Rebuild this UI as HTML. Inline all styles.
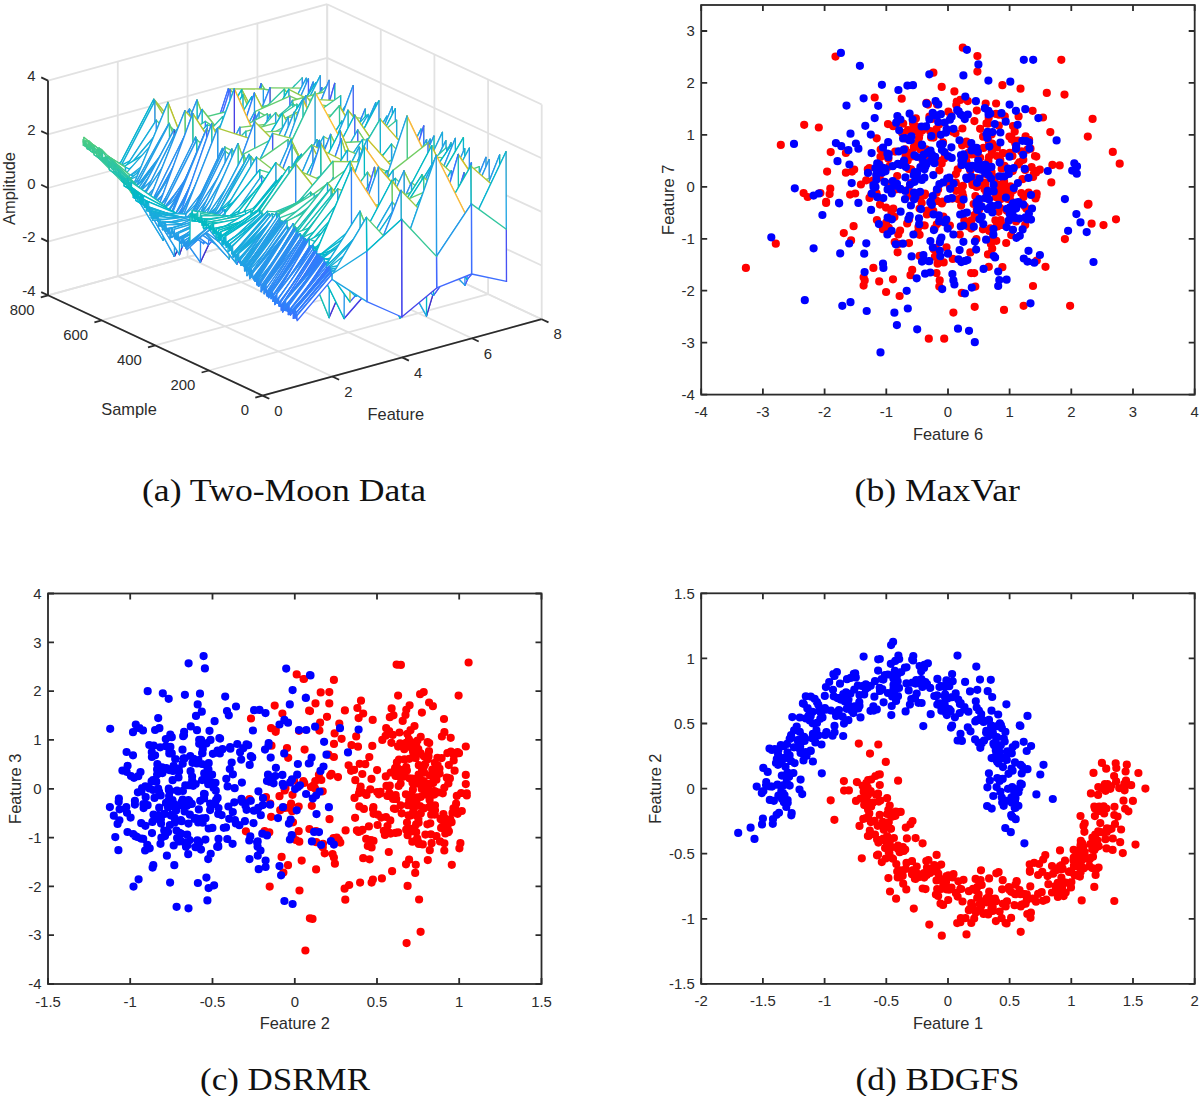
<!DOCTYPE html>
<html><head><meta charset="utf-8"><style>
html,body{margin:0;padding:0;background:#fff;}
body{width:1200px;height:1096px;overflow:hidden;}
svg{display:block;}
.f{fill:#fff;stroke:none}.c0{stroke:#1ca9df}.c1{stroke:#72cd64}.c2{stroke:#64cd6f}.c3{stroke:#2f81fa}.c4{stroke:#24c1ae}.c5{stroke:#20a5e3}.c6{stroke:#2797eb}.c7{stroke:#81cc59}.c8{stroke:#4563fd}.c9{stroke:#2e87f7}.c10{stroke:#259be8}.c11{stroke:#08b5d0}.c12{stroke:#0bbdbd}.c13{stroke:#8fcb4e}.c14{stroke:#18addb}.c15{stroke:#9dc943}.c16{stroke:#2d8cf3}.c17{stroke:#3e6fff}.c18{stroke:#4269fe}.c19{stroke:#4747eb}.c20{stroke:#31c69f}.c21{stroke:#3fca8e}.c22{stroke:#2b91ef}.c23{stroke:#37c897}.c24{stroke:#4758f8}.c25{stroke:#12b1d6}.c26{stroke:#57cc7a}.c27{stroke:#01b8ca}.c28{stroke:#23a0e5}.c29{stroke:#abc739}.c30{stroke:#4acb84}.c31{stroke:#2cc4a7}.c32{stroke:#02bac3}.c33{stroke:#b9c431}.c34{stroke:#4537d5}.c35{stroke:#19bfb6}.c36{stroke:#465efb}.c37{stroke:#402ab4}.c38{stroke:#3875fe}.c39{stroke:#f0ba36}.c40{stroke:#422ec0}.c41{stroke:#e6bb2d}.c42{stroke:#4741e5}.c43{stroke:#4332cb}.c44{stroke:#4852f4}.c45{stroke:#fec338}.c46{stroke:#c5c22a}.c47{stroke:#484df0}.c48{stroke:#327cfc}.c49{stroke:#f8ba3d}.c50{stroke:#d1bf27}
</style></head><body>
<svg width="1200" height="1096" viewBox="0 0 1200 1096">
<g><line x1="48" y1="295.3" x2="327.2" y2="218.9" stroke="#e2e2e2" stroke-width="1.8"/><line x1="541.7" y1="319.2" x2="327.2" y2="218.9" stroke="#e2e2e2" stroke-width="1.8"/><line x1="48" y1="241.6" x2="327.2" y2="165.2" stroke="#e2e2e2" stroke-width="1.8"/><line x1="541.7" y1="265.5" x2="327.2" y2="165.2" stroke="#e2e2e2" stroke-width="1.8"/><line x1="48" y1="188" x2="327.2" y2="111.6" stroke="#e2e2e2" stroke-width="1.8"/><line x1="541.7" y1="211.9" x2="327.2" y2="111.6" stroke="#e2e2e2" stroke-width="1.8"/><line x1="48" y1="134.3" x2="327.2" y2="57.9" stroke="#e2e2e2" stroke-width="1.8"/><line x1="541.7" y1="158.2" x2="327.2" y2="57.9" stroke="#e2e2e2" stroke-width="1.8"/><line x1="48" y1="80.6" x2="327.2" y2="4.2" stroke="#e2e2e2" stroke-width="1.8"/><line x1="541.7" y1="104.5" x2="327.2" y2="4.2" stroke="#e2e2e2" stroke-width="1.8"/><line x1="48" y1="295.3" x2="48" y2="80.6" stroke="#e2e2e2" stroke-width="1.8"/><line x1="262.5" y1="395.6" x2="48" y2="295.3" stroke="#e2e2e2" stroke-width="1.8"/><line x1="117.8" y1="276.2" x2="117.8" y2="61.5" stroke="#e2e2e2" stroke-width="1.8"/><line x1="332.3" y1="376.5" x2="117.8" y2="276.2" stroke="#e2e2e2" stroke-width="1.8"/><line x1="187.6" y1="257.1" x2="187.6" y2="42.4" stroke="#e2e2e2" stroke-width="1.8"/><line x1="402.1" y1="357.4" x2="187.6" y2="257.1" stroke="#e2e2e2" stroke-width="1.8"/><line x1="257.4" y1="238" x2="257.4" y2="23.3" stroke="#e2e2e2" stroke-width="1.8"/><line x1="471.9" y1="338.3" x2="257.4" y2="238" stroke="#e2e2e2" stroke-width="1.8"/><line x1="327.2" y1="218.9" x2="327.2" y2="4.2" stroke="#e2e2e2" stroke-width="1.8"/><line x1="541.7" y1="319.2" x2="327.2" y2="218.9" stroke="#e2e2e2" stroke-width="1.8"/><line x1="541.7" y1="319.2" x2="541.7" y2="104.5" stroke="#e2e2e2" stroke-width="1.8"/><line x1="262.5" y1="395.6" x2="541.7" y2="319.2" stroke="#e2e2e2" stroke-width="1.8"/><line x1="488.1" y1="294.1" x2="488.1" y2="79.4" stroke="#e2e2e2" stroke-width="1.8"/><line x1="208.9" y1="370.5" x2="488.1" y2="294.1" stroke="#e2e2e2" stroke-width="1.8"/><line x1="434.4" y1="269" x2="434.4" y2="54.3" stroke="#e2e2e2" stroke-width="1.8"/><line x1="155.2" y1="345.4" x2="434.4" y2="269" stroke="#e2e2e2" stroke-width="1.8"/><line x1="380.8" y1="244" x2="380.8" y2="29.3" stroke="#e2e2e2" stroke-width="1.8"/><line x1="101.6" y1="320.4" x2="380.8" y2="244" stroke="#e2e2e2" stroke-width="1.8"/><line x1="327.2" y1="218.9" x2="327.2" y2="4.2" stroke="#e2e2e2" stroke-width="1.8"/><line x1="48" y1="295.3" x2="327.2" y2="218.9" stroke="#e2e2e2" stroke-width="1.8"/></g>
<g fill="none" stroke-width="1.35" stroke-linejoin="round" stroke-linecap="round"><path class="c0" d="M259.5 105.2L259.8 138.3 294.7 85.3M294.7 85.3L259.8 138.3"/><path class="c1" d="M260.9 131.2L261.2 83.7 296.1 141.2"/><path class="f" d="M261.4 116.5L296.3 122.8 296.1 141.2 261.2 83.7z"/><path class="c1" d="M296.1 141.2L261.2 83.7"/><path class="f" d="M263.6 149.3L298.5 166.4 298.2 95.4 263.3 89z"/><path class="c2" d="M298.2 95.4L263.3 89"/><path class="c1" d="M302.2 77.9L302 134.4"/><path class="f" d="M267.6 147.6L302.5 158.2 302.2 77.9 267.3 113.8z"/><path class="c3" d="M302.5 158.2L302.2 77.9"/><path class="c4" d="M302.2 77.9L267.3 113.8"/><path class="f" d="M270.3 201.7L305.2 138.2 304.9 88.2 270 87.8z"/><path class="c1" d="M304.9 88.2L270 87.8"/><path class="c5" d="M271.1 159.4L271.3 145.4 306.2 78.3"/><path class="c1" d="M306.2 78.3L306 122.2"/><path class="f" d="M271.6 171.5L306.5 148 306.2 78.3 271.3 145.4z"/><path class="c6" d="M306.5 148L306.2 78.3"/><path class="c5" d="M306.2 78.3L271.3 145.4"/><path class="c6" d="M273.2 165.3L273.5 158.9 308.4 78.8"/><path class="c7" d="M308.4 78.8L308.1 116"/><path class="f" d="M273.8 148.2L308.7 177.9 308.4 78.8 273.5 158.9z"/><path class="c8" d="M308.7 177.9L308.4 78.8"/><path class="c6" d="M308.4 78.8L273.5 158.9"/><path class="c9" d="M278 106.9L278.3 168 313.2 82.1"/><path class="c1" d="M313.2 82.1L312.9 134.2"/><path class="c10" d="M313.5 146.4L313.2 82.1"/><path class="c9" d="M313.2 82.1L278.3 168"/><path class="c11" d="M280.7 143.1L281 137.5 315.9 82.6"/><path class="f" d="M281.3 113.6L316.2 109 315.9 82.6 281 137.5z"/><path class="c11" d="M315.9 82.6L281 137.5"/><path class="c8" d="M226 178.8L226.3 190 261.2 83.7"/><path class="c1" d="M261.2 83.7L260.9 131.2"/><path class="c12" d="M261.4 116.5L261.2 83.7"/><path class="c8" d="M261.2 83.7L226.3 190"/><path class="c2" d="M263.3 89L263 129.6"/><path class="f" d="M228.7 174.2L263.6 149.3 263.3 89 228.4 88.8z"/><path class="c10" d="M263.6 149.3L263.3 89"/><path class="c13" d="M263.3 89L228.4 88.8M283.9 190.2L284.2 89.3 319.1 131.9"/><path class="f" d="M284.5 129.6L319.4 102.7 319.1 131.9 284.2 89.3z"/><path class="c13" d="M319.1 131.9L284.2 89.3"/><path class="c14" d="M285 160.3L285.3 146.5 320.2 75.9"/><path class="c15" d="M320.2 75.9L319.9 137.9"/><path class="c13" d="M229.7 101.5L230 89.6 264.9 129.9"/><path class="f" d="M285.6 192.4L320.5 158.7 320.2 75.9 285.3 146.5z"/><path class="c16" d="M320.5 158.7L320.2 75.9"/><path class="c14" d="M320.2 75.9L285.3 146.5"/><path class="f" d="M230.3 185.7L265.2 182.2 264.9 129.9 230 89.6z"/><path class="c17" d="M230 89.6L230.3 185.7 265.2 182.2"/><path class="c13" d="M264.9 129.9L230 89.6"/><path class="c18" d="M286.6 146.2L286.9 191.1 321.8 87.6"/><path class="c1" d="M321.8 87.6L321.5 119.1"/><path class="c0" d="M322.1 141.7L321.8 87.6"/><path class="c18" d="M321.8 87.6L286.9 191.1"/><path class="f" d="M289 156.2L323.9 168.1 323.7 107.2 288.8 89.3z"/><path class="c13" d="M323.7 107.2L288.8 89.3"/><path class="f" d="M290.1 195L325 123.7 324.7 110.9 289.8 96.2z"/><path class="c1" d="M324.7 110.9L289.8 96.2"/><path class="c9" d="M234.8 109.5L235.1 174.4 270 87.8"/><path class="c1" d="M270 87.8L269.7 165.1"/><path class="f" d="M235.4 136.9L270.3 201.7 270 87.8 235.1 174.4z"/><path class="c19" d="M270.3 201.7L270 87.8"/><path class="c9" d="M270 87.8L235.1 174.4"/><path class="f" d="M291.7 166.2L326.6 148.8 326.4 86.2 291.5 119.3z"/><path class="c20" d="M326.4 86.2L291.5 119.3"/><path class="f" d="M292.8 103.8L327.7 127.9 327.4 91 292.5 100.5z"/><path class="c2" d="M292.5 100.5L292.8 103.8 327.7 127.9"/><path class="c1" d="M327.4 91L292.5 100.5"/><path class="c11" d="M292.8 103.8L293.1 143.9 328 178.7"/><path class="c2" d="M327.7 127.9L292.8 103.8"/><path class="f" d="M238.1 120.6L273 161.1 272.7 104.2 237.8 112.2z"/><path class="c21" d="M272.7 104.2L237.8 112.2"/><path class="c22" d="M293.9 131.2L294.1 169.4 329 80.5"/><path class="c15" d="M329 80.5L328.8 148.1"/><path class="f" d="M294.4 208.4L329.3 188.3 329 80.5 294.1 169.4z"/><path class="c8" d="M329.3 188.3L329 80.5"/><path class="c22" d="M329 80.5L294.1 169.4"/><path class="c11" d="M295.7 110.2L296 145.4 330.9 97.6M330.9 97.6L296 145.4"/><path class="c23" d="M275.6 103L240.7 116.3"/><path class="c2" d="M331.7 129.7L296.8 104.3"/><path class="c15" d="M241.5 162.4L241.8 89.7 276.7 156.4"/><path class="f" d="M242.1 137.9L277 109.6 276.7 156.4 241.8 89.7z"/><path class="c15" d="M276.7 156.4L241.8 89.7"/><path class="c13" d="M242.6 158.3L242.9 94.6 277.8 178.5"/><path class="f" d="M243.1 144.7L278 106.9 277.8 178.5 242.9 94.6z"/><path class="c13" d="M277.8 178.5L242.9 94.6"/><path class="c24" d="M299.5 164.3L299.8 205.7 334.7 83.4"/><path class="c15" d="M334.7 83.4L334.4 167.6"/><path class="f" d="M300 160.9L334.9 140.1 334.7 83.4 299.8 205.7z"/><path class="c25" d="M334.9 140.1L334.7 83.4"/><path class="c24" d="M334.7 83.4L299.8 205.7"/><path class="c26" d="M189.2 168.1L189.5 109.1 224.4 152.3"/><path class="f" d="M189.7 157.3L224.6 115.3 224.4 152.3 189.5 109.1z"/><path class="c26" d="M224.4 152.3L189.5 109.1"/><path class="f" d="M303.5 164.8L338.4 111.8 338.1 100.7 303.2 98.8z"/><path class="c13" d="M338.1 100.7L303.2 98.8"/><path class="c17" d="M193.2 169.2L193.5 196.1 228.4 88.8"/><path class="c13" d="M228.4 88.8L228.1 111.2"/><path class="f" d="M193.8 170.8L228.7 174.2 228.4 88.8 193.5 196.1z"/><path class="c3" d="M228.7 174.2L228.4 88.8"/><path class="c17" d="M228.4 88.8L193.5 196.1"/><path class="c13" d="M284.2 89.3L283.9 190.2"/><path class="f" d="M304.9 200.2L339.8 142.1 339.5 107.8 304.6 102.1z"/><path class="c7" d="M339.5 107.8L304.6 102.1"/><path class="f" d="M249.6 114.6L284.5 129.6 284.2 89.3 249.3 123.4z"/><path class="c12" d="M284.5 129.6L284.2 89.3"/><path class="c20" d="M284.2 89.3L249.3 123.4"/><path class="c1" d="M340.6 95.7L340.3 137"/><path class="f" d="M305.9 95.6L340.8 143.6 340.6 95.7 305.7 120.4z"/><path class="c15" d="M305.7 120.4L305.9 95.6 340.8 143.6"/><path class="c25" d="M340.8 143.6L340.6 95.7"/><path class="c23" d="M340.6 95.7L305.7 120.4"/><path class="c18" d="M194.8 173.9L195.1 198.6 230 89.6"/><path class="c13" d="M230 89.6L229.7 101.5"/><path class="f" d="M306.2 178L341.1 155.8 340.8 143.6 305.9 95.6z"/><path class="c15" d="M340.8 143.6L305.9 95.6"/><path class="f" d="M195.4 171.4L230.3 185.7 230 89.6 195.1 198.6z"/><path class="c17" d="M230.3 185.7L230 89.6"/><path class="c18" d="M230 89.6L195.1 198.6"/><path class="c15" d="M286.6 146.2L251.7 96.8"/><path class="c13" d="M196.7 179.4L197 100.1 231.9 194"/><path class="f" d="M197.3 146L232.2 147.4 231.9 194 197 100.1z"/><path class="c13" d="M231.9 194L197 100.1"/><path class="c27" d="M253.6 156.7L253.9 146.7 288.8 89.3"/><path class="c13" d="M288.8 89.3L288.5 180.3"/><path class="f" d="M254.1 161.2L289 156.2 288.8 89.3 253.9 146.7z"/><path class="c28" d="M289 156.2L288.8 89.3"/><path class="c27" d="M288.8 89.3L253.9 146.7"/><path class="c29" d="M254.1 161.2L254.4 93 289.3 160"/><path class="f" d="M254.7 174.8L289.6 131.6 289.3 160 254.4 93z"/><path class="c29" d="M289.3 160L254.4 93"/><path class="c1" d="M289.8 96.2L289.6 131.6"/><path class="f" d="M255.2 114.3L290.1 195 289.8 96.2 254.9 111.6z"/><path class="c26" d="M254.9 111.6L255.2 114.3 290.1 195"/><path class="c8" d="M290.1 195L289.8 96.2"/><path class="c2" d="M289.8 96.2L254.9 111.6"/><path class="c26" d="M290.1 195L255.2 114.3"/><path class="c25" d="M310.8 196.8L311 154.9 345.9 105.5"/><path class="f" d="M200.2 169.1L235.1 174.4 234.8 109.5 199.9 118.4z"/><path class="c30" d="M234.8 109.5L199.9 118.4"/><path class="c25" d="M345.9 105.5L311 154.9"/><path class="c1" d="M201.8 207.5L202.1 109.5 237 154"/><path class="c5" d="M257.4 133.6L257.6 164.4 292.5 100.5"/><path class="c1" d="M292.5 100.5L292.3 170.6"/><path class="f" d="M202.3 151.4L237.2 139 237 154 202.1 109.5z"/><path class="c1" d="M237 154L202.1 109.5"/><path class="f" d="M257.9 133.5L292.8 103.8 292.5 100.5 257.6 164.4z"/><path class="c2" d="M292.8 103.8L292.5 100.5"/><path class="c5" d="M292.5 100.5L257.6 164.4"/><path class="f" d="M258.2 139.3L293.1 143.9 292.8 103.8 257.9 133.5z"/><path class="c11" d="M293.1 143.9L292.8 103.8"/><path class="c31" d="M292.8 103.8L257.9 133.5"/><path class="f" d="M259.2 160.4L294.1 169.4 293.9 131.2 259 112.2z"/><path class="c2" d="M293.9 131.2L259 112.2"/><path class="f" d="M205.6 201.2L240.5 129.3 240.2 143.9 205.3 121.4z"/><path class="c30" d="M240.2 143.9L205.3 121.4"/><path class="c23" d="M240.7 116.3L205.8 128.1"/><path class="c2" d="M296.8 104.3L296.5 147.9"/><path class="f" d="M262.2 211.9L297.1 141.3 296.8 104.3 261.9 127.7z"/><path class="c27" d="M297.1 141.3L296.8 104.3"/><path class="c23" d="M296.8 104.3L261.9 127.7"/><path class="c32" d="M206.6 152L206.9 147.6 241.8 89.7"/><path class="c15" d="M241.8 89.7L241.5 162.4"/><path class="f" d="M207.2 124.9L242.1 137.9 241.8 89.7 206.9 147.6z"/><path class="c32" d="M242.1 137.9L241.8 89.7M241.8 89.7L206.9 147.6"/><path class="c6" d="M318 168.8L318.3 178.5 353.2 85.6"/><path class="c33" d="M353.2 85.6L352.9 159.8"/><path class="f" d="M207.4 184L242.3 105.8 242.1 137.9 207.2 124.9z"/><path class="c21" d="M242.1 137.9L207.2 124.9"/><path class="f" d="M318.5 161.3L353.4 200.5 353.2 85.6 318.3 178.5z"/><path class="c8" d="M353.4 200.5L353.2 85.6"/><path class="c6" d="M353.2 85.6L318.3 178.5"/><path class="c11" d="M207.7 160.6L208 154.6 242.9 94.6"/><path class="c13" d="M242.9 94.6L242.6 158.3"/><path class="f" d="M208.2 183L243.1 144.7 242.9 94.6 208 154.6z"/><path class="c11" d="M243.1 144.7L242.9 94.6M242.9 94.6L208 154.6"/><path class="c6" d="M153.2 138.2L153.5 179.7 188.4 110.9"/><path class="c29" d="M153.5 179.7L153.8 99.3 188.7 141.7"/><path class="c6" d="M188.4 110.9L153.5 179.7"/><path class="f" d="M154 198.3L188.9 150.5 188.7 141.7 153.8 99.3z"/><path class="c29" d="M188.7 141.7L153.8 99.3"/><path class="c16" d="M154.3 165.1L154.6 184.8 189.5 109.1"/><path class="c26" d="M189.5 109.1L189.2 168.1"/><path class="f" d="M154.8 101.1L189.7 157.3 189.5 109.1 154.6 184.8z"/><path class="c15" d="M154.6 184.8L154.8 101.1 189.7 157.3"/><path class="c0" d="M189.7 157.3L189.5 109.1"/><path class="c16" d="M189.5 109.1L154.6 184.8"/><path class="f" d="M155.1 183.4L190 199.3 189.7 157.3 154.8 101.1z"/><path class="c15" d="M189.7 157.3L154.8 101.1"/><path class="f" d="M156.5 186.7L191.4 115.7 191.1 154 156.2 120.3z"/><path class="c26" d="M191.1 154L156.2 120.3"/><path class="f" d="M267.5 162.8L302.4 129.9 302.2 144.9 267.3 113.9z"/><path class="c1" d="M302.2 144.9L267.3 113.9"/><path class="c27" d="M268.1 179.6L268.3 153.1 303.2 98.8"/><path class="f" d="M268.6 149L303.5 164.8 303.2 98.8 268.3 153.1z"/><path class="c28" d="M303.5 164.8L303.2 98.8"/><path class="c27" d="M303.2 98.8L268.3 153.1"/><path class="c1" d="M270 118.6L270.2 114.5 305.1 200.9M305.1 200.9L270.2 114.5"/><path class="c5" d="M270.8 140.7L271 173.1 305.9 95.6"/><path class="c15" d="M305.9 95.6L305.7 120.4"/><path class="f" d="M271.3 160.5L306.2 178 305.9 95.6 271 173.1z"/><path class="c16" d="M306.2 178L305.9 95.6"/><path class="c5" d="M305.9 95.6L271 173.1M327.1 160.5L327.4 171.3 362.3 116.3M362.3 116.3L327.4 171.3"/><path class="c27" d="M216.6 130.6L216.8 155.5 251.7 96.8"/><path class="f" d="M327.9 183.7L362.8 169.6 362.5 118.4 327.6 114.9z"/><path class="c1" d="M362.5 118.4L327.6 114.9"/><path class="f" d="M217.1 178.5L252 181.7 251.7 96.8 216.8 155.5z"/><path class="c9" d="M252 181.7L251.7 96.8"/><path class="c27" d="M251.7 96.8L216.8 155.5"/><path class="c22" d="M161.8 159.1L162.1 187.1 197 100.1"/><path class="c13" d="M197 100.1L196.7 179.4"/><path class="f" d="M162.4 155.8L197.3 146 197 100.1 162.1 187.1z"/><path class="c27" d="M197.3 146L197 100.1"/><path class="c22" d="M197 100.1L162.1 187.1"/><path class="c34" d="M162.9 146.2L163.2 240.4 198.1 155M198.1 155L163.2 240.4"/><path class="c9" d="M330.1 169.6L330.3 194.6 365.2 109.1"/><path class="c2" d="M365.2 109.1L365 156.2"/><path class="c3" d="M219.2 160.6L219.5 198.8 254.4 93"/><path class="c29" d="M254.4 93L254.1 161.2"/><path class="f" d="M275.1 144.8L310 151.6 309.7 106.1 274.8 123.4z"/><path class="c26" d="M309.7 106.1L274.8 123.4"/><path class="f" d="M330.6 188L365.5 136.9 365.2 109.1 330.3 194.6z"/><path class="c35" d="M365.5 136.9L365.2 109.1"/><path class="c9" d="M365.2 109.1L330.3 194.6"/><path class="f" d="M219.8 148.1L254.7 174.8 254.4 93 219.5 198.8z"/><path class="c6" d="M254.7 174.8L254.4 93"/><path class="c3" d="M254.4 93L219.5 198.8"/><path class="c28" d="M219.8 148.1L220 177.2 254.9 111.6"/><path class="c2" d="M254.9 111.6L254.7 174.8"/><path class="c7" d="M275.3 154.5L275.6 112.6 310.5 157"/><path class="f" d="M220.3 217.1L255.2 114.3 254.9 111.6 220 177.2z"/><path class="c36" d="M220 177.2L220.3 217.1 255.2 114.3"/><path class="c26" d="M255.2 114.3L254.9 111.6"/><path class="c28" d="M254.9 111.6L220 177.2"/><path class="f" d="M275.9 182.2L310.8 196.8 310.5 157 275.6 112.6z"/><path class="c7" d="M310.5 157L275.6 112.6"/><path class="c10" d="M255.5 171.5L255.2 114.3"/><path class="c36" d="M255.2 114.3L220.3 217.1"/><path class="f" d="M332.2 186.8L367.1 167.2 366.8 114.9 331.9 153.6z"/><path class="c32" d="M366.8 114.9L331.9 153.6"/><path class="c0" d="M333 186.2L333.3 172.5 368.2 114.5"/><path class="c26" d="M368.2 114.5L367.9 142.8"/><path class="f" d="M333.5 118.2L368.4 162 368.2 114.5 333.3 172.5z"/><path class="c0" d="M368.4 162L368.2 114.5M368.2 114.5L333.3 172.5"/><path class="c6" d="M166.9 151.8L167.2 184.9 202.1 109.5"/><path class="c1" d="M202.1 109.5L201.8 207.5M257.4 133.6L222.5 116.7"/><path class="f" d="M167.4 145.1L202.3 151.4 202.1 109.5 167.2 184.9z"/><path class="c11" d="M202.3 151.4L202.1 109.5"/><path class="c6" d="M202.1 109.5L167.2 184.9"/><path class="c33" d="M167.7 202.7L168 102.5 202.9 192.5"/><path class="f" d="M168.3 124.5L203.2 160.7 202.9 192.5 168 102.5z"/><path class="c26" d="M168 102.5L168.3 124.5 203.2 160.7"/><path class="c33" d="M202.9 192.5L168 102.5"/><path class="f" d="M168.5 160.8L203.4 176.7 203.2 160.7 168.3 124.5z"/><path class="c26" d="M203.2 160.7L168.3 124.5"/><path class="c22" d="M223.8 162.5L224.1 189.9 259 112.2"/><path class="c2" d="M259 112.2L258.7 139.9"/><path class="f" d="M224.3 164.8L259.2 160.4 259 112.2 224.1 189.9z"/><path class="c14" d="M259.2 160.4L259 112.2"/><path class="c22" d="M259 112.2L224.1 189.9"/><path class="c2" d="M169.1 194.2L169.3 123.5 204.2 222.2"/><path class="f" d="M169.6 143.7L204.5 151.2 204.2 222.2 169.3 123.5z"/><path class="c31" d="M169.3 123.5L169.6 143.7 204.5 151.2"/><path class="c2" d="M204.2 222.2L169.3 123.5"/><path class="c30" d="M205.3 121.4L205 168.5"/><path class="f" d="M170.7 171.1L205.6 201.2 205.3 121.4 170.4 143.9z"/><path class="c17" d="M205.6 201.2L205.3 121.4"/><path class="c31" d="M205.3 121.4L170.4 143.9"/><path class="c13" d="M282 163L282.3 113.4 317.2 175.2"/><path class="f" d="M282.6 145.5L317.5 145.7 317.2 175.2 282.3 113.4z"/><path class="c13" d="M317.2 175.2L282.3 113.4"/><path class="c21" d="M207.2 124.9L206.9 147.6"/><path class="f" d="M172.5 150.8L207.4 184 207.2 124.9 172.3 161.7z"/><path class="c16" d="M207.4 184L207.2 124.9"/><path class="c27" d="M207.2 124.9L172.3 161.7"/><path class="c33" d="M339.2 206.6L339.4 105.8 374.3 165.9"/><path class="f" d="M339.7 137.4L374.6 158.6 374.3 165.9 339.4 105.8z"/><path class="c33" d="M374.3 165.9L339.4 105.8"/><path class="c11" d="M153.2 138.2L118.3 163.8M118.6 168.2L118.9 166.1 153.8 99.3"/><path class="c29" d="M153.8 99.3L153.5 179.7"/><path class="c28" d="M340.5 190.2L340.8 182.5 375.7 102.7"/><path class="c15" d="M375.7 102.7L375.4 143.1"/><path class="f" d="M174.4 256.4L209.3 185.2 209.1 150.1 174.1 129.6z"/><path class="c37" d="M174.1 129.6L174.4 256.4 209.3 185.2"/><path class="c26" d="M209.1 150.1L174.1 129.6"/><path class="f" d="M119.1 168.5L154 198.3 153.8 99.3 118.9 166.1z"/><path class="c38" d="M154 198.3L153.8 99.3"/><path class="c11" d="M153.8 99.3L118.9 166.1"/><path class="c32" d="M376 149.3L375.7 102.7"/><path class="c28" d="M375.7 102.7L340.8 182.5"/><path class="f" d="M174.7 180.3L209.6 141.5 209.3 185.2 174.4 256.4z"/><path class="c37" d="M209.3 185.2L174.4 256.4"/><path class="c25" d="M119.7 169.2L119.9 168.2 154.8 101.1"/><path class="c15" d="M154.8 101.1L154.6 184.8"/><path class="c1" d="M341.6 160.5L341.9 121.2 376.8 170.4"/><path class="f" d="M120.2 172.5L155.1 183.4 154.8 101.1 119.9 168.2z"/><path class="c22" d="M155.1 183.4L154.8 101.1"/><path class="c25" d="M154.8 101.1L119.9 168.2"/><path class="c1" d="M376.8 170.4L341.9 121.2"/><path class="f" d="M121.3 174.2L156.2 120.3 155.9 147.8 121 165.4z"/><path class="c14" d="M121 165.4L121.3 174.2 156.2 120.3"/><path class="c26" d="M156.2 120.3L155.9 147.8"/><path class="c11" d="M155.9 147.8L121 165.4"/><path class="c1" d="M267.3 113.9L267 140.1"/><path class="f" d="M121.6 171.9L156.5 186.7 156.2 120.3 121.3 174.2z"/><path class="c16" d="M156.5 186.7L156.2 120.3"/><path class="c14" d="M156.2 120.3L121.3 174.2"/><path class="f" d="M232.6 148.5L267.5 162.8 267.3 113.9 232.4 131.9z"/><path class="c14" d="M267.5 162.8L267.3 113.9"/><path class="c30" d="M267.3 113.9L232.4 131.9"/><path class="c14" d="M121.6 171.9L121.8 174.5 156.7 133.7"/><path class="f" d="M288.5 189.5L323.4 139.4 323.1 114.3 288.2 117.3z"/><path class="c13" d="M323.1 114.3L288.2 117.3"/><path class="f" d="M122.1 167.6L157 146.7 156.7 133.7 121.8 174.5z"/><path class="c14" d="M156.7 133.7L121.8 174.5"/><path class="c11" d="M343.7 191L344 166.5 378.9 100.9"/><path class="c29" d="M378.9 100.9L378.6 166.6"/><path class="f" d="M122.4 170.1L157.3 204.1 157 146.7 122.1 167.6z"/><path class="c11" d="M157 146.7L122.1 167.6"/><path class="f" d="M344.3 146.9L379.2 187.7 378.9 100.9 344 166.5z"/><path class="c16" d="M379.2 187.7L378.9 100.9"/><path class="c11" d="M378.9 100.9L344 166.5"/><path class="c39" d="M234 179.8L234.3 88.8 269.2 167.8"/><path class="f" d="M234.5 241.8L269.4 165.6 269.2 167.8 234.3 88.8z"/><path class="c39" d="M269.2 167.8L234.3 88.8"/><path class="c20" d="M213.9 128.8L179 142.3"/><path class="c40" d="M179.2 216.9L179.5 254.6 214.4 152.6"/><path class="f" d="M179.8 177.8L214.7 167.3 214.4 152.6 179.5 254.6z"/><path class="c40" d="M214.4 152.6L179.5 254.6"/><path class="c10" d="M235.1 156.5L235.3 187.5 270.2 114.5"/><path class="c1" d="M270.2 114.5L270 118.6"/><path class="c12" d="M270 118.6L235.1 156.5"/><path class="f" d="M235.6 143.8L270.5 132.1 270.2 114.5 235.3 187.5z"/><path class="c23" d="M270.5 132.1L270.2 114.5"/><path class="c10" d="M270.2 114.5L235.3 187.5"/><path class="c25" d="M159.9 144.9L125 172.3"/><path class="f" d="M125.6 172.4L160.5 186.3 160.2 184.6 125.3 167.1z"/><path class="c25" d="M125.3 167.1L125.6 172.4 160.5 186.3"/><path class="c11" d="M160.2 184.6L125.3 167.1"/><path class="f" d="M126.1 180.9L161 189.4 160.7 134.2 125.8 173.6z"/><path class="c14" d="M160.7 134.2L125.8 173.6"/><path class="c29" d="M347.8 155.8L348 110.3 382.9 153.1"/><path class="f" d="M348.3 168.1L383.2 132 382.9 153.1 348 110.3z"/><path class="c29" d="M382.9 153.1L348 110.3"/><path class="f" d="M126.6 181.9L161.5 164.4 161.3 151.4 126.4 178.3z"/><path class="c0" d="M161.3 151.4L126.4 178.3"/><path class="f" d="M127.7 177.6L162.6 205.3 162.4 155.8 127.5 177.5z"/><path class="c0" d="M162.4 155.8L127.5 177.5"/><path class="f" d="M294.6 147.8L329.5 187.1 329.3 148.6 294.4 112.1z"/><path class="c29" d="M329.3 148.6L294.4 112.1"/><path class="c5" d="M128 183.1L128.3 184 163.2 240.4M162.9 146.2L128 183.1"/><path class="f" d="M128.5 181L163.4 158.3 163.2 240.4 128.3 184z"/><path class="c11" d="M163.4 158.3L163.2 240.4"/><path class="c5" d="M163.2 240.4L128.3 184"/><path class="f" d="M240.2 224.5L275.1 144.8 274.8 123.4 239.9 127.3z"/><path class="c1" d="M274.8 123.4L239.9 127.3"/><path class="f" d="M129.6 182.6L164.5 163.5 164.2 187.3 129.3 174.6z"/><path class="c25" d="M164.2 187.3L129.3 174.6"/><path class="f" d="M185.1 134.8L220 177.2 219.8 148.1 184.9 110.7z"/><path class="c26" d="M184.9 110.7L185.1 134.8 220 177.2"/><path class="c33" d="M219.8 148.1L184.9 110.7"/><path class="c7" d="M275.6 112.6L275.3 154.5"/><path class="f" d="M241 203.1L275.9 182.2 275.6 112.6 240.7 151.2z"/><path class="c10" d="M275.9 182.2L275.6 112.6"/><path class="c31" d="M275.6 112.6L240.7 151.2"/><path class="c14" d="M351.8 187.4L352 176.1 386.9 116.2"/><path class="f" d="M352.3 182.9L387.2 165.6 386.9 116.2 352 176.1z"/><path class="c25" d="M387.2 165.6L386.9 116.2"/><path class="c14" d="M386.9 116.2L352 176.1"/><path class="f" d="M130.7 183.7L165.6 211 165.3 151.4 130.4 178.4z"/><path class="c14" d="M165.3 151.4L130.4 178.4"/><path class="f" d="M131.5 186.5L166.4 166.3 166.1 163.8 131.2 178.8z"/><path class="c14" d="M166.1 163.8L131.2 178.8"/><path class="f" d="M187.8 154.9L222.7 123.5 222.5 116.7 187.6 154.6z"/><path class="c26" d="M222.7 123.5L222.5 116.7"/><path class="c4" d="M222.5 116.7L187.6 154.6M222.7 123.5L187.8 154.9"/><path class="c5" d="M167.4 145.1L132.5 184.1"/><path class="c29" d="M354.5 195.9L354.7 115.2 389.6 166"/><path class="c5" d="M132.8 186.6L133.1 186.1 168 102.5"/><path class="c33" d="M168 102.5L167.7 202.7"/><path class="f" d="M355 222L389.9 133.9 389.6 166 354.7 115.2z"/><path class="c29" d="M389.6 166L354.7 115.2"/><path class="f" d="M133.4 187.2L168.3 124.5 168 102.5 133.1 186.1z"/><path class="c28" d="M133.1 186.1L133.4 187.2 168.3 124.5"/><path class="c26" d="M168.3 124.5L168 102.5"/><path class="c5" d="M168 102.5L133.1 186.1"/><path class="f" d="M133.6 183.9L168.5 160.8 168.3 124.5 133.4 187.2z"/><path class="c28" d="M168.3 124.5L133.4 187.2"/><path class="f" d="M133.9 186.8L168.8 174.4 168.5 160.8 133.6 183.9z"/><path class="c5" d="M168.5 160.8L133.6 183.9"/><path class="c28" d="M134.2 183.7L134.4 189.9 169.3 123.5"/><path class="c2" d="M169.3 123.5L169.1 194.2"/><path class="c0" d="M169.1 194.2L134.2 183.7"/><path class="f" d="M134.7 189.4L169.6 143.7 169.3 123.5 134.4 189.9z"/><path class="c28" d="M134.4 189.9L134.7 189.4 169.6 143.7"/><path class="c31" d="M169.6 143.7L169.3 123.5"/><path class="c28" d="M169.3 123.5L134.4 189.9M169.6 143.7L134.7 189.4"/><path class="f" d="M246.1 178.6L281 178.4 280.7 121.7 245.8 131.3z"/><path class="c2" d="M280.7 121.7L245.8 131.3"/><path class="c28" d="M135.2 188.6L135.5 189 170.4 143.9M357.1 138.6L357.4 189 392.3 106.6"/><path class="c29" d="M392.3 106.6L392 179"/><path class="c28" d="M170.4 143.9L135.5 189"/><path class="f" d="M357.7 130L392.6 183.7 392.3 106.6 357.4 189z"/><path class="c1" d="M357.4 189L357.7 130 392.6 183.7"/><path class="c10" d="M392.6 183.7L392.3 106.6"/><path class="c28" d="M392.3 106.6L357.4 189"/><path class="f" d="M357.9 226.2L392.8 179.1 392.6 183.7 357.7 130z"/><path class="c1" d="M392.6 183.7L357.7 130"/><path class="c11" d="M247.1 203.2L247.4 171.9 282.3 113.4"/><path class="c13" d="M282.3 113.4L282 163"/><path class="c41" d="M302.7 178.4L302.9 99.4 337.8 174.8"/><path class="f" d="M136.6 189L171.5 202.9 171.2 159.3 136.3 185.9z"/><path class="c5" d="M171.2 159.3L136.3 185.9"/><path class="f" d="M247.7 188.2L282.6 145.5 282.3 113.4 247.4 171.9z"/><path class="c4" d="M282.6 145.5L282.3 113.4"/><path class="c11" d="M282.3 113.4L247.4 171.9"/><path class="f" d="M303.2 162.4L338.1 189.7 337.8 174.8 302.9 99.4z"/><path class="c41" d="M337.8 174.8L302.9 99.4"/><path class="c28" d="M136.8 195.6L137.1 190.2 172 140.3"/><path class="c33" d="M192.4 171.3L192.7 113.4 227.6 168.1"/><path class="f" d="M137.4 201.2L172.3 161.7 172 140.3 137.1 190.2z"/><path class="c28" d="M172 140.3L137.1 190.2"/><path class="f" d="M192.9 157.4L227.8 145 227.6 168.1 192.7 113.4z"/><path class="c4" d="M192.7 113.4L192.9 157.4 227.8 145"/><path class="c33" d="M227.6 168.1L192.7 113.4"/><path class="c23" d="M304.3 267L304.5 146.4 339.4 105.8"/><path class="c33" d="M339.4 105.8L339.2 206.6"/><path class="f" d="M304.8 159.2L339.7 137.4 339.4 105.8 304.5 146.4z"/><path class="c23" d="M339.7 137.4L339.4 105.8M339.4 105.8L304.5 146.4"/><path class="c28" d="M138.2 191.4L138.4 191.6 173.3 143.3"/><path class="c11" d="M360.1 180.9L360.4 176.1 395.3 108.7"/><path class="c29" d="M395.3 108.7L395 202.5"/><path class="c30" d="M82.9 139.8L83.2 141.9 118.1 164.7M117.8 165.3L82.9 139.8"/><path class="c28" d="M173.3 143.3L138.4 191.6"/><path class="f" d="M360.6 201.6L395.5 185.5 395.3 108.7 360.4 176.1z"/><path class="c10" d="M395.5 185.5L395.3 108.7"/><path class="c11" d="M395.3 108.7L360.4 176.1"/><path class="c0" d="M249.5 182L249.8 183.1 284.7 124"/><path class="c21" d="M83.2 141.9L83.4 145.2 118.3 163.8"/><path class="c30" d="M118.1 164.7L83.2 141.9M83.4 145.2L83.7 140.4 118.6 168.2"/><path class="c21" d="M118.3 163.8L83.4 145.2"/><path class="c10" d="M139 193.5L139.2 194.9 174.1 129.6"/><path class="c26" d="M174.1 129.6L173.9 188M83.7 140.4L84 137.5 118.9 166.1"/><path class="f" d="M139.5 193.5L174.4 256.4 174.1 129.6 139.2 194.9z"/><path class="c10" d="M139.2 194.9L139.5 193.5 174.4 256.4"/><path class="c37" d="M174.4 256.4L174.1 129.6"/><path class="c10" d="M174.1 129.6L139.2 194.9"/><path class="f" d="M84.2 144.9L119.1 168.5 118.9 166.1 84 137.5z"/><path class="c21" d="M84 137.5L84.2 144.9 119.1 168.5"/><path class="c26" d="M118.9 166.1L84 137.5"/><path class="f" d="M139.8 190.2L174.7 180.3 174.4 256.4 139.5 193.5z"/><path class="c28" d="M174.7 180.3L174.4 256.4"/><path class="c10" d="M174.4 256.4L139.5 193.5"/><path class="c7" d="M396.6 120.2L396.3 162.7"/><path class="f" d="M250.9 159.8L285.8 165.9 285.5 126 250.6 145.4z"/><path class="c21" d="M285.5 126L250.6 145.4"/><path class="c30" d="M84.2 144.9L84.5 142.6 119.4 168.1"/><path class="c21" d="M119.1 168.5L84.2 144.9"/><path class="f" d="M362 141.5L396.9 174.1 396.6 120.2 361.7 148.9z"/><path class="c0" d="M396.9 174.1L396.6 120.2"/><path class="c23" d="M396.6 120.2L361.7 148.9"/><path class="c26" d="M195.3 158L195.6 137.2 230.5 205.5"/><path class="c21" d="M84.5 142.6L84.8 143.8 119.7 169.2"/><path class="c26" d="M230.5 205.5L195.6 137.2"/><path class="c30" d="M84.8 143.8L85 140.7 119.9 168.2"/><path class="c21" d="M119.7 169.2L84.8 143.8"/><path class="c11" d="M306.7 172.9L307 176.7 341.9 121.2"/><path class="c1" d="M341.9 121.2L341.6 160.5"/><path class="c28" d="M175.2 157.1L140.3 191.5"/><path class="c30" d="M85 140.7L85.3 141.4 120.2 172.5M119.9 168.2L85 140.7"/><path class="f" d="M307.2 170.4L342.1 164.7 341.9 121.2 307 176.7z"/><path class="c11" d="M342.1 164.7L341.9 121.2M341.9 121.2L307 176.7"/><path class="f" d="M362.8 166.6L397.7 173.4 397.4 143.8 362.5 139.6z"/><path class="c26" d="M397.4 143.8L362.5 139.6"/><path class="f" d="M251.9 211.3L286.9 200.8 286.6 130.6 251.7 132.7z"/><path class="c1" d="M286.6 130.6L251.7 132.7"/><path class="c21" d="M85.3 141.4L85.6 143.5 120.5 167.5"/><path class="c30" d="M120.2 172.5L85.3 141.4"/><path class="c21" d="M85.6 143.5L85.8 145.4 120.7 166.1"/><path class="f" d="M141.4 197.9L176.3 162.8 176 158.5 141.1 190.5z"/><path class="c28" d="M176 158.5L141.1 190.5"/><path class="f" d="M196.9 166.8L231.8 158.6 231.6 166.7 196.7 139.9z"/><path class="c26" d="M231.6 166.7L196.7 139.9"/><path class="c30" d="M85.8 145.4L86.1 141 121 165.4"/><path class="c21" d="M120.7 166.1L85.8 145.4"/><path class="f" d="M86.4 147.1L121.3 174.2 121 165.4 86.1 141z"/><path class="c21" d="M86.1 141L86.4 147.1 121.3 174.2"/><path class="c30" d="M121 165.4L86.1 141"/><path class="c23" d="M86.4 147.1L86.7 147.5 121.6 171.9"/><path class="c28" d="M176.8 169L141.9 192.7"/><path class="c0" d="M253 148.1L253.3 185.7 288.2 117.3"/><path class="c13" d="M288.2 117.3L287.9 191.9"/><path class="c30" d="M86.7 147.5L86.9 144 121.8 174.5"/><path class="c23" d="M121.6 171.9L86.7 147.5"/><path class="f" d="M253.6 186.4L288.5 189.5 288.2 117.3 253.3 185.7z"/><path class="c6" d="M288.5 189.5L288.2 117.3"/><path class="c0" d="M288.2 117.3L253.3 185.7"/><path class="c23" d="M86.9 144L87.2 148.7 122.1 167.6"/><path class="c30" d="M121.8 174.5L86.9 144"/><path class="c21" d="M87.2 148.7L87.5 145.8 122.4 170.1"/><path class="c23" d="M122.1 167.6L87.2 148.7"/><path class="c10" d="M142.7 195.2L143 197.2 177.9 127.9"/><path class="c21" d="M122.4 170.1L87.5 145.8"/><path class="f" d="M143.3 197.4L178.2 143.5 177.9 127.9 143 197.2z"/><path class="c20" d="M178.2 143.5L177.9 127.9"/><path class="c10" d="M177.9 127.9L143 197.2"/><path class="c23" d="M87.7 146.4L88 148.1 122.9 170.9"/><path class="c21" d="M88 148.1L88.3 147 123.2 171.3"/><path class="c23" d="M122.9 170.9L88 148.1"/><path class="c14" d="M199.1 189.5L199.4 182.9 234.3 88.8"/><path class="c39" d="M234.3 88.8L234 179.8"/><path class="f" d="M254.9 203.1L289.8 156.6 289.5 156.4 254.6 121.4z"/><path class="c29" d="M289.5 156.4L254.6 121.4"/><path class="c26" d="M88.3 147L88.5 141.2 123.4 170.8"/><path class="c21" d="M123.2 171.3L88.3 147"/><path class="c28" d="M143.8 193.1L144.1 195.1 179 142.3"/><path class="f" d="M199.6 166.8L234.5 241.8 234.3 88.8 199.4 182.9z"/><path class="c42" d="M234.5 241.8L234.3 88.8"/><path class="c14" d="M234.3 88.8L199.4 182.9"/><path class="c26" d="M88.5 141.2L88.8 140.9 123.7 174.1M123.4 170.8L88.5 141.2"/><path class="f" d="M144.3 195L179.2 216.9 179 142.3 144.1 195.1z"/><path class="c28" d="M179 142.3L144.1 195.1"/><path class="c21" d="M88.8 140.9L89.1 147.6 124 175.5"/><path class="c26" d="M123.7 174.1L88.8 140.9"/><path class="c10" d="M144.3 195L144.6 198.5 179.5 254.6"/><path class="f" d="M144.9 199.4L179.8 177.8 179.5 254.6 144.6 198.5z"/><path class="c0" d="M179.8 177.8L179.5 254.6"/><path class="c10" d="M179.5 254.6L144.6 198.5"/><path class="c43" d="M200.2 173.8L200.4 262.2 235.3 187.5"/><path class="f" d="M89.6 142.3L124.5 176.7 124.2 183.7 89.3 148.6z"/><path class="c30" d="M89.3 148.6L89.6 142.3 124.5 176.7"/><path class="c23" d="M124.2 183.7L89.3 148.6"/><path class="f" d="M200.7 207L235.6 143.8 235.3 187.5 200.4 262.2z"/><path class="c43" d="M235.3 187.5L200.4 262.2"/><path class="c30" d="M89.6 142.3L89.9 143.1 124.8 176.3M124.5 176.7L89.6 142.3"/><path class="c21" d="M89.9 143.1L90.1 146.5 125 172.3"/><path class="c30" d="M124.8 176.3L89.9 143.1"/><path class="f" d="M145.7 199.1L180.6 179.9 180.3 159.6 145.4 197.7z"/><path class="c10" d="M180.3 159.6L145.4 197.7"/><path class="c30" d="M90.1 146.5L90.4 145.4 125.3 167.1"/><path class="c11" d="M125.3 167.1L125 172.3"/><path class="c21" d="M125 172.3L90.1 146.5"/><path class="f" d="M90.7 144.8L125.6 172.4 125.3 167.1 90.4 145.4z"/><path class="c30" d="M90.4 145.4L90.7 144.8 125.6 172.4"/><path class="c25" d="M125.6 172.4L125.3 167.1"/><path class="c30" d="M125.3 167.1L90.4 145.4"/><path class="c23" d="M90.7 144.8L90.9 151.1 125.8 173.6"/><path class="c30" d="M125.6 172.4L90.7 144.8"/><path class="c28" d="M181.1 179.8L146.2 196.2"/><path class="f" d="M91.2 147.7L126.1 180.9 125.8 173.6 90.9 151.1z"/><path class="c21" d="M90.9 151.1L91.2 147.7 126.1 180.9"/><path class="c23" d="M125.8 173.6L90.9 151.1"/><path class="c5" d="M312.9 155.2L313.1 191.9 348 110.3"/><path class="c29" d="M348 110.3L347.8 155.8"/><path class="c21" d="M91.2 147.7L91.5 146.2 126.4 178.3M126.1 180.9L91.2 147.7"/><path class="f" d="M313.4 195.4L348.3 168.1 348 110.3 313.1 191.9z"/><path class="c11" d="M348.3 168.1L348 110.3"/><path class="c5" d="M348 110.3L313.1 191.9"/><path class="c21" d="M91.5 146.2L91.7 148 126.6 181.9M126.4 178.3L91.5 146.2M126.6 181.9L91.7 148"/><path class="c30" d="M92 147.4L92.3 145.9 127.2 179"/><path class="c23" d="M92.3 145.9L92.6 150.9 127.5 177.5"/><path class="c30" d="M127.2 179L92.3 145.9"/><path class="c44" d="M203.4 233L203.6 243.5 238.5 158.9"/><path class="c21" d="M92.6 150.9L92.8 148.6 127.7 177.6"/><path class="c23" d="M127.5 177.5L92.6 150.9"/><path class="c44" d="M238.5 158.9L203.6 243.5"/><path class="c28" d="M259.2 158.3L259.5 197.3 294.4 112.1"/><path class="c29" d="M294.4 112.1L294.1 142.8"/><path class="c23" d="M92.8 148.6L93.1 151.1 128 183.1"/><path class="c21" d="M127.7 177.6L92.8 148.6"/><path class="c45" d="M314.7 229.2L315 92.2 349.9 156.2"/><path class="f" d="M259.7 164.5L294.6 147.8 294.4 112.1 259.5 197.3z"/><path class="c31" d="M294.6 147.8L294.4 112.1"/><path class="c28" d="M294.4 112.1L259.5 197.3"/><path class="c21" d="M93.1 151.1L93.4 147.4 128.3 184"/><path class="c23" d="M128 183.1L93.1 151.1"/><path class="f" d="M315.3 192.3L350.2 166.5 349.9 156.2 315 92.2z"/><path class="c45" d="M349.9 156.2L315 92.2"/><path class="c21" d="M93.4 147.4L93.6 150.3 128.5 181M128.3 184L93.4 147.4M93.6 150.3L93.9 149.6 128.8 179.1M128.5 181L93.6 150.3"/><path class="c28" d="M204.7 201.2L205 194.9 239.9 127.3"/><path class="c1" d="M239.9 127.3L239.6 149.8"/><path class="c20" d="M93.9 149.6L94.2 154.8 129.1 179.8"/><path class="c21" d="M128.8 179.1L93.9 149.6"/><path class="f" d="M205.3 168.8L240.2 224.5 239.9 127.3 205 194.9z"/><path class="c8" d="M240.2 224.5L239.9 127.3"/><path class="c28" d="M239.9 127.3L205 194.9"/><path class="f" d="M94.4 145.4L129.3 174.6 129.1 179.8 94.2 154.8z"/><path class="c30" d="M94.2 154.8L94.4 145.4 129.3 174.6"/><path class="c25" d="M129.3 174.6L129.1 179.8"/><path class="c20" d="M129.1 179.8L94.2 154.8"/><path class="c10" d="M149.7 196.5L150 198.1 184.9 110.7"/><path class="c33" d="M184.9 110.7L184.6 209.1"/><path class="f" d="M94.7 148.3L129.6 182.6 129.3 174.6 94.4 145.4z"/><path class="c21" d="M94.4 145.4L94.7 148.3 129.6 182.6"/><path class="c5" d="M129.6 182.6L129.3 174.6"/><path class="c30" d="M129.3 174.6L94.4 145.4"/><path class="f" d="M150.2 205.1L185.1 134.8 184.9 110.7 150 198.1z"/><path class="c22" d="M150 198.1L150.2 205.1 185.1 134.8"/><path class="c26" d="M185.1 134.8L184.9 110.7"/><path class="c10" d="M184.9 110.7L150 198.1"/><path class="f" d="M95 152.1L129.9 180.2 129.6 182.6 94.7 148.3z"/><path class="c23" d="M94.7 148.3L95 152.1 129.9 180.2"/><path class="c21" d="M129.6 182.6L94.7 148.3"/><path class="c2" d="M316.6 217.6L316.9 139.6 351.8 187.4"/><path class="f" d="M150.5 207.2L185.4 234.2 185.1 134.8 150.2 205.1z"/><path class="c22" d="M185.1 134.8L150.2 205.1"/><path class="c23" d="M95 152.1L95.2 151.4 130.1 179.2M129.9 180.2L95 152.1"/><path class="c2" d="M351.8 187.4L316.9 139.6"/><path class="c23" d="M95.2 151.4L95.5 152.5 130.4 178.4M130.1 179.2L95.2 151.4"/><path class="c13" d="M206.3 161.5L206.6 128.9 241.5 184.1"/><path class="c23" d="M95.5 152.5L95.8 151.7 130.7 183.7M130.4 178.4L95.5 152.5"/><path class="f" d="M206.9 233.7L241.8 181.9 241.5 184.1 206.6 128.9z"/><path class="c13" d="M241.5 184.1L206.6 128.9"/><path class="c21" d="M95.8 151.7L96 151.3 130.9 184"/><path class="c23" d="M130.7 183.7L95.8 151.7"/><path class="c22" d="M151.3 202.9L151.6 205.5 186.5 143"/><path class="c21" d="M96 151.3L96.3 150.8 131.2 178.8"/><path class="c14" d="M131.2 178.8L130.9 184"/><path class="c22" d="M186.5 143L151.6 205.5"/><path class="c20" d="M96.3 150.8L96.6 155.6 131.5 186.5"/><path class="c28" d="M131.5 186.5L131.2 178.8"/><path class="c21" d="M131.2 178.8L96.3 150.8"/><path class="c23" d="M96.6 155.6L96.8 153 131.7 186.6"/><path class="c20" d="M131.5 186.5L96.6 155.6"/><path class="c23" d="M96.8 153L97.1 155.4 132 184.4"/><path class="c10" d="M152.4 207.2L152.7 200 187.6 154.6"/><path class="f" d="M97.4 148.8L132.3 182.9 132 184.4 97.1 155.4z"/><path class="c30" d="M97.1 155.4L97.4 148.8 132.3 182.9"/><path class="c23" d="M132 184.4L97.1 155.4"/><path class="c2" d="M319 171.4L319.3 140.4 354.2 205.9"/><path class="c10" d="M187.6 154.6L152.7 200"/><path class="c21" d="M97.4 148.8L97.6 149.9 132.5 184.1"/><path class="c30" d="M132.3 182.9L97.4 148.8"/><path class="c2" d="M354.2 205.9L319.3 140.4"/><path class="c23" d="M97.6 149.9L97.9 153.2 132.8 186.6"/><path class="c21" d="M132.5 184.1L97.6 149.9"/><path class="c11" d="M319.6 202.5L319.8 182.2 354.7 115.2"/><path class="c29" d="M354.7 115.2L354.5 195.9"/><path class="f" d="M209 217.6L243.9 182.9 243.6 208.9 208.7 244.6z"/><path class="c44" d="M243.6 208.9L208.7 244.6"/><path class="f" d="M320.1 193.1L355 222 354.7 115.2 319.8 182.2z"/><path class="c18" d="M355 222L354.7 115.2"/><path class="c11" d="M354.7 115.2L319.8 182.2"/><path class="c30" d="M98.2 154.1L98.5 148.2 133.4 187.2"/><path class="c23" d="M133.1 186.1L98.2 154.1"/><path class="c10" d="M153.7 201.6L154 201.8 188.9 144.2"/><path class="c20" d="M98.5 148.2L98.7 156.3 133.6 183.9"/><path class="c30" d="M133.4 187.2L98.5 148.2"/><path class="f" d="M154.3 208.6L189.2 180.7 188.9 144.2 154 201.8z"/><path class="c10" d="M188.9 144.2L154 201.8"/><path class="c21" d="M98.7 156.3L99 151.7 133.9 186.8"/><path class="c20" d="M133.6 183.9L98.7 156.3"/><path class="c23" d="M99 151.7L99.3 156.3 134.2 183.7"/><path class="c21" d="M133.9 186.8L99 151.7"/><path class="f" d="M99.5 148.1L134.4 189.9 134.2 183.7 99.3 156.3z"/><path class="c30" d="M99.3 156.3L99.5 148.1 134.4 189.9"/><path class="c23" d="M134.2 183.7L99.3 156.3M99.5 148.1L99.8 154.4 134.7 189.4"/><path class="c30" d="M134.4 189.9L99.5 148.1"/><path class="c2" d="M245.8 131.3L245.5 196"/><path class="c21" d="M99.8 154.4L100.1 150.6 135 189.5"/><path class="c23" d="M134.7 189.4L99.8 154.4"/><path class="f" d="M211.2 181.3L246.1 178.6 245.8 131.3 210.9 166.5z"/><path class="c14" d="M246.1 178.6L245.8 131.3"/><path class="c4" d="M245.8 131.3L210.9 166.5"/><path class="c23" d="M100.1 150.6L100.3 154 135.2 188.6"/><path class="c21" d="M135 189.5L100.1 150.6"/><path class="c10" d="M155.6 201.1L155.9 203.8 190.8 155.6M190.5 172.2L155.6 201.1"/><path class="c23" d="M135.2 188.6L100.3 154"/><path class="f" d="M156.1 209.7L191 172.9 190.8 155.6 155.9 203.8z"/><path class="c10" d="M190.8 155.6L155.9 203.8"/><path class="c33" d="M211.4 169.2L211.7 123.8 246.6 207"/><path class="c23" d="M100.6 154.1L100.9 155.4 135.8 189.7M135.5 189L100.6 154.1"/><path class="c0" d="M322.5 162.9L322.8 191.6 357.7 130"/><path class="c1" d="M357.7 130L357.4 189"/><path class="f" d="M212 171.8L246.9 149.9 246.6 207 211.7 123.8z"/><path class="c33" d="M246.6 207L211.7 123.8"/><path class="c23" d="M100.9 155.4L101.1 154.4 136 188.1M135.8 189.7L100.9 155.4"/><path class="f" d="M323 181.8L357.9 226.2 357.7 130 322.8 191.6z"/><path class="c8" d="M357.9 226.2L357.7 130"/><path class="c0" d="M357.7 130L322.8 191.6"/><path class="c30" d="M101.1 154.4L101.4 149.4 136.3 185.9"/><path class="c23" d="M136 188.1L101.1 154.4"/><path class="c28" d="M267.8 167.2L268 198.3 302.9 99.4"/><path class="c41" d="M302.9 99.4L302.7 178.4"/><path class="f" d="M101.7 156.2L136.6 189 136.3 185.9 101.4 149.4z"/><path class="c23" d="M101.4 149.4L101.7 156.2 136.6 189"/><path class="c30" d="M136.3 185.9L101.4 149.4"/><path class="f" d="M268.3 154.8L303.2 162.4 302.9 99.4 268 198.3z"/><path class="c12" d="M303.2 162.4L302.9 99.4"/><path class="c28" d="M302.9 99.4L268 198.3"/><path class="c23" d="M101.7 156.2L101.9 155.2 136.8 195.6M136.6 189L101.7 156.2"/><path class="f" d="M323.9 199.6L358.8 164 358.5 156.2 323.6 136.5z"/><path class="c7" d="M358.5 156.2L323.6 136.5"/><path class="c21" d="M101.9 155.2L102.2 152.9 137.1 190.2"/><path class="c23" d="M136.8 195.6L101.9 155.2"/><path class="c22" d="M157.5 210.5L157.8 208.4 192.7 113.4"/><path class="c33" d="M192.7 113.4L192.4 171.3"/><path class="c21" d="M102.2 152.9L102.5 151.4 137.4 201.2M137.1 190.2L102.2 152.9"/><path class="f" d="M158 209.4L192.9 157.4 192.7 113.4 157.8 208.4z"/><path class="c22" d="M157.8 208.4L158 209.4 192.9 157.4"/><path class="c4" d="M192.9 157.4L192.7 113.4"/><path class="c22" d="M192.7 113.4L157.8 208.4"/><path class="c1" d="M414.6 137.5L379.7 141.1"/><path class="f" d="M102.7 159.3L137.6 193.1 137.4 201.2 102.5 151.4z"/><path class="c20" d="M102.5 151.4L102.7 159.3 137.6 193.1"/><path class="c21" d="M137.4 201.2L102.5 151.4"/><path class="c22" d="M192.9 157.4L158 209.4"/><path class="c23" d="M102.7 159.3L103 158.1 137.9 191.6"/><path class="c20" d="M137.6 193.1L102.7 159.3"/><path class="f" d="M380.5 188.6L415.4 210.2 415.1 159 380.2 119.1z"/><path class="c46" d="M415.1 159L380.2 119.1"/><path class="c23" d="M137.9 191.6L103 158.1M103.3 159.6L103.5 158.3 138.4 191.6"/><path class="c20" d="M138.2 191.4L103.3 159.6M103.5 158.3L103.8 159.8 138.7 194.5"/><path class="c23" d="M138.4 191.6L103.5 158.3M104.1 161L104.3 157.7 139.2 194.9"/><path class="c20" d="M139 193.5L104.1 161M104.3 157.7L104.6 159.7 139.5 193.5"/><path class="c23" d="M139.2 194.9L104.3 157.7"/><path class="c20" d="M139.5 193.5L104.6 159.7"/><path class="c23" d="M104.9 159.8L105.2 159.2 140.1 195.7"/><path class="c20" d="M139.8 190.2L104.9 159.8"/><path class="c6" d="M160.4 207.8L160.7 208.1 195.6 137.2"/><path class="c26" d="M195.6 137.2L195.3 158"/><path class="c23" d="M105.2 159.2L105.4 156.7 140.3 191.5M140.1 195.7L105.2 159.2"/><path class="f" d="M327.3 193.4L362.2 168.4 362 141.5 327.1 143.5z"/><path class="c2" d="M362 141.5L327.1 143.5"/><path class="f" d="M161 204.6L195.9 170.6 195.6 137.2 160.7 208.1z"/><path class="c27" d="M195.9 170.6L195.6 137.2"/><path class="c6" d="M195.6 137.2L160.7 208.1"/><path class="c20" d="M105.4 156.7L105.7 160 140.6 195.6"/><path class="c23" d="M140.3 191.5L105.4 156.7"/><path class="c14" d="M327.3 193.4L327.6 190.4 362.5 139.6"/><path class="c26" d="M362.5 139.6L362.2 168.4"/><path class="f" d="M161.2 207L196.1 240.5 195.9 170.6 161 204.6z"/><path class="c10" d="M195.9 170.6L161 204.6"/><path class="c20" d="M105.7 160L106 160.3 140.9 191.3M140.6 195.6L105.7 160"/><path class="f" d="M327.9 228.8L362.8 166.6 362.5 139.6 327.6 190.4z"/><path class="c12" d="M362.8 166.6L362.5 139.6"/><path class="c14" d="M362.5 139.6L327.6 190.4"/><path class="c20" d="M140.9 191.3L106 160.3"/><path class="c6" d="M161.5 217.1L161.8 209.6 196.7 139.9"/><path class="c26" d="M196.7 139.9L196.4 197.2"/><path class="f" d="M272.9 244.5L307.8 186.3 307.5 142.7 272.6 133.4z"/><path class="c13" d="M307.5 142.7L272.6 133.4"/><path class="f" d="M162 210.5L196.9 166.8 196.7 139.9 161.8 209.6z"/><path class="c22" d="M161.8 209.6L162 210.5 196.9 166.8"/><path class="c12" d="M196.9 166.8L196.7 139.9"/><path class="c6" d="M196.7 139.9L161.8 209.6"/><path class="c23" d="M106.5 161.2L106.8 158.5 141.7 194.3"/><path class="c20" d="M141.4 197.9L106.5 161.2"/><path class="c22" d="M196.9 166.8L162 210.5"/><path class="f" d="M217.9 208.4L252.8 186.1 252.5 139.4 217.6 128.2z"/><path class="c6" d="M217.6 128.2L217.9 208.4 252.8 186.1"/><path class="c29" d="M252.5 139.4L217.6 128.2"/><path class="c20" d="M106.8 158.5L107 162.4 141.9 192.7"/><path class="f" d="M107.3 157L142.2 196.5 141.9 192.7 107 162.4z"/><path class="c23" d="M107 162.4L107.3 157 142.2 196.5"/><path class="c20" d="M141.9 192.7L107 162.4"/><path class="c23" d="M107.3 157L107.6 158.6 142.5 196.8M142.2 196.5L107.3 157"/><path class="c20" d="M107.6 158.6L107.8 160.9 142.7 195.2"/><path class="c23" d="M142.5 196.8L107.6 158.6M107.8 160.9L108.1 157.8 143 197.2"/><path class="c20" d="M142.7 195.2L107.8 160.9"/><path class="c22" d="M163.4 211.5L163.6 211.6 198.5 159.9"/><path class="f" d="M108.4 166L143.3 197.4 143 197.2 108.1 157.8z"/><path class="c31" d="M108.1 157.8L108.4 166 143.3 197.4"/><path class="c23" d="M143 197.2L108.1 157.8"/><path class="f" d="M163.9 218.1L198.8 213.1 198.5 159.9 163.6 211.6z"/><path class="c22" d="M198.5 159.9L163.6 211.6"/><path class="c20" d="M108.4 166L108.6 163.7 143.5 201.2"/><path class="c31" d="M143.3 197.4L108.4 166"/><path class="c13" d="M330.3 213.2L330.6 134.5 365.5 208.6"/><path class="c5" d="M385.8 195L386.1 199.6 421 129.1"/><path class="c7" d="M421 129.1L420.7 202.9"/><path class="c16" d="M219.5 172.2L219.7 215.9 254.6 121.4"/><path class="c29" d="M254.6 121.4L254.4 206.1"/><path class="c20" d="M108.6 163.7L108.9 161.1 143.8 193.1M143.5 201.2L108.6 163.7"/><path class="f" d="M330.8 182.9L365.7 212.5 365.5 208.6 330.6 134.5z"/><path class="c13" d="M365.5 208.6L330.6 134.5"/><path class="f" d="M386.4 181.3L421.3 173.6 421 129.1 386.1 199.6z"/><path class="c27" d="M421.3 173.6L421 129.1"/><path class="c5" d="M421 129.1L386.1 199.6"/><path class="f" d="M220 216L254.9 203.1 254.6 121.4 219.7 215.9z"/><path class="c22" d="M254.9 203.1L254.6 121.4"/><path class="c16" d="M254.6 121.4L219.7 215.9"/><path class="c20" d="M108.9 161.1L109.2 161.2 144.1 195.1M143.8 193.1L108.9 161.1"/><path class="c4" d="M109.2 161.2L109.4 169.6 144.3 195"/><path class="c20" d="M144.1 195.1L109.2 161.2"/><path class="c22" d="M164.7 213.9L165 214.1 199.9 158.3"/><path class="f" d="M109.7 164.1L144.6 198.5 144.3 195 109.4 169.6z"/><path class="c20" d="M109.4 169.6L109.7 164.1 144.6 198.5"/><path class="c4" d="M144.3 195L109.4 169.6"/><path class="c22" d="M199.9 158.3L165 214.1"/><path class="c20" d="M109.7 164.1L110 163.5 144.9 199.4"/><path class="c22" d="M165.3 216.6L165.5 212.9 200.4 262.2"/><path class="c31" d="M110 163.5L110.2 166.7 145.1 198.2"/><path class="c20" d="M144.9 199.4L110 163.5"/><path class="f" d="M165.8 211.1L200.7 207 200.4 262.2 165.5 212.9z"/><path class="c16" d="M200.7 207L200.4 262.2"/><path class="c22" d="M200.4 262.2L165.5 212.9"/><path class="c20" d="M110.2 166.7L110.5 163.2 145.4 197.7"/><path class="c31" d="M145.1 198.2L110.2 166.7"/><path class="c20" d="M110.5 163.2L110.8 162.6 145.7 199.1M145.4 197.7L110.5 163.2"/><path class="f" d="M166.6 212.9L201.5 162.4 201.2 177.3 166.3 206.8z"/><path class="c22" d="M166.3 206.8L166.6 212.9 201.5 162.4"/><path class="c10" d="M201.2 177.3L166.3 206.8"/><path class="c23" d="M111.1 166.6L111.3 160.1 146.2 196.2"/><path class="c31" d="M146 198.6L111.1 166.6"/><path class="c16" d="M166.6 212.9L166.9 218.5 201.8 143.5"/><path class="c22" d="M201.5 162.4L166.6 212.9"/><path class="c8" d="M388.5 163.3L388.8 240.1 423.7 126"/><path class="c15" d="M423.7 126L423.4 238.9"/><path class="c2" d="M222.1 217.5L222.4 148.5 257.3 196.4"/><path class="c20" d="M111.3 160.1L111.6 163.5 146.5 200"/><path class="c23" d="M146.2 196.2L111.3 160.1"/><path class="c16" d="M201.8 143.5L166.9 218.5"/><path class="f" d="M389 161.4L423.9 221.5 423.7 126 388.8 240.1z"/><path class="c38" d="M423.9 221.5L423.7 126"/><path class="c8" d="M423.7 126L388.8 240.1"/><path class="c2" d="M257.3 196.4L222.4 148.5"/><path class="c20" d="M111.6 163.5L111.9 164.5 146.8 198.3M146.5 200L111.6 163.5"/><path class="c31" d="M111.9 164.5L112.1 168.7 147 202.6"/><path class="c20" d="M146.8 198.3L111.9 164.5"/><path class="f" d="M112.4 163.5L147.3 200.8 147 202.6 112.1 168.7z"/><path class="c20" d="M112.1 168.7L112.4 163.5 147.3 200.8"/><path class="c31" d="M147 202.6L112.1 168.7"/><path class="c6" d="M167.7 217.8L167.9 212.6 202.8 159.9"/><path class="f" d="M168.2 217.5L203.1 159 202.8 159.9 167.9 212.6z"/><path class="c16" d="M167.9 212.6L168.2 217.5 203.1 159"/><path class="c6" d="M202.8 159.9L167.9 212.6"/><path class="c23" d="M112.7 165.7L112.9 160.6 147.8 203.1"/><path class="c20" d="M147.6 199.8L112.7 165.7"/><path class="c31" d="M112.9 160.6L113.2 167.7 148.1 203.6"/><path class="c23" d="M147.8 203.1L112.9 160.6"/><path class="c16" d="M168.5 216.3L168.7 217.4 203.6 243.5"/><path class="c31" d="M113.2 167.7L113.5 169.2 148.4 200M148.1 203.6L113.2 167.7"/><path class="f" d="M169 211.7L203.9 206.7 203.6 243.5 168.7 217.4z"/><path class="c22" d="M203.9 206.7L203.6 243.5"/><path class="c16" d="M203.6 243.5L168.7 217.4"/><path class="c20" d="M279.8 165.6L280.1 165.1 315 92.2"/><path class="c45" d="M315 92.2L314.7 229.2"/><path class="c4" d="M113.5 169.2L113.7 171.1 148.6 201.3"/><path class="c31" d="M148.4 200L113.5 169.2"/><path class="f" d="M280.4 177.6L315.3 192.3 315 92.2 280.1 165.1z"/><path class="c5" d="M315.3 192.3L315 92.2"/><path class="c20" d="M315 92.2L280.1 165.1"/><path class="f" d="M114 168.7L148.9 202.8 148.6 201.3 113.7 171.1z"/><path class="c31" d="M113.7 171.1L114 168.7 148.9 202.8"/><path class="c4" d="M148.6 201.3L113.7 171.1"/><path class="c16" d="M169.3 215.5L169.5 217.6 204.4 133.8"/><path class="f" d="M225.1 151.2L260 177.1 259.7 164.5 224.8 147.2z"/><path class="c26" d="M224.8 147.2L225.1 151.2 260 177.1"/><path class="c2" d="M259.7 164.5L224.8 147.2"/><path class="c23" d="M114 168.7L114.3 162.3 149.2 198.2"/><path class="c31" d="M148.9 202.8L114 168.7"/><path class="c16" d="M204.4 133.8L169.5 217.6"/><path class="f" d="M391.7 207.1L426.6 139.6 426.4 181.6 391.5 144.1z"/><path class="c28" d="M391.5 144.1L391.7 207.1 426.6 139.6"/><path class="c2" d="M426.6 139.6L426.4 181.6"/><path class="c1" d="M426.4 181.6L391.5 144.1"/><path class="f" d="M225.4 205.1L260.3 193.9 260 177.1 225.1 151.2z"/><path class="c28" d="M225.1 151.2L225.4 205.1 260.3 193.9"/><path class="c26" d="M260 177.1L225.1 151.2"/><path class="f" d="M114.5 169.2L149.4 200.1 149.2 198.2 114.3 162.3z"/><path class="c31" d="M114.3 162.3L114.5 169.2 149.4 200.1"/><path class="c23" d="M149.2 198.2L114.3 162.3"/><path class="f" d="M392 159.5L426.9 194.9 426.6 139.6 391.7 207.1z"/><path class="c28" d="M426.9 194.9L426.6 139.6M426.6 139.6L391.7 207.1"/><path class="c31" d="M149.4 200.1L114.5 169.2"/><path class="c6" d="M170.1 218.3L170.4 214.2 205.3 168.8"/><path class="c20" d="M114.8 169L115.1 166.1 150 198.1"/><path class="c31" d="M149.7 196.5L114.8 169"/><path class="c6" d="M205.3 168.8L170.4 214.2"/><path class="c20" d="M150 198.1L115.1 166.1"/><path class="c5" d="M281.7 180.4L282 201.5 316.9 139.6"/><path class="c2" d="M316.9 139.6L316.6 217.6"/><path class="c20" d="M115.3 169.5L115.6 164.6 150.5 207.2"/><path class="f" d="M282.2 176.1L317.1 160.7 316.9 139.6 282 201.5z"/><path class="c31" d="M317.1 160.7L316.9 139.6"/><path class="c5" d="M316.9 139.6L282 201.5"/><path class="c4" d="M115.6 164.6L115.9 171.2 150.8 205.7"/><path class="c20" d="M150.5 207.2L115.6 164.6"/><path class="f" d="M116.1 167.1L151 203.6 150.8 205.7 115.9 171.2z"/><path class="c20" d="M115.9 171.2L116.1 167.1 151 203.6"/><path class="c4" d="M150.8 205.7L115.9 171.2"/><path class="c22" d="M171.4 217.5L171.7 215 206.6 128.9"/><path class="c13" d="M206.6 128.9L206.3 161.5"/><path class="c31" d="M116.1 167.1L116.4 169.4 151.3 202.9"/><path class="c20" d="M151 203.6L116.1 167.1"/><path class="f" d="M172 211.6L206.9 233.7 206.6 128.9 171.7 215z"/><path class="c8" d="M206.9 233.7L206.6 128.9"/><path class="c22" d="M206.6 128.9L171.7 215"/><path class="c31" d="M116.4 169.4L116.7 169.5 151.6 205.5M151.3 202.9L116.4 169.4M116.7 169.5L117 169.8 151.9 204.9M151.6 205.5L116.7 169.5M151.9 204.9L117 169.8M117.2 169.7L117.5 169.4 152.4 207.2M152.1 200.7L117.2 169.7M152.4 207.2L117.5 169.4"/><path class="c22" d="M173 221.3L173.3 218 208.2 152.8"/><path class="c28" d="M394.9 190.6L395.2 207.6 430.1 139.2"/><path class="c1" d="M430.1 139.2L429.8 171"/><path class="c22" d="M284.1 229.8L284.4 216.5 319.3 140.4"/><path class="c2" d="M319.3 140.4L319 171.4"/><path class="c20" d="M117.8 169.2L118 168.5 152.9 202.5"/><path class="c31" d="M152.7 200L117.8 169.2"/><path class="c22" d="M208.2 152.8L173.3 218"/><path class="f" d="M395.5 177.9L430.4 171.4 430.1 139.2 395.2 207.6z"/><path class="c12" d="M430.4 171.4L430.1 139.2"/><path class="c28" d="M430.1 139.2L395.2 207.6"/><path class="c47" d="M228.8 224.2L229.1 258.9 264 144.2"/><path class="c10" d="M319.6 202.5L319.3 140.4"/><path class="c22" d="M319.3 140.4L284.4 216.5"/><path class="c31" d="M118 168.5L118.3 172.1 153.2 202.9"/><path class="c20" d="M152.9 202.5L118 168.5"/><path class="c33" d="M339.9 192.7L340.2 130.8 375.1 213.6"/><path class="c16" d="M173.6 217.6L173.8 219.2 208.7 244.6"/><path class="c47" d="M264 144.2L229.1 258.9"/><path class="c31" d="M118.3 172.1L118.6 169.5 153.5 204.9M153.2 202.9L118.3 172.1"/><path class="f" d="M340.5 234.3L375.4 175.2 375.1 213.6 340.2 130.8z"/><path class="c33" d="M375.1 213.6L340.2 130.8"/><path class="f" d="M174.1 221L209 217.6 208.7 244.6 173.8 219.2z"/><path class="c3" d="M209 217.6L208.7 244.6"/><path class="c16" d="M208.7 244.6L173.8 219.2"/><path class="c48" d="M395.8 250.3L396 230.1 430.9 140.9"/><path class="c4" d="M118.6 169.5L118.8 172.6 153.7 201.6"/><path class="c31" d="M153.5 204.9L118.6 169.5"/><path class="c16" d="M174.1 221L174.4 220.2 209.3 143.1"/><path class="c23" d="M431.2 153.7L430.9 140.9"/><path class="c48" d="M430.9 140.9L396 230.1"/><path class="c31" d="M118.8 172.6L119.1 170.9 154 201.8"/><path class="c4" d="M153.7 201.6L118.8 172.6"/><path class="c16" d="M209.3 143.1L174.4 220.2"/><path class="c35" d="M119.1 170.9L119.4 177 154.3 208.6"/><path class="c31" d="M154 201.8L119.1 170.9"/><path class="c15" d="M341 217.9L341.3 139 376.2 249.3"/><path class="c4" d="M119.4 177L119.6 175 154.5 203.2"/><path class="c35" d="M154.3 208.6L119.4 177"/><path class="f" d="M341.5 197.7L376.4 166.9 376.2 249.3 341.3 139z"/><path class="c15" d="M376.2 249.3L341.3 139"/><path class="f" d="M119.9 170.1L154.8 207.6 154.5 203.2 119.6 175z"/><path class="c31" d="M119.6 175L119.9 170.1 154.8 207.6"/><path class="c4" d="M154.5 203.2L119.6 175"/><path class="c6" d="M175.2 217.5L175.4 214.3 210.3 163.7"/><path class="c31" d="M119.9 170.1L120.2 171.9 155.1 208.6M154.8 207.6L119.9 170.1"/><path class="f" d="M175.7 222.6L210.6 145.6 210.3 163.7 175.4 214.3z"/><path class="c6" d="M210.3 163.7L175.4 214.3"/><path class="c31" d="M155.1 208.6L120.2 171.9"/><path class="c22" d="M175.7 222.6L176 217.2 210.9 166.5"/><path class="f" d="M120.7 175.4L155.6 201.1 155.3 205.8 120.4 172.1z"/><path class="c4" d="M120.4 172.1L120.7 175.4 155.6 201.1"/><path class="c31" d="M155.3 205.8L120.4 172.1"/><path class="c22" d="M210.9 166.5L176 217.2"/><path class="c1" d="M231.5 251L231.8 149.1 266.7 203.2"/><path class="c35" d="M120.7 175.4L121 178.4 155.9 203.8"/><path class="c4" d="M155.6 201.1L120.7 175.4"/><path class="f" d="M232.1 191.6L267 162.1 266.7 203.2 231.8 149.1z"/><path class="c1" d="M266.7 203.2L231.8 149.1"/><path class="c4" d="M121 178.4L121.2 174.9 156.1 209.7"/><path class="c35" d="M155.9 203.8L121 178.4"/><path class="c9" d="M176.5 219.9L176.8 224.1 211.7 123.8"/><path class="c33" d="M211.7 123.8L211.4 169.2"/><path class="c15" d="M287.6 258.2L287.9 139.6 322.8 191.6"/><path class="c35" d="M121.2 174.9L121.5 180 156.4 210.7"/><path class="c4" d="M156.1 209.7L121.2 174.9"/><path class="f" d="M177.1 221.7L212 171.8 211.7 123.8 176.8 224.1z"/><path class="c12" d="M212 171.8L211.7 123.8"/><path class="c9" d="M211.7 123.8L176.8 224.1"/><path class="c6" d="M398.7 249.8L399 215.1 433.9 136.1"/><path class="c7" d="M433.9 136.1L433.6 233.7"/><path class="f" d="M288.1 205.5L323 181.8 322.8 191.6 287.9 139.6z"/><path class="c15" d="M322.8 191.6L287.9 139.6"/><path class="c12" d="M121.5 180L121.8 180.7 156.7 211.3"/><path class="f" d="M399.2 226.7L434.1 172 433.9 136.1 399 215.1z"/><path class="c12" d="M434.1 172L433.9 136.1"/><path class="c6" d="M433.9 136.1L399 215.1"/><path class="c35" d="M121.8 180.7L122 178.9 156.9 202.8"/><path class="c12" d="M156.7 211.3L121.8 180.7"/><path class="c14" d="M288.4 237L288.7 200.5 323.6 136.5"/><path class="c7" d="M323.6 136.5L323.3 219.1"/><path class="c35" d="M122 178.9L122.3 177.9 157.2 210.3M156.9 202.8L122 178.9"/><path class="f" d="M289 198.6L323.9 199.6 323.6 136.5 288.7 200.5z"/><path class="c28" d="M323.9 199.6L323.6 136.5"/><path class="c14" d="M323.6 136.5L288.7 200.5"/><path class="c4" d="M122.3 177.9L122.6 176.3 157.5 210.5"/><path class="c35" d="M157.2 210.3L122.3 177.9"/><path class="c12" d="M122.6 176.3L122.9 181.5 157.8 208.4"/><path class="c4" d="M157.5 210.5L122.6 176.3M122.9 181.5L123.1 177.6 158 209.4"/><path class="c12" d="M157.8 208.4L122.9 181.5"/><path class="c10" d="M213.3 198.2L178.4 214.4"/><path class="f" d="M234.2 180.7L269.1 203.5 268.8 140.9 233.9 159.2z"/><path class="c30" d="M268.8 140.9L233.9 159.2"/><path class="c35" d="M123.1 177.6L123.4 179.4 158.3 214.4"/><path class="c4" d="M158 209.4L123.1 177.6M345 233.6L345.3 178 380.2 119.1"/><path class="c46" d="M380.2 119.1L379.9 218.6"/><path class="c6" d="M178.7 218L178.9 217.3 213.8 151.2"/><path class="c35" d="M123.4 179.4L123.7 180.3 158.6 209.7M158.3 214.4L123.4 179.4"/><path class="f" d="M345.6 183.1L380.5 188.6 380.2 119.1 345.3 178z"/><path class="c25" d="M380.5 188.6L380.2 119.1"/><path class="c4" d="M380.2 119.1L345.3 178"/><path class="c6" d="M213.8 151.2L178.9 217.3"/><path class="c35" d="M158.6 209.7L123.7 180.3"/><path class="c6" d="M179.2 218.4L179.5 215.6 214.4 174.4"/><path class="c32" d="M123.9 180.7L124.2 185.8 159.1 207"/><path class="c35" d="M158.8 211.8L123.9 180.7"/><path class="c6" d="M214.4 174.4L179.5 215.6"/><path class="f" d="M124.5 178.7L159.4 211.6 159.1 207 124.2 185.8z"/><path class="c35" d="M124.2 185.8L124.5 178.7 159.4 211.6"/><path class="c32" d="M159.1 207L124.2 185.8"/><path class="c6" d="M179.7 218.5L180 218.3 214.9 143.1"/><path class="c15" d="M290.8 256.2L291.1 139.7 326 212.2"/><path class="c12" d="M124.5 178.7L124.7 183.5 159.6 212.4"/><path class="c35" d="M159.4 211.6L124.5 178.7"/><path class="f" d="M180.3 218.3L215.2 209 214.9 143.1 180 218.3z"/><path class="c6" d="M214.9 143.1L180 218.3"/><path class="f" d="M291.4 184L326.3 190.5 326 212.2 291.1 139.7z"/><path class="c15" d="M326 212.2L291.1 139.7"/><path class="c35" d="M124.7 183.5L125 181 159.9 210.7"/><path class="c12" d="M159.6 212.4L124.7 183.5"/><path class="c35" d="M125 181L125.3 180.9 160.2 214.5M159.9 210.7L125 181"/><path class="c13" d="M291.6 192.2L291.9 145 326.8 205.4"/><path class="c12" d="M125.3 180.9L125.5 183.4 160.4 207.8"/><path class="c35" d="M160.2 214.5L125.3 180.9"/><path class="c6" d="M180.8 223.9L181.1 217.1 216 175.6"/><path class="f" d="M292.2 206.5L327.1 143.5 326.8 205.4 291.9 145z"/><path class="c5" d="M291.9 145L292.2 206.5 327.1 143.5"/><path class="c13" d="M326.8 205.4L291.9 145"/><path class="c12" d="M160.4 207.8L125.5 183.4"/><path class="f" d="M347.7 219.1L382.6 195 382.3 164 347.4 150.4z"/><path class="c1" d="M382.3 164L347.4 150.4"/><path class="c22" d="M181.1 217.1L181.3 220.4 216.2 244.4"/><path class="c19" d="M236.6 221.4L236.9 264 271.8 198.9"/><path class="c5" d="M327.1 143.5L292.2 206.5"/><path class="c4" d="M125.8 183.5L126.1 178.8 161 204.6"/><path class="c12" d="M160.7 208.1L125.8 183.5"/><path class="f" d="M181.6 221.6L216.5 191 216.2 244.4 181.3 220.4z"/><path class="c22" d="M216.2 244.4L181.3 220.4"/><path class="f" d="M237.2 213.5L272.1 170.4 271.8 198.9 236.9 264z"/><path class="c19" d="M271.8 198.9L236.9 264"/><path class="c4" d="M161 204.6L126.1 178.8"/><path class="c12" d="M126.3 179.1L126.6 186.1 161.5 217.1"/><path class="c4" d="M161.2 207L126.3 179.1"/><path class="c0" d="M237.4 168L237.7 206.1 272.6 133.4"/><path class="c13" d="M272.6 133.4L272.3 169.3"/><path class="c35" d="M126.6 186.1L126.9 181.1 161.8 209.6"/><path class="c12" d="M161.5 217.1L126.6 186.1"/><path class="f" d="M238 143.6L272.9 244.5 272.6 133.4 237.7 206.1z"/><path class="c13" d="M237.7 206.1L238 143.6 272.9 244.5"/><path class="c24" d="M272.9 244.5L272.6 133.4"/><path class="c0" d="M272.6 133.4L237.7 206.1"/><path class="c12" d="M126.9 181.1L127.1 185.6 162 210.5"/><path class="c35" d="M161.8 209.6L126.9 181.1"/><path class="c6" d="M182.4 218.7L182.7 217.5 217.6 128.2"/><path class="c29" d="M217.6 128.2L217.3 155.1"/><path class="f" d="M238.2 171.1L273.1 189.2 272.9 244.5 238 143.6z"/><path class="c20" d="M238 143.6L238.2 171.1 273.1 189.2"/><path class="c13" d="M272.9 244.5L238 143.6"/><path class="f" d="M127.4 182.5L162.3 211.4 162 210.5 127.1 185.6z"/><path class="c35" d="M127.1 185.6L127.4 182.5 162.3 211.4"/><path class="c12" d="M162 210.5L127.1 185.6"/><path class="f" d="M183 220.1L217.9 208.4 217.6 128.2 182.7 217.5z"/><path class="c6" d="M217.9 208.4L217.6 128.2M217.6 128.2L182.7 217.5"/><path class="c4" d="M127.4 182.5L127.7 177.5 162.6 209.5"/><path class="c35" d="M162.3 211.4L127.4 182.5"/><path class="c12" d="M127.7 177.5L127.9 183.7 162.8 211.7"/><path class="c4" d="M162.6 209.5L127.7 177.5"/><path class="c10" d="M183.2 223.4L183.5 216.4 218.4 171.4"/><path class="c12" d="M162.8 211.7L127.9 183.7"/><path class="f" d="M183.8 223.7L218.7 189.5 218.4 171.4 183.5 216.4z"/><path class="c10" d="M218.4 171.4L183.5 216.4"/><path class="c4" d="M128.2 183.5L128.5 179.3 163.4 211.5"/><path class="c12" d="M163.1 213.9L128.2 183.5"/><path class="f" d="M128.7 186.1L163.6 211.6 163.4 211.5 128.5 179.3z"/><path class="c12" d="M128.5 179.3L128.7 186.1 163.6 211.6"/><path class="c4" d="M163.4 211.5L128.5 179.3"/><path class="c20" d="M385.6 153L350.7 172.8"/><path class="c6" d="M184.3 219.1L184.6 220 219.5 172.2"/><path class="c16" d="M295.4 253.4L295.7 224.8 330.6 134.5"/><path class="c13" d="M330.6 134.5L330.3 213.2"/><path class="c35" d="M129 187.4L129.3 182.3 164.2 207.5"/><path class="c32" d="M163.9 218.1L129 187.4"/><path class="f" d="M295.9 203.4L330.8 182.9 330.6 134.5 295.7 224.8z"/><path class="c27" d="M330.8 182.9L330.6 134.5"/><path class="c16" d="M330.6 134.5L295.7 224.8"/><path class="c32" d="M129.3 182.3L129.6 187.7 164.5 215"/><path class="c35" d="M164.2 207.5L129.3 182.3"/><path class="c49" d="M406.7 189.5L407 116.1 441.9 189.1"/><path class="c35" d="M129.6 187.7L129.8 183.2 164.7 213.9"/><path class="c32" d="M164.5 215L129.6 187.7"/><path class="f" d="M407.3 166.1L442.2 195.5 441.9 189.1 407 116.1z"/><path class="c21" d="M407 116.1L407.3 166.1 442.2 195.5"/><path class="c49" d="M441.9 189.1L407 116.1"/><path class="c12" d="M129.8 183.2L130.1 187.6 165 214.1"/><path class="c35" d="M164.7 213.9L129.8 183.2"/><path class="c0" d="M407.3 166.1L407.5 206.7 442.4 132.3"/><path class="c15" d="M442.4 132.3L442.2 195.5"/><path class="c35" d="M130.1 187.6L130.4 182.6 165.3 216.6"/><path class="c12" d="M165 214.1L130.1 187.6"/><path class="f" d="M185.9 218.3L220.8 183.6 220.5 180.6 185.6 214.2z"/><path class="c28" d="M220.5 180.6L185.6 214.2"/><path class="f" d="M407.8 221.6L442.7 198.5 442.4 132.3 407.5 206.7z"/><path class="c0" d="M442.7 198.5L442.4 132.3M442.4 132.3L407.5 206.7"/><path class="c12" d="M130.4 182.6L130.6 186.1 165.5 212.9"/><path class="c35" d="M165.3 216.6L130.4 182.6"/><path class="f" d="M186.2 225.5L221.1 154.1 220.8 183.6 185.9 218.3z"/><path class="c6" d="M220.8 183.6L185.9 218.3"/><path class="c12" d="M165.5 212.9L130.6 186.1"/><path class="c32" d="M130.9 186.1L131.2 189.7 166.1 216.8"/><path class="c35" d="M131.2 189.7L131.4 182.3 166.3 206.8"/><path class="c10" d="M166.3 206.8L166.1 216.8"/><path class="c32" d="M166.1 216.8L131.2 189.7"/><path class="f" d="M131.7 192.2L166.6 212.9 166.3 206.8 131.4 182.3z"/><path class="c27" d="M131.4 182.3L131.7 192.2 166.6 212.9"/><path class="c22" d="M166.6 212.9L166.3 206.8"/><path class="c35" d="M166.3 206.8L131.4 182.3"/><path class="c2" d="M333 153.2L298.1 156.7"/><path class="c32" d="M131.7 192.2L132 189.7 166.9 218.5"/><path class="c27" d="M166.6 212.9L131.7 192.2"/><path class="c6" d="M187.2 218L187.5 222.2 222.4 148.5"/><path class="c12" d="M132 189.7L132.2 187.7 167.1 218.6"/><path class="c32" d="M166.9 218.5L132 189.7"/><path class="c6" d="M222.7 210.8L222.4 148.5M222.4 148.5L187.5 222.2"/><path class="c27" d="M132.2 187.7L132.5 192.8 167.4 218"/><path class="c12" d="M167.1 218.6L132.2 187.7"/><path class="c1" d="M243.3 225.5L243.6 154.9 278.5 233.8"/><path class="f" d="M243.9 163.5L278.8 158 278.5 233.8 243.6 154.9z"/><path class="c30" d="M243.6 154.9L243.9 163.5 278.8 158"/><path class="c1" d="M278.5 233.8L243.6 154.9"/><path class="c12" d="M132.8 193.4L133 188.6 167.9 212.6"/><path class="c27" d="M167.7 217.8L132.8 193.4"/><path class="c11" d="M133 188.6L133.3 197.4 168.2 217.5"/><path class="c12" d="M167.9 212.6L133 188.6"/><path class="c32" d="M133.3 197.4L133.6 190.2 168.5 216.3"/><path class="c11" d="M168.2 217.5L133.3 197.4"/><path class="c10" d="M188.9 222.8L189.1 218.5 224 152.7"/><path class="c5" d="M410.8 233.9L411 210.9 445.9 140.6"/><path class="c7" d="M445.9 140.6L445.7 193.7"/><path class="c32" d="M133.6 190.2L133.8 192.8 168.7 217.4M168.5 216.3L133.6 190.2"/><path class="c10" d="M224 152.7L189.1 218.5"/><path class="f" d="M411.3 222.3L446.2 203.1 445.9 140.6 411 210.9z"/><path class="c5" d="M446.2 203.1L445.9 140.6M445.9 140.6L411 210.9"/><path class="c27" d="M133.8 192.8L134.1 195.2 169 211.7"/><path class="c32" d="M168.7 217.4L133.8 192.8"/><path class="c27" d="M169 211.7L134.1 195.2"/><path class="c10" d="M189.7 219.4L189.9 220 224.8 147.2"/><path class="c2" d="M224.8 147.2L224.6 181.3M446.7 147.3L446.5 204.9"/><path class="c11" d="M134.4 196.1L134.6 197.2 169.5 217.6"/><path class="c12" d="M356.3 215.9L356.6 189.8 391.5 144.1"/><path class="c1" d="M391.5 144.1L391.2 211.7"/><path class="f" d="M190.2 222L225.1 151.2 224.8 147.2 189.9 220z"/><path class="c6" d="M189.9 220L190.2 222 225.1 151.2"/><path class="c26" d="M225.1 151.2L224.8 147.2"/><path class="c10" d="M224.8 147.2L189.9 220"/><path class="f" d="M412.1 194.5L447 220 446.7 147.3 411.8 178.8z"/><path class="c16" d="M447 220L446.7 147.3"/><path class="c31" d="M446.7 147.3L411.8 178.8"/><path class="c1" d="M301 225.8L301.3 154.3 336.2 209.1"/><path class="c27" d="M134.6 197.2L134.9 194.3 169.8 215.8"/><path class="c11" d="M169.5 217.6L134.6 197.2"/><path class="f" d="M356.8 211.1L391.7 207.1 391.5 144.1 356.6 189.8z"/><path class="c28" d="M391.7 207.1L391.5 144.1"/><path class="c12" d="M391.5 144.1L356.6 189.8"/><path class="f" d="M190.5 223.5L225.4 205.1 225.1 151.2 190.2 222z"/><path class="c28" d="M225.4 205.1L225.1 151.2"/><path class="c6" d="M225.1 151.2L190.2 222"/><path class="c1" d="M336.2 209.1L301.3 154.3"/><path class="c27" d="M134.9 194.3L135.2 195.9 170.1 218.3"/><path class="c32" d="M135.2 195.9L135.5 191.2 170.4 214.2"/><path class="c27" d="M170.1 218.3L135.2 195.9"/><path class="c4" d="M392 159.5L357.1 182.6"/><path class="c11" d="M135.5 191.2L135.7 200.4 170.6 221.1"/><path class="c32" d="M170.4 214.2L135.5 191.2"/><path class="f" d="M136 197.5L170.9 220.5 170.6 221.1 135.7 200.4z"/><path class="c11" d="M135.7 200.4L136 197.5 170.9 220.5M170.6 221.1L135.7 200.4"/><path class="c32" d="M136 197.5L136.3 192.9 171.2 221.1"/><path class="c11" d="M170.9 220.5L136 197.5"/><path class="f" d="M358.2 248.3L393.1 230.9 392.8 160.2 357.9 172.4z"/><path class="c23" d="M392.8 160.2L357.9 172.4"/><path class="c10" d="M191.5 225.5L191.8 218.2 226.7 164"/><path class="c11" d="M136.3 192.9L136.5 198.4 171.4 217.5"/><path class="c32" d="M171.2 221.1L136.3 192.9"/><path class="f" d="M192.1 224.3L227 184.3 226.7 164 191.8 218.2z"/><path class="c10" d="M226.7 164L191.8 218.2"/><path class="f" d="M414 206.8L448.9 179.9 448.6 158.1 413.7 155.6z"/><path class="c1" d="M448.6 158.1L413.7 155.6"/><path class="c27" d="M136.5 198.4L136.8 197.5 171.7 215"/><path class="c11" d="M171.4 217.5L136.5 198.4"/><path class="c32" d="M136.8 197.5L137.1 193.2 172 211.6"/><path class="c27" d="M171.7 215L136.8 197.5M137.1 193.2L137.3 195 172.2 216.6"/><path class="c32" d="M172 211.6L137.1 193.2"/><path class="c15" d="M359 250L359.2 147.1 394.1 189.1"/><path class="c32" d="M137.3 195L137.6 194.2 172.5 219.6"/><path class="c27" d="M172.2 216.6L137.3 195"/><path class="f" d="M359.5 223.9L394.4 188.4 394.1 189.1 359.2 147.1z"/><path class="c15" d="M394.1 189.1L359.2 147.1"/><path class="c27" d="M137.6 194.2L137.9 195.7 172.8 218"/><path class="c32" d="M172.5 219.6L137.6 194.2"/><path class="c11" d="M137.9 195.7L138.1 201.4 173 221.3"/><path class="c27" d="M172.8 218L137.9 195.7"/><path class="c7" d="M283.9 193.9L249 154.4"/><path class="f" d="M138.4 195.2L173.3 218 173 221.3 138.1 201.4z"/><path class="c27" d="M138.1 201.4L138.4 195.2 173.3 218"/><path class="c11" d="M173 221.3L138.1 201.4"/><path class="c10" d="M228.6 257.9L193.7 221.7"/><path class="c32" d="M138.4 195.2L138.7 194.2 173.6 217.6"/><path class="c27" d="M173.3 218L138.4 195.2"/><path class="c28" d="M415.9 234.8L416.1 216.3 451 142.8"/><path class="c7" d="M451 142.8L450.8 212.5"/><path class="c27" d="M305 203.3L305.3 198.6 340.2 130.8"/><path class="c33" d="M340.2 130.8L339.9 192.7"/><path class="f" d="M138.9 197.4L173.8 219.2 173.6 217.6 138.7 194.2z"/><path class="c27" d="M138.7 194.2L138.9 197.4 173.8 219.2"/><path class="c32" d="M173.6 217.6L138.7 194.2"/><path class="f" d="M194.5 221.5L229.4 171.7 229.1 258.9 194.2 219.9z"/><path class="c31" d="M229.4 171.7L229.1 258.9"/><path class="c10" d="M229.1 258.9L194.2 219.9"/><path class="c30" d="M451.3 156.2L451 142.8"/><path class="c28" d="M451 142.8L416.1 216.3"/><path class="f" d="M305.6 214.1L340.5 234.3 340.2 130.8 305.3 198.6z"/><path class="c38" d="M340.5 234.3L340.2 130.8"/><path class="c27" d="M340.2 130.8L305.3 198.6M138.9 197.4L139.2 197 174.1 221M173.8 219.2L138.9 197.4M416.4 225.3L416.7 195.9 451.6 144.6"/><path class="c11" d="M139.2 197L139.5 200.1 174.4 220.2"/><path class="c27" d="M174.1 221L139.2 197"/><path class="c28" d="M194.8 222.5L195 216.2 229.9 168.8"/><path class="f" d="M416.9 210.2L451.8 170.4 451.6 144.6 416.7 195.9z"/><path class="c31" d="M451.8 170.4L451.6 144.6"/><path class="c27" d="M451.6 144.6L416.7 195.9"/><path class="c11" d="M139.5 200.1L139.7 199.7 174.6 220M174.4 220.2L139.5 200.1"/><path class="f" d="M195.3 222.1L230.2 170.5 229.9 168.8 195 216.2z"/><path class="c28" d="M229.9 168.8L195 216.2"/><path class="c1" d="M250.6 190.1L250.8 156.5 285.7 208.6"/><path class="c3" d="M306.1 192.2L306.4 238.7 341.3 139"/><path class="c15" d="M341.3 139L341 217.9"/><path class="c11" d="M139.7 199.7L140 201.9 174.9 218.8"/><path class="f" d="M251.1 214.4L286 183.2 285.7 208.6 250.8 156.5z"/><path class="c1" d="M285.7 208.6L250.8 156.5"/><path class="f" d="M306.6 207.5L341.5 197.7 341.3 139 306.4 238.7z"/><path class="c14" d="M341.5 197.7L341.3 139"/><path class="c3" d="M341.3 139L306.4 238.7"/><path class="c27" d="M140 201.9L140.3 198.6 175.2 217.5"/><path class="c11" d="M174.9 218.8L140 201.9"/><path class="c27" d="M140.3 198.6L140.5 196.4 175.4 214.3M175.2 217.5L140.3 198.6"/><path class="c11" d="M140.5 196.4L140.8 201.7 175.7 222.6"/><path class="c27" d="M175.4 214.3L140.5 196.4"/><path class="c11" d="M140.8 201.7L141.1 201 176 217.2M175.7 222.6L140.8 201.7"/><path class="c6" d="M196.4 215.9L196.6 225.3 231.5 251"/><path class="c32" d="M141.1 201L141.4 196 176.3 220.6"/><path class="c11" d="M176 217.2L141.1 201"/><path class="f" d="M196.9 220.3L231.8 149.1 231.5 251 196.6 225.3z"/><path class="c10" d="M196.6 225.3L196.9 220.3 231.8 149.1"/><path class="c1" d="M231.8 149.1L231.5 251"/><path class="c6" d="M231.5 251L196.6 225.3"/><path class="c27" d="M141.4 196L141.6 199 176.5 219.9"/><path class="c32" d="M176.3 220.6L141.4 196"/><path class="f" d="M197.2 223.6L232.1 191.6 231.8 149.1 196.9 220.3z"/><path class="c11" d="M232.1 191.6L231.8 149.1"/><path class="c10" d="M231.8 149.1L196.9 220.3"/><path class="c25" d="M141.6 199L141.9 204 176.8 224.1"/><path class="c27" d="M176.5 219.9L141.6 199"/><path class="c5" d="M197.2 223.6L197.4 216.4 232.3 176"/><path class="c15" d="M287.9 139.6L287.6 258.2"/><path class="c27" d="M141.9 204L142.2 199.3 177.1 221.7"/><path class="c25" d="M176.8 224.1L141.9 204"/><path class="c5" d="M232.3 176L197.4 216.4"/><path class="f" d="M253.2 227.5L288.1 205.5 287.9 139.6 253 164.3z"/><path class="c5" d="M288.1 205.5L287.9 139.6"/><path class="c26" d="M287.9 139.6L253 164.3"/><path class="c32" d="M142.2 199.3L142.4 195.8 177.3 219.9"/><path class="c27" d="M177.1 221.7L142.2 199.3"/><path class="c28" d="M197.7 221.1L198 219.2 232.9 166"/><path class="c27" d="M142.4 195.8L142.7 198.7 177.6 220"/><path class="c32" d="M177.3 219.9L142.4 195.8"/><path class="c28" d="M232.9 166L198 219.2"/><path class="c11" d="M142.7 198.7L143 203.1 177.9 215.7"/><path class="c10" d="M420.2 235.5L420.4 223.1 455.3 138.4"/><path class="c15" d="M455.3 138.4L455.1 199.9"/><path class="c11" d="M143 203.1L143.2 201.5 178.1 224.8M177.9 215.7L143 203.1"/><path class="f" d="M420.7 161.7L455.6 196.6 455.3 138.4 420.4 223.1z"/><path class="c25" d="M455.6 196.6L455.3 138.4"/><path class="c10" d="M455.3 138.4L420.4 223.1"/><path class="c32" d="M143.2 201.5L143.5 195.7 178.4 214.4"/><path class="c11" d="M178.1 224.8L143.2 201.5"/><path class="c28" d="M198.8 217.1L199 219.1 233.9 159.2"/><path class="f" d="M143.8 204.2L178.7 218 178.4 214.4 143.5 195.7z"/><path class="c25" d="M143.5 195.7L143.8 204.2 178.7 218"/><path class="c32" d="M178.4 214.4L143.5 195.7"/><path class="f" d="M199.3 225.4L234.2 180.7 233.9 159.2 199 219.1z"/><path class="c28" d="M233.9 159.2L199 219.1"/><path class="c27" d="M143.8 204.2L144 199.7 178.9 217.3"/><path class="c25" d="M178.7 218L143.8 204.2"/><path class="f" d="M144.3 206.9L179.2 218.4 178.9 217.3 144 199.7z"/><path class="c25" d="M144 199.7L144.3 206.9 179.2 218.4"/><path class="c27" d="M178.9 217.3L144 199.7"/><path class="c28" d="M199.6 223.1L199.8 220.3 234.7 172.2"/><path class="c25" d="M144.3 206.9L144.6 207.1 179.5 215.6"/><path class="c28" d="M234.7 172.2L199.8 220.3"/><path class="c11" d="M144.6 207.1L144.8 204.5 179.7 218.5"/><path class="c25" d="M179.5 215.6L144.6 207.1M144.8 204.5L145.1 206.7 180 218.3"/><path class="c28" d="M255.9 237.5L256.2 219.1 291.1 139.7"/><path class="c15" d="M291.1 139.7L290.8 256.2"/><path class="c27" d="M145.1 206.7L145.4 201.2 180.3 218.3"/><path class="c25" d="M180 218.3L145.1 206.7"/><path class="f" d="M200.9 224.5L235.8 204.7 235.6 183.5 200.7 215.4z"/><path class="c5" d="M235.6 183.5L200.7 215.4"/><path class="f" d="M256.5 157.2L291.4 184 291.1 139.7 256.2 219.1z"/><path class="c12" d="M291.4 184L291.1 139.7"/><path class="c28" d="M291.1 139.7L256.2 219.1"/><path class="f" d="M312 183.6L346.9 189.5 346.6 162.4 311.7 145z"/><path class="c29" d="M346.6 162.4L311.7 145"/><path class="c11" d="M145.4 201.2L145.6 202.3 180.5 218.8"/><path class="c27" d="M180.3 218.3L145.4 201.2"/><path class="f" d="M367.6 230.3L402.5 205.8 402.2 178 367.3 139z"/><path class="c46" d="M402.2 178L367.3 139"/><path class="f" d="M256.7 234.8L291.6 192.2 291.4 184 256.5 157.2z"/><path class="c7" d="M291.4 184L256.5 157.2"/><path class="c27" d="M145.6 202.3L145.9 201.8 180.8 223.9"/><path class="c11" d="M180.5 218.8L145.6 202.3"/><path class="c9" d="M256.7 234.8L257 235.9 291.9 145"/><path class="c13" d="M291.9 145L291.6 192.2"/><path class="c11" d="M312.3 205L312.5 205 347.4 150.4"/><path class="c1" d="M347.4 150.4L347.2 172.8"/><path class="c27" d="M180.8 223.9L145.9 201.8"/><path class="f" d="M368.1 218.5L403 241.1 402.7 179.9 367.8 161.9z"/><path class="c2" d="M402.7 179.9L367.8 161.9"/><path class="f" d="M257.3 198.6L292.2 206.5 291.9 145 257 235.9z"/><path class="c5" d="M292.2 206.5L291.9 145"/><path class="c9" d="M291.9 145L257 235.9"/><path class="f" d="M312.8 147.2L347.7 219.1 347.4 150.4 312.5 205z"/><path class="c29" d="M312.5 205L312.8 147.2 347.7 219.1"/><path class="c6" d="M347.7 219.1L347.4 150.4"/><path class="c11" d="M347.4 150.4L312.5 205"/><path class="c14" d="M146.2 202L146.4 210.7 181.3 220.4"/><path class="c11" d="M181.1 217.1L146.2 202"/><path class="c28" d="M201.7 220.6L202 220.3 236.9 264"/><path class="f" d="M313.1 236.1L348 185.7 347.7 219.1 312.8 147.2z"/><path class="c29" d="M347.7 219.1L312.8 147.2"/><path class="f" d="M146.7 208.2L181.6 221.6 181.3 220.4 146.4 210.7z"/><path class="c25" d="M146.4 210.7L146.7 208.2 181.6 221.6"/><path class="c14" d="M181.3 220.4L146.4 210.7"/><path class="f" d="M202.3 225.4L237.2 213.5 236.9 264 202 220.3z"/><path class="c10" d="M237.2 213.5L236.9 264"/><path class="c28" d="M236.9 264L202 220.3"/><path class="c27" d="M146.7 208.2L147 201.5 181.9 222.4"/><path class="c25" d="M181.6 221.6L146.7 208.2"/><path class="c11" d="M147 201.5L147.2 203.1 182.1 223.2"/><path class="c27" d="M181.9 222.4L147 201.5"/><path class="c14" d="M147.2 203.1L147.5 209.6 182.4 218.7"/><path class="c11" d="M182.1 223.2L147.2 203.1"/><path class="c28" d="M202.8 223.7L203.1 222.5 238 143.6"/><path class="c13" d="M238 143.6L237.7 206.1"/><path class="c25" d="M147.5 209.6L147.8 207.8 182.7 217.5"/><path class="f" d="M203.3 221.3L238.2 171.1 238 143.6 203.1 222.5z"/><path class="c28" d="M203.1 222.5L203.3 221.3 238.2 171.1"/><path class="c20" d="M238.2 171.1L238 143.6"/><path class="c28" d="M238 143.6L203.1 222.5"/><path class="f" d="M203.6 220.4L238.5 210.5 238.2 171.1 203.3 221.3z"/><path class="c28" d="M238.2 171.1L203.3 221.3"/><path class="c14" d="M148.1 209.1L148.3 210.1 183.2 223.4"/><path class="c27" d="M148.3 210.1L148.6 201.9 183.5 216.4"/><path class="c14" d="M183.2 223.4L148.3 210.1"/><path class="f" d="M148.9 210.3L183.8 223.7 183.5 216.4 148.6 201.9z"/><path class="c14" d="M148.6 201.9L148.9 210.3 183.8 223.7"/><path class="c27" d="M183.5 216.4L148.6 201.9"/><path class="f" d="M259.9 195.1L294.9 213.9 294.6 180.1 259.7 169.8z"/><path class="c30" d="M294.6 180.1L259.7 169.8"/><path class="c14" d="M148.9 210.3L149.1 211.5 184 217.3"/><path class="c25" d="M149.1 211.5L149.4 207.2 184.3 219.1"/><path class="c14" d="M184 217.3L149.1 211.5M149.4 207.2L149.7 210.3 184.6 220"/><path class="c25" d="M184.3 219.1L149.4 207.2M149.7 210.3L149.9 208 184.8 221.7"/><path class="c14" d="M184.6 220L149.7 210.3"/><path class="c0" d="M149.9 208L150.2 215.4 185.1 220.9"/><path class="c25" d="M184.8 221.7L149.9 208"/><path class="c5" d="M371.8 199.8L372.1 220.2 407 116.1"/><path class="c49" d="M407 116.1L406.7 189.5"/><path class="c25" d="M150.2 215.4L150.5 207.9 185.4 222.7"/><path class="c0" d="M185.1 220.9L150.2 215.4"/><path class="f" d="M372.4 210.8L407.3 166.1 407 116.1 372.1 220.2z"/><path class="c21" d="M407.3 166.1L407 116.1"/><path class="c5" d="M407 116.1L372.1 220.2"/><path class="c46" d="M427.7 197.4L427.9 143 462.8 224.7"/><path class="c14" d="M150.5 207.9L150.7 212.6 185.6 214.2"/><path class="c28" d="M185.6 214.2L185.4 222.7"/><path class="c25" d="M185.4 222.7L150.5 207.9"/><path class="f" d="M428.2 249.4L463.1 169.1 462.8 224.7 427.9 143z"/><path class="c46" d="M462.8 224.7L427.9 143"/><path class="f" d="M261.8 249.3L296.7 225.1 296.5 206.8 261.6 175.9z"/><path class="c21" d="M296.5 206.8L261.6 175.9"/><path class="f" d="M151 209L185.9 218.3 185.6 214.2 150.7 212.6z"/><path class="c25" d="M150.7 212.6L151 209 185.9 218.3"/><path class="c6" d="M185.9 218.3L185.6 214.2"/><path class="c14" d="M185.6 214.2L150.7 212.6"/><path class="c0" d="M241.2 187.1L206.3 215.8"/><path class="c12" d="M428.2 249.4L428.5 197.4 463.4 137.7"/><path class="c33" d="M463.4 137.7L463.1 169.1"/><path class="f" d="M151.3 217.8L186.2 225.5 185.9 218.3 151 209z"/><path class="c5" d="M151 209L151.3 217.8 186.2 225.5"/><path class="c25" d="M185.9 218.3L151 209"/><path class="c5" d="M241.4 179.3L206.5 218.6"/><path class="f" d="M428.7 204.6L463.6 195.6 463.4 137.7 428.5 197.4z"/><path class="c11" d="M463.6 195.6L463.4 137.7"/><path class="c12" d="M463.4 137.7L428.5 197.4"/><path class="f" d="M151.5 211.2L186.4 221.4 186.2 225.5 151.3 217.8z"/><path class="c14" d="M151.3 217.8L151.5 211.2 186.4 221.4"/><path class="c5" d="M186.2 225.5L151.3 217.8"/><path class="c0" d="M151.5 211.2L151.8 214.7 186.7 229.1"/><path class="c14" d="M186.4 221.4L151.5 211.2"/><path class="c0" d="M242 184.6L207.1 217.5"/><path class="c25" d="M151.8 214.7L152.1 211 187 219.2"/><path class="c0" d="M186.7 229.1L151.8 214.7M262.9 238L263.2 216.5 298.1 156.7"/><path class="f" d="M152.3 213.4L187.2 218 187 219.2 152.1 211z"/><path class="c14" d="M152.1 211L152.3 213.4 187.2 218"/><path class="c25" d="M187 219.2L152.1 211"/><path class="c28" d="M429.5 230.1L429.8 224.2 464.7 148.8"/><path class="c7" d="M464.7 148.8L464.4 190.4"/><path class="c0" d="M298.1 156.7L263.2 216.5"/><path class="c5" d="M152.3 213.4L152.6 220.1 187.5 222.2"/><path class="c14" d="M187.2 218L152.3 213.4"/><path class="f" d="M430.1 216.3L465 198.4 464.7 148.8 429.8 224.2z"/><path class="c11" d="M465 198.4L464.7 148.8"/><path class="c28" d="M464.7 148.8L429.8 224.2"/><path class="f" d="M152.9 213.6L187.8 220.5 187.5 222.2 152.6 220.1z"/><path class="c14" d="M152.6 220.1L152.9 213.6 187.8 220.5"/><path class="c5" d="M187.5 222.2L152.6 220.1"/><path class="c14" d="M152.9 213.6L153.1 213.6 188 218.9M187.8 220.5L152.9 213.6"/><path class="c5" d="M208.4 218.9L208.7 221.8 243.6 154.9"/><path class="c1" d="M243.6 154.9L243.3 225.5"/><path class="c14" d="M153.1 213.6L153.4 213 188.3 225.5"/><path class="f" d="M209 222.6L243.9 163.5 243.6 154.9 208.7 221.8z"/><path class="c28" d="M208.7 221.8L209 222.6 243.9 163.5"/><path class="c30" d="M243.9 163.5L243.6 154.9"/><path class="c5" d="M243.6 154.9L208.7 221.8"/><path class="c0" d="M153.4 213L153.7 218.7 188.6 220.5"/><path class="c14" d="M188.3 225.5L153.4 213"/><path class="f" d="M209.2 218.9L244.1 196.1 243.9 163.5 209 222.6z"/><path class="c28" d="M243.9 163.5L209 222.6"/><path class="c14" d="M153.7 218.7L154 213.1 188.9 222.8"/><path class="c0" d="M188.6 220.5L153.7 218.7"/><path class="c46" d="M320.3 246.5L320.6 143 355.5 208.1"/><path class="c0" d="M154 213.1L154.2 216.3 189.1 218.5"/><path class="c14" d="M188.9 222.8L154 213.1"/><path class="c46" d="M431.4 249.3L431.7 145.7 466.6 222.9"/><path class="f" d="M320.9 195.1L355.8 194.9 355.5 208.1 320.6 143z"/><path class="c35" d="M320.6 143L320.9 195.1 355.8 194.9"/><path class="c46" d="M355.5 208.1L320.6 143"/><path class="c0" d="M154.2 216.3L154.5 218.3 189.4 220.6"/><path class="f" d="M431.9 210.9L466.8 210.9 466.6 222.9 431.7 145.7z"/><path class="c46" d="M466.6 222.9L431.7 145.7"/><path class="f" d="M154.8 215.7L189.7 219.4 189.4 220.6 154.5 218.3z"/><path class="c14" d="M154.5 218.3L154.8 215.7 189.7 219.4"/><path class="c0" d="M189.4 220.6L154.5 218.3"/><path class="c14" d="M244.9 230.9L210 213.3"/><path class="c25" d="M155 216L155.3 212.7 190.2 222"/><path class="c0" d="M245.5 183.3L210.6 218.9"/><path class="c27" d="M266.1 230L266.4 205.1 301.3 154.3"/><path class="c1" d="M301.3 154.3L301 225.8"/><path class="c0" d="M155.3 212.7L155.6 217.2 190.5 223.5"/><path class="c25" d="M190.2 222L155.3 212.7"/><path class="c48" d="M301.6 237.6L301.3 154.3"/><path class="c27" d="M301.3 154.3L266.4 205.1"/><path class="c14" d="M155.6 217.2L155.8 213.8 190.7 221.6"/><path class="c0" d="M190.5 223.5L155.6 217.2"/><path class="c14" d="M155.8 213.8L156.1 214.1 191 218.7M190.7 221.6L155.8 213.8"/><path class="f" d="M156.4 217.5L191.3 218.1 191 218.7 156.1 214.1z"/><path class="c0" d="M156.1 214.1L156.4 217.5 191.3 218.1"/><path class="c14" d="M191 218.7L156.1 214.1M156.4 217.5L156.6 215 191.5 225.5"/><path class="c0" d="M191.3 218.1L156.4 217.5M156.6 215L156.9 217.3 191.8 218.2"/><path class="c14" d="M191.5 225.5L156.6 215"/><path class="c25" d="M434.1 199.9L434.4 213.1 469.3 148.2"/><path class="c13" d="M469.3 148.2L469 217.1"/><path class="c14" d="M156.9 217.3L157.2 215.5 192.1 224.3"/><path class="c0" d="M191.8 218.2L156.9 217.3"/><path class="f" d="M434.6 223.6L469.5 229.6 469.3 148.2 434.4 213.1z"/><path class="c16" d="M469.5 229.6L469.3 148.2"/><path class="c25" d="M469.3 148.2L434.4 213.1"/><path class="c0" d="M157.2 215.5L157.4 217.9 192.3 221.5"/><path class="c14" d="M192.1 224.3L157.2 215.5"/><path class="c5" d="M157.4 217.9L157.7 221.2 192.6 221.5"/><path class="c14" d="M324.1 212.4L324.3 217.7 359.2 147.1"/><path class="c15" d="M359.2 147.1L359 250"/><path class="c0" d="M157.7 221.2L158 220.6 192.9 222.6"/><path class="c5" d="M192.6 221.5L157.7 221.2"/><path class="f" d="M324.6 186.3L359.5 223.9 359.2 147.1 324.3 217.7z"/><path class="c6" d="M359.5 223.9L359.2 147.1"/><path class="c14" d="M359.2 147.1L324.3 217.7M158 220.6L158.2 216.6 193.1 219.9"/><path class="f" d="M435.7 202.4L470.6 232.7 470.3 190 435.4 158.1z"/><path class="c13" d="M470.3 190L435.4 158.1"/><path class="f" d="M158.5 226L193.4 218.5 193.1 219.9 158.2 216.6z"/><path class="c28" d="M158.2 216.6L158.5 226 193.4 218.5"/><path class="c14" d="M193.1 219.9L158.2 216.6"/><path class="c0" d="M213.8 219.6L214.1 220.7 249 154.4"/><path class="c7" d="M249 154.4L248.7 222.5"/><path class="f" d="M158.8 219.1L193.7 221.7 193.4 218.5 158.5 226z"/><path class="c0" d="M158.5 226L158.8 219.1 193.7 221.7"/><path class="c28" d="M193.4 218.5L158.5 226"/><path class="f" d="M214.3 215L249.2 199.4 249 154.4 214.1 220.7z"/><path class="c11" d="M249.2 199.4L249 154.4"/><path class="c0" d="M249 154.4L214.1 220.7"/><path class="c5" d="M158.8 219.1L159 223.3 193.9 217"/><path class="c0" d="M193.7 221.7L158.8 219.1"/><path class="c3" d="M436.2 234.4L436.5 245.9 471.4 162.7"/><path class="c26" d="M471.4 162.7L471.1 191.1"/><path class="c6" d="M471.7 223L471.4 162.7"/><path class="c3" d="M471.4 162.7L436.5 245.9"/><path class="c5" d="M159.3 223.1L159.6 224.1 194.5 221.5"/><path class="c25" d="M249.8 192.3L214.9 213.5"/><path class="c0" d="M159.6 224.1L159.9 219.9 194.8 222.5"/><path class="c5" d="M194.5 221.5L159.6 224.1"/><path class="c0" d="M159.9 219.9L160.1 220 195 216.2M194.8 222.5L159.9 219.9"/><path class="f" d="M160.4 221.9L195.3 222.1 195 216.2 160.1 220z"/><path class="c0" d="M160.1 220L160.4 221.9 195.3 222.1M195 216.2L160.1 220"/><path class="c14" d="M215.7 222.3L215.9 216.8 250.8 156.5"/><path class="c1" d="M250.8 156.5L250.6 190.1"/><path class="c5" d="M160.4 221.9L160.7 225 195.6 222.1"/><path class="c0" d="M195.3 222.1L160.4 221.9"/><path class="f" d="M216.2 214.3L251.1 214.4 250.8 156.5 215.9 216.8z"/><path class="c5" d="M251.1 214.4L250.8 156.5"/><path class="c14" d="M250.8 156.5L215.9 216.8"/><path class="c28" d="M160.7 225L160.9 226.2 195.8 228"/><path class="c5" d="M195.6 222.1L160.7 225"/><path class="c28" d="M195.8 228L160.9 226.2"/><path class="f" d="M216.7 220.4L251.6 213.6 251.4 179.9 216.5 213.4z"/><path class="c25" d="M251.4 179.9L216.5 213.4"/><path class="c5" d="M161.2 225.9L161.5 224.1 196.4 215.9"/><path class="f" d="M161.7 225L196.6 225.3 196.4 215.9 161.5 224.1z"/><path class="c5" d="M161.5 224.1L161.7 225 196.6 225.3M196.4 215.9L161.5 224.1"/><path class="c0" d="M162 227.3L162.3 222.1 197.2 223.6"/><path class="c28" d="M162.3 222.1L162.5 229.7 197.4 216.4"/><path class="c0" d="M197.2 223.6L162.3 222.1"/><path class="f" d="M162.8 223.6L197.7 221.1 197.4 216.4 162.5 229.7z"/><path class="c5" d="M162.5 229.7L162.8 223.6 197.7 221.1"/><path class="c28" d="M197.4 216.4L162.5 229.7"/><path class="f" d="M163.1 225.5L198 219.2 197.7 221.1 162.8 223.6z"/><path class="c5" d="M162.8 223.6L163.1 225.5 198 219.2M197.7 221.1L162.8 223.6M163.1 225.5L163.3 225.2 198.2 223M198 219.2L163.1 225.5M163.3 225.2L163.6 226 198.5 224.5M198.2 223L163.3 225.2"/><path class="c28" d="M163.6 226L163.9 228.7 198.8 217.1"/><path class="c5" d="M198.5 224.5L163.6 226"/><path class="c28" d="M163.9 228.7L164.1 230.1 199 219.1M164.1 230.1L164.4 229.5 199.3 225.4M199 219.1L164.1 230.1"/><path class="f" d="M164.7 223.4L199.6 223.1 199.3 225.4 164.4 229.5z"/><path class="c0" d="M164.4 229.5L164.7 223.4 199.6 223.1"/><path class="c28" d="M199.3 225.4L164.4 229.5"/><path class="c5" d="M164.7 223.4L164.9 227.3 199.8 220.3"/><path class="f" d="M276 233.5L310.9 213.3 310.7 191.3 275.8 162.7z"/><path class="c13" d="M310.7 191.3L275.8 162.7"/><path class="c0" d="M164.9 227.3L165.2 223.9 200.1 217.6"/><path class="c5" d="M199.8 220.3L164.9 227.3"/><path class="c1" d="M386.9 222.1L387.1 170.7 422 255.4"/><path class="f" d="M165.5 222.2L200.4 225.8 200.1 217.6 165.2 223.9z"/><path class="c0" d="M165.2 223.9L165.5 222.2 200.4 225.8M200.1 217.6L165.2 223.9"/><path class="f" d="M387.4 241.9L422.3 213.9 422 255.4 387.1 170.7z"/><path class="c1" d="M422 255.4L387.1 170.7"/><path class="f" d="M165.8 230.9L200.7 215.4 200.4 225.8 165.5 222.2z"/><path class="c28" d="M165.5 222.2L165.8 230.9 200.7 215.4"/><path class="c0" d="M200.4 225.8L165.5 222.2"/><path class="c23" d="M276.6 209.8L276.8 185.3 311.7 145"/><path class="c29" d="M311.7 145L311.5 234.2"/><path class="c14" d="M332.1 250.2L332.4 218.2 367.3 139"/><path class="c46" d="M367.3 139L367 224"/><path class="f" d="M166 224.8L200.9 224.5 200.7 215.4 165.8 230.9z"/><path class="c5" d="M165.8 230.9L166 224.8 200.9 224.5"/><path class="c28" d="M200.7 215.4L165.8 230.9"/><path class="c25" d="M221.3 219.7L221.6 215.6 256.5 157.2"/><path class="c7" d="M256.5 157.2L256.2 219.1"/><path class="f" d="M277.1 214.7L312 183.6 311.7 145 276.8 185.3z"/><path class="c31" d="M312 183.6L311.7 145"/><path class="c23" d="M311.7 145L276.8 185.3"/><path class="f" d="M332.7 225.5L367.6 230.3 367.3 139 332.4 218.2z"/><path class="c22" d="M367.6 230.3L367.3 139"/><path class="c14" d="M367.3 139L332.4 218.2"/><path class="f" d="M166.3 228.6L201.2 223.4 200.9 224.5 166 224.8z"/><path class="c28" d="M166 224.8L166.3 228.6 201.2 223.4"/><path class="c5" d="M200.9 224.5L166 224.8"/><path class="f" d="M221.8 217.9L256.7 234.8 256.5 157.2 221.6 215.6z"/><path class="c16" d="M256.7 234.8L256.5 157.2"/><path class="c25" d="M256.5 157.2L221.6 215.6"/><path class="c28" d="M166.3 228.6L166.6 231 201.5 222.4M201.2 223.4L166.3 228.6"/><path class="f" d="M333.2 177.9L368.1 218.5 367.8 161.9 332.9 161.5z"/><path class="c26" d="M332.9 161.5L333.2 177.9 368.1 218.5"/><path class="c13" d="M367.8 161.9L332.9 161.5"/><path class="c28" d="M166.6 231L166.8 230.5 201.7 220.6M201.5 222.4L166.6 231"/><path class="c26" d="M479.2 166.7L478.9 186.6"/><path class="c28" d="M277.6 248.7L277.9 229 312.8 147.2"/><path class="c29" d="M312.8 147.2L312.5 205"/><path class="c26" d="M368.1 218.5L333.2 177.9"/><path class="c28" d="M166.8 230.5L167.1 230.1 202 220.3M201.7 220.6L166.8 230.5"/><path class="f" d="M444.6 236.8L479.5 190.2 479.2 166.7 444.3 179.5z"/><path class="c35" d="M479.5 190.2L479.2 166.7"/><path class="c30" d="M479.2 166.7L444.3 179.5"/><path class="f" d="M278.2 232.6L313.1 236.1 312.8 147.2 277.9 229z"/><path class="c9" d="M313.1 236.1L312.8 147.2"/><path class="c28" d="M312.8 147.2L277.9 229M167.1 230.1L167.4 228.9 202.3 225.4"/><path class="f" d="M222.9 215.4L257.8 253.4 257.5 188.5 222.6 208.6z"/><path class="c27" d="M257.5 188.5L222.6 208.6"/><path class="c10" d="M167.6 228.9L167.9 232.5 202.8 223.7"/><path class="c28" d="M202.5 220.2L167.6 228.9"/><path class="c10" d="M167.9 232.5L168.2 233.7 203.1 222.5"/><path class="f" d="M168.4 229.3L203.3 221.3 203.1 222.5 168.2 233.7z"/><path class="c28" d="M168.2 233.7L168.4 229.3 203.3 221.3"/><path class="c10" d="M203.1 222.5L168.2 233.7"/><path class="c28" d="M168.4 229.3L168.7 231.2 203.6 220.4M203.3 221.3L168.4 229.3M168.7 231.2L169 231.4 203.9 222.4M203.6 220.4L168.7 231.2"/><path class="f" d="M224.5 209.7L259.4 247.2 259.1 174.1 224.2 211.4z"/><path class="c27" d="M259.1 174.1L224.2 211.4"/><path class="c28" d="M169 231.4L169.2 232.1 204.1 216.4"/><path class="c11" d="M224.5 209.7L224.8 213.4 259.7 169.8"/><path class="c30" d="M259.7 169.8L259.4 247.2"/><path class="c27" d="M259.4 247.2L224.5 209.7"/><path class="c28" d="M169.2 232.1L169.5 232.1 204.4 219.2"/><path class="f" d="M225.1 223L259.9 195.1 259.7 169.8 224.8 213.4z"/><path class="c14" d="M224.8 213.4L225.1 223 259.9 195.1"/><path class="c12" d="M259.9 195.1L259.7 169.8"/><path class="c11" d="M259.7 169.8L224.8 213.4"/><path class="c5" d="M169.5 232.1L169.8 228.8 204.7 221.5"/><path class="f" d="M170 237.9L204.9 224 204.7 221.5 169.8 228.8z"/><path class="c6" d="M169.8 228.8L170 237.9 204.9 224"/><path class="c5" d="M204.7 221.5L169.8 228.8"/><path class="c28" d="M170 237.9L170.3 232.6 205.2 220.9"/><path class="c6" d="M204.9 224L170 237.9"/><path class="c28" d="M170.3 232.6L170.6 232.3 205.5 223M205.2 220.9L170.3 232.6M170.6 232.3L170.8 232.6 205.7 215.2M205.5 223L170.6 232.3"/><path class="c10" d="M170.8 232.6L171.1 236.9 206 219.9"/><path class="c46" d="M427.9 143L427.7 197.4"/><path class="c0" d="M226.4 223.2L226.7 225.2 261.6 175.9"/><path class="c21" d="M261.6 175.9L261.3 193.8"/><path class="c2" d="M316.8 181.6L281.9 176"/><path class="f" d="M171.4 231.2L206.3 215.8 206 219.9 171.1 236.9z"/><path class="c28" d="M171.1 236.9L171.4 231.2 206.3 215.8"/><path class="c10" d="M206 219.9L171.1 236.9"/><path class="f" d="M393.3 238.6L428.2 249.4 427.9 143 393 170.4z"/><path class="c38" d="M428.2 249.4L427.9 143"/><path class="c1" d="M427.9 143L393 170.4"/><path class="f" d="M226.9 223.5L261.8 249.3 261.6 175.9 226.7 225.2z"/><path class="c38" d="M261.8 249.3L261.6 175.9"/><path class="c0" d="M261.6 175.9L226.7 225.2"/><path class="c5" d="M171.6 232.3L171.9 229.2 206.8 218.5"/><path class="c28" d="M171.9 229.2L172.2 233 207.1 217.5"/><path class="c5" d="M172.2 233L172.5 228 207.4 217.4"/><path class="c25" d="M283.3 242.1L283.5 219.8 318.4 151.7"/><path class="f" d="M172.7 233.4L207.6 215.2 207.4 217.4 172.5 228z"/><path class="c28" d="M172.5 228L172.7 233.4 207.6 215.2"/><path class="c5" d="M207.4 217.4L172.5 228"/><path class="f" d="M283.8 219L318.7 204.5 318.4 151.7 283.5 219.8z"/><path class="c25" d="M318.4 151.7L283.5 219.8"/><path class="c28" d="M172.7 233.4L173 232.3 207.9 221.2"/><path class="c10" d="M173 232.3L173.3 234.7 208.2 221.5"/><path class="c28" d="M207.9 221.2L173 232.3"/><path class="f" d="M228.8 224.7L263.7 189.5 263.4 182.7 228.5 217.5z"/><path class="c11" d="M263.4 182.7L228.5 217.5"/><path class="c10" d="M173.3 234.7L173.5 236 208.4 218.9M208.2 221.5L173.3 234.7"/><path class="c22" d="M450.7 204.9L451 243.2 485.9 157.5"/><path class="c13" d="M485.9 157.5L485.6 210.1"/><path class="c10" d="M173.5 236L173.8 236.3 208.7 221.8"/><path class="f" d="M395.7 229.9L430.6 249.5 430.3 210 395.4 178.4z"/><path class="c26" d="M430.3 210L395.4 178.4"/><path class="f" d="M451.3 170.8L486.2 229.9 485.9 157.5 451 243.2z"/><path class="c7" d="M451 243.2L451.3 170.8 486.2 229.9"/><path class="c6" d="M486.2 229.9L485.9 157.5"/><path class="c22" d="M485.9 157.5L451 243.2"/><path class="c10" d="M173.8 236.3L174.1 236.2 209 222.6"/><path class="c7" d="M486.2 229.9L451.3 170.8"/><path class="c5" d="M174.1 236.2L174.3 229.3 209.2 218.9"/><path class="f" d="M174.6 237.2L209.5 221.2 209.2 218.9 174.3 229.3z"/><path class="c10" d="M174.3 229.3L174.6 237.2 209.5 221.2"/><path class="c5" d="M209.2 218.9L174.3 229.3"/><path class="c16" d="M285.4 234.2L285.7 248.9 320.6 143"/><path class="c46" d="M320.6 143L320.3 246.5"/><path class="f" d="M174.9 238.2L209.8 218.8 209.5 221.2 174.6 237.2z"/><path class="c10" d="M174.6 237.2L174.9 238.2 209.8 218.8M209.5 221.2L174.6 237.2"/><path class="c32" d="M396.5 228.1L396.8 211.7 431.7 145.7"/><path class="c46" d="M431.7 145.7L431.4 249.3"/><path class="f" d="M286 199.2L320.9 195.1 320.6 143 285.7 248.9z"/><path class="c35" d="M320.9 195.1L320.6 143"/><path class="c16" d="M320.6 143L285.7 248.9"/><path class="c10" d="M174.9 238.2L175.1 238.9 210 213.3"/><path class="f" d="M397 227.7L431.9 210.9 431.7 145.7 396.8 211.7z"/><path class="c25" d="M431.9 210.9L431.7 145.7"/><path class="c32" d="M431.7 145.7L396.8 211.7"/><path class="c28" d="M175.1 238.9L175.4 235.6 210.3 220.6"/><path class="c10" d="M210 213.3L175.1 238.9"/><path class="c28" d="M175.7 237.7L175.9 233.3 210.8 217.1"/><path class="f" d="M176.2 237.2L211.1 226.1 210.8 217.1 175.9 233.3z"/><path class="c10" d="M175.9 233.3L176.2 237.2 211.1 226.1"/><path class="c28" d="M210.8 217.1L175.9 233.3"/><path class="c31" d="M322.2 174.8L287.3 196.2"/><path class="c28" d="M176.5 239.2L176.7 234.5 211.6 218.5"/><path class="c10" d="M211.4 221.3L176.5 239.2M453.9 258.5L454.2 238.4 489.1 159.7"/><path class="c13" d="M489.1 159.7L488.8 208.7"/><path class="c28" d="M176.7 234.5L177 236.4 211.9 223.2M211.6 218.5L176.7 234.5"/><path class="c11" d="M398.7 203.1L398.9 217.9 433.8 161.6"/><path class="f" d="M454.5 236.2L489.4 236 489.1 159.7 454.2 238.4z"/><path class="c22" d="M489.4 236L489.1 159.7"/><path class="c10" d="M489.1 159.7L454.2 238.4M177 236.4L177.3 240 212.2 222.7"/><path class="c28" d="M211.9 223.2L177 236.4"/><path class="f" d="M399.2 195.9L434.1 199.9 433.8 161.6 398.9 217.9z"/><path class="c11" d="M433.8 161.6L398.9 217.9"/><path class="c10" d="M177.3 240L177.5 237.7 212.4 215.8M212.2 222.7L177.3 240M177.5 237.7L177.8 239.5 212.7 216.9M212.4 215.8L177.5 237.7"/><path class="c28" d="M177.8 239.5L178.1 236.9 213 224"/><path class="c10" d="M212.7 216.9L177.8 239.5"/><path class="f" d="M289.2 234.8L324.1 212.4 323.8 181.3 288.9 166.7z"/><path class="c13" d="M323.8 181.3L288.9 166.7"/><path class="c5" d="M178.1 236.9L178.4 233.3 213.3 218.3"/><path class="f" d="M178.6 238L213.5 219 213.3 218.3 178.4 233.3z"/><path class="c10" d="M178.4 233.3L178.6 238 213.5 219"/><path class="c5" d="M213.3 218.3L178.4 233.3M400.3 206.3L400.5 233.4 435.4 158.1"/><path class="c10" d="M178.6 238L178.9 240.7 213.8 219.6"/><path class="f" d="M400.8 221.8L435.7 202.4 435.4 158.1 400.5 233.4z"/><path class="c5" d="M435.4 158.1L400.5 233.4"/><path class="c10" d="M178.9 240.7L179.2 237.6 214.1 220.7M213.8 219.6L178.9 240.7M179.2 237.6L179.4 238.7 214.3 215M214.1 220.7L179.2 237.6M214.3 215L179.4 238.7M179.7 241.9L180 238.6 214.9 213.5"/><path class="c25" d="M214.9 213.5L214.6 217.5"/><path class="c6" d="M214.6 217.5L179.7 241.9"/><path class="f" d="M180.2 242.3L215.1 215 214.9 213.5 180 238.6z"/><path class="c6" d="M180 238.6L180.2 242.3 215.1 215"/><path class="c25" d="M215.1 215L214.9 213.5"/><path class="c10" d="M214.9 213.5L180 238.6"/><path class="c6" d="M180.2 242.3L180.5 242.4 215.4 220.7M215.1 215L180.2 242.3M180.5 242.4L180.8 243.4 215.7 222.3M215.4 220.7L180.5 242.4"/><path class="c50" d="M458 216.8L458.2 154.5 493.1 206.3"/><path class="f" d="M458.5 208.1L493.4 238.6 493.1 206.3 458.2 154.5z"/><path class="c35" d="M458.2 154.5L458.5 208.1 493.4 238.6"/><path class="c50" d="M493.1 206.3L458.2 154.5"/><path class="c6" d="M181 243.3L181.3 243 216.2 214.3M215.9 216.8L181 243.3"/><path class="c25" d="M216.5 213.4L216.2 214.3"/><path class="c6" d="M216.2 214.3L181.3 243"/><path class="f" d="M181.8 237.9L216.7 220.4 216.5 213.4 181.6 247.2z"/><path class="c28" d="M181.6 247.2L181.8 237.9 216.7 220.4"/><path class="c0" d="M216.7 220.4L216.5 213.4"/><path class="c22" d="M216.5 213.4L181.6 247.2"/><path class="c10" d="M181.8 237.9L182.1 240.4 217 216.5"/><path class="c28" d="M216.7 220.4L181.8 237.9"/><path class="c13" d="M403.8 212.5L404 171 438.9 243.8"/><path class="c10" d="M182.1 240.4L182.4 242.1 217.3 218.3M217 216.5L182.1 240.4"/><path class="f" d="M404.3 239.9L439.2 219 438.9 243.8 404 171z"/><path class="c10" d="M404 171L404.3 239.9 439.2 219"/><path class="c13" d="M438.9 243.8L404 171"/><path class="c6" d="M182.4 242.1L182.6 242.5 217.5 215.3"/><path class="c28" d="M182.6 242.5L182.9 238.4 217.8 217.6"/><path class="c6" d="M217.5 215.3L182.6 242.5M182.9 238.4L183.2 243.2 218.1 221.8"/><path class="c28" d="M217.8 217.6L182.9 238.4"/><path class="c12" d="M238.5 224.9L238.7 211.3 273.6 168.5"/><path class="c6" d="M183.2 243.2L183.4 243.9 218.3 215.3"/><path class="f" d="M239 217.6L273.9 191.2 273.6 168.5 238.7 211.3z"/><path class="c12" d="M273.6 168.5L238.7 211.3"/><path class="c33" d="M349.8 257.9L350.1 161.3 385 240.1"/><path class="c28" d="M183.4 243.9L183.7 238.2 218.6 219.5"/><path class="c6" d="M218.3 215.3L183.4 243.9"/><path class="f" d="M350.4 228.5L385.3 193.6 385 240.1 350.1 161.3z"/><path class="c33" d="M385 240.1L350.1 161.3"/><path class="f" d="M184 242.8L218.9 221.2 218.6 219.5 183.7 238.2z"/><path class="c10" d="M183.7 238.2L184 242.8 218.9 221.2"/><path class="c28" d="M218.6 219.5L183.7 238.2"/><path class="c6" d="M184 242.8L184.3 245.8 219.2 218.8"/><path class="c10" d="M218.9 221.2L184 242.8M184.3 245.8L184.5 240.6 219.4 218.8"/><path class="c6" d="M219.2 218.8L184.3 245.8"/><path class="c29" d="M295.3 227.7L295.6 164 330.5 208.2"/><path class="f" d="M184.8 245.9L219.7 215.2 219.4 218.8 184.5 240.6z"/><path class="c6" d="M184.5 240.6L184.8 245.9 219.7 215.2"/><path class="c10" d="M219.4 218.8L184.5 240.6"/><path class="f" d="M295.9 250.9L330.8 235.4 330.5 208.2 295.6 164z"/><path class="c29" d="M330.5 208.2L295.6 164"/><path class="c10" d="M184.8 245.9L185.1 242.5 220 219.5"/><path class="c6" d="M219.7 215.2L184.8 245.9"/><path class="f" d="M462.5 234.9L497.4 213.7 497.1 176.6 462.2 185.4z"/><path class="c26" d="M497.1 176.6L462.2 185.4"/><path class="c10" d="M185.1 242.5L185.3 243.1 220.2 217.2M220 219.5L185.1 242.5"/><path class="c32" d="M240.6 217.3L240.9 216 275.8 162.7"/><path class="c13" d="M275.8 162.7L275.5 202.4"/><path class="c6" d="M185.3 243.1L185.6 244.2 220.5 215.7"/><path class="c10" d="M220.2 217.2L185.3 243.1"/><path class="f" d="M241.1 213.6L276 233.5 275.8 162.7 240.9 216z"/><path class="c10" d="M276 233.5L275.8 162.7"/><path class="c32" d="M275.8 162.7L240.9 216"/><path class="c12" d="M352 228.9L352.2 212.5 387.1 170.7"/><path class="c1" d="M387.1 170.7L386.9 222.1"/><path class="c22" d="M185.6 244.2L185.9 248.1 220.8 217.4"/><path class="c6" d="M220.5 215.7L185.6 244.2"/><path class="c11" d="M241.1 213.6L241.4 223.5 276.3 180.5"/><path class="c30" d="M276.3 180.5L276 233.5"/><path class="f" d="M352.5 252.6L387.4 241.9 387.1 170.7 352.2 212.5z"/><path class="c16" d="M387.4 241.9L387.1 170.7"/><path class="c12" d="M387.1 170.7L352.2 212.5"/><path class="c6" d="M185.9 248.1L186.1 244.8 221 218.7"/><path class="c22" d="M220.8 217.4L185.9 248.1"/><path class="c27" d="M276.6 209.8L276.3 180.5"/><path class="c11" d="M276.3 180.5L241.4 223.5"/><path class="c10" d="M186.4 244.4L186.7 244.3 221.6 215.6"/><path class="c6" d="M221.3 219.7L186.4 244.4"/><path class="c27" d="M276.8 185.3L241.9 219"/><path class="c13" d="M463.9 263.5L464.1 172.8 499 227.1"/><path class="c22" d="M186.7 244.3L186.9 249.6 221.8 217.9"/><path class="c10" d="M221.6 215.6L186.7 244.3"/><path class="c13" d="M499 227.1L464.1 172.8"/><path class="c31" d="M297.8 241.1L298 202.4 332.9 161.5"/><path class="c13" d="M332.9 161.5L332.7 225.5"/><path class="f" d="M187.2 244.5L222.1 222 221.8 217.9 186.9 249.6z"/><path class="c10" d="M186.9 249.6L187.2 244.5 222.1 222"/><path class="c22" d="M221.8 217.9L186.9 249.6"/><path class="c10" d="M464.4 213.3L464.7 242.8 499.6 155"/><path class="c29" d="M499.6 155L499.3 233.8"/><path class="f" d="M298.3 234.9L333.2 177.9 332.9 161.5 298 202.4z"/><path class="c5" d="M298 202.4L298.3 234.9 333.2 177.9"/><path class="c26" d="M333.2 177.9L332.9 161.5"/><path class="c31" d="M332.9 161.5L298 202.4"/><path class="c10" d="M187.2 244.5L187.5 244 222.4 215.9M222.1 222L187.2 244.5"/><path class="f" d="M464.9 285.2L499.8 206.7 499.6 155 464.7 242.8z"/><path class="c24" d="M464.7 242.8L464.9 285.2 499.8 206.7"/><path class="c32" d="M499.8 206.7L499.6 155"/><path class="c10" d="M499.6 155L464.7 242.8"/><path class="c20" d="M333.5 191.5L333.2 177.9"/><path class="c5" d="M333.2 177.9L298.3 234.9"/><path class="c6" d="M187.5 244L187.7 246.8 222.6 208.6"/><path class="c27" d="M222.6 208.6L222.4 215.9"/><path class="c10" d="M222.4 215.9L187.5 244"/><path class="f" d="M465.2 256.1L500.1 278.6 499.8 206.7 464.9 285.2z"/><path class="c24" d="M499.8 206.7L464.9 285.2"/><path class="f" d="M188 243.3L222.9 215.4 222.6 208.6 187.7 246.8z"/><path class="c10" d="M187.7 246.8L188 243.3 222.9 215.4"/><path class="c25" d="M222.9 215.4L222.6 208.6"/><path class="c6" d="M222.6 208.6L187.7 246.8"/><path class="c10" d="M188 243.3L188.3 242.5 223.2 215.2"/><path class="c6" d="M188.3 242.5L188.5 245.8 223.4 219"/><path class="c10" d="M223.2 215.2L188.3 242.5"/><path class="f" d="M188.8 243L223.7 215.5 223.4 219 188.5 245.8z"/><path class="c10" d="M188.5 245.8L188.8 243 223.7 215.5"/><path class="c6" d="M223.4 219L188.5 245.8"/><path class="c28" d="M188.8 243L189.1 238.9 224 216.9"/><path class="c10" d="M223.7 215.5L188.8 243M189.1 238.9L189.3 245.1 224.2 211.4"/><path class="c28" d="M224 216.9L189.1 238.9"/><path class="f" d="M189.6 243.5L224.5 209.7 224.2 211.4 189.3 245.1z"/><path class="c10" d="M189.3 245.1L189.6 243.5 224.5 209.7"/><path class="c27" d="M224.5 209.7L224.2 211.4"/><path class="c10" d="M224.2 211.4L189.3 245.1"/><path class="c8" d="M466.8 203.5L467.1 279.4 502 240.2"/><path class="f" d="M189.9 241.9L224.8 213.4 224.5 209.7 189.6 243.5z"/><path class="c28" d="M189.6 243.5L189.9 241.9 224.8 213.4"/><path class="c11" d="M224.8 213.4L224.5 209.7"/><path class="c10" d="M224.5 209.7L189.6 243.5"/><path class="f" d="M411.8 235L446.7 228 446.4 212.1 411.5 182.5z"/><path class="c2" d="M446.4 212.1L411.5 182.5"/><path class="f" d="M467.3 267.8L502.2 247.3 502 240.2 467.1 279.4z"/><path class="c8" d="M502 240.2L467.1 279.4"/><path class="f" d="M190.2 214L225.1 223 224.8 213.4 189.9 241.9z"/><path class="c12" d="M189.9 241.9L190.2 214 225.1 223"/><path class="c14" d="M225.1 223L224.8 213.4"/><path class="c28" d="M224.8 213.4L189.9 241.9"/><path class="f" d="M245.7 216.9L280.6 191.1 280.3 198.8 245.4 211.1z"/><path class="c35" d="M280.3 198.8L245.4 211.1"/><path class="c12" d="M190.2 214L190.4 213.9 225.3 225.4M225.1 223L190.2 214M225.3 225.4L190.4 213.9"/><path class="c32" d="M190.7 214.2L191 216.5 225.9 227.5"/><path class="c12" d="M225.6 221.8L190.7 214.2M191 216.5L191.2 215.4 226.1 228.5"/><path class="c32" d="M225.9 227.5L191 216.5"/><path class="c12" d="M191.2 215.4L191.5 213.8 226.4 223.2M226.1 228.5L191.2 215.4"/><path class="c32" d="M246.8 213.9L247 217.6 281.9 176"/><path class="c27" d="M357.9 212.6L358.1 221.4 393 170.4"/><path class="c1" d="M393 170.4L392.8 209.1"/><path class="c12" d="M191.5 213.8L191.8 215.5 226.7 225.2M226.4 223.2L191.5 213.8"/><path class="f" d="M247.3 214.4L282.2 213.9 281.9 176 247 217.6z"/><path class="c32" d="M281.9 176L247 217.6"/><path class="c4" d="M469 202.2L469.2 208.9 504.1 167.3"/><path class="f" d="M358.4 236.5L393.3 238.6 393 170.4 358.1 221.4z"/><path class="c6" d="M393.3 238.6L393 170.4"/><path class="c27" d="M393 170.4L358.1 221.4M191.8 215.5L192 220.9 226.9 223.5"/><path class="c35" d="M192 220.9L192.3 210.3 227.2 221.2"/><path class="c27" d="M226.9 223.5L192 220.9"/><path class="f" d="M192.6 218.3L227.5 220.8 227.2 221.2 192.3 210.3z"/><path class="c32" d="M192.3 210.3L192.6 218.3 227.5 220.8"/><path class="c35" d="M227.2 221.2L192.3 210.3"/><path class="c32" d="M192.6 218.3L192.8 220.3 227.7 224.4"/><path class="f" d="M193.1 216L228 226.2 227.7 224.4 192.8 220.3z"/><path class="c12" d="M192.8 220.3L193.1 216 228 226.2"/><path class="c32" d="M227.7 224.4L192.8 220.3"/><path class="c23" d="M338.8 215.3L303.9 197.8"/><path class="c12" d="M193.1 216L193.4 217.1 228.3 223M193.4 217.1L193.6 214.1 228.5 217.5M228.3 223L193.4 217.1"/><path class="f" d="M471.1 225.2L506 151.8 505.7 196.7 470.8 166z"/><path class="c11" d="M470.8 166L471.1 225.2 506 151.8"/><path class="c46" d="M506 151.8L505.7 196.7"/><path class="c33" d="M505.7 196.7L470.8 166"/><path class="c12" d="M193.6 214.1L193.9 215.6 228.8 224.7M228.5 217.5L193.6 214.1"/><path class="f" d="M471.4 203.9L506.3 229.2 506 151.8 471.1 225.2z"/><path class="c5" d="M506.3 229.2L506 151.8"/><path class="c11" d="M506 151.8L471.1 225.2"/><path class="c32" d="M360.3 203.8L360.5 218.6 395.4 178.4"/><path class="c26" d="M395.4 178.4L395.2 237.3"/><path class="c12" d="M193.9 215.6L194.2 216.9 229.1 223.3M228.8 224.7L193.9 215.6"/><path class="f" d="M471.6 274L506.5 281.4 506.3 229.2 471.4 203.9z"/><path class="c17" d="M471.4 203.9L471.6 274 506.5 281.4"/><path class="c44" d="M506.5 281.4L506.3 229.2"/><path class="c20" d="M506.3 229.2L471.4 203.9"/><path class="f" d="M360.8 218.7L395.7 229.9 395.4 178.4 360.5 218.6z"/><path class="c5" d="M395.7 229.9L395.4 178.4"/><path class="c32" d="M395.4 178.4L360.5 218.6M194.2 216.9L194.4 218.8 229.3 222.9"/><path class="c25" d="M416.1 190.5L416.4 229.8 451.3 170.8"/><path class="c7" d="M451.3 170.8L451 243.2"/><path class="c12" d="M194.4 218.8L194.7 216 229.6 223.1"/><path class="c32" d="M229.3 222.9L194.4 218.8"/><path class="f" d="M416.6 227.9L451.5 239 451.3 170.8 416.4 229.8z"/><path class="c6" d="M451.5 239L451.3 170.8"/><path class="c25" d="M451.3 170.8L416.4 229.8"/><path class="c12" d="M194.7 216L195 214.7 229.9 220.4"/><path class="c32" d="M195 214.7L195.2 219 230.1 219.4"/><path class="c12" d="M229.9 220.4L195 214.7"/><path class="c32" d="M195.2 219L195.5 221.2 230.4 223M230.1 219.4L195.2 219"/><path class="f" d="M251.1 215.6L286 199.2 285.7 248.9 250.8 211z"/><path class="c4" d="M285.7 248.9L250.8 211"/><path class="f" d="M195.8 219.1L230.7 225.2 230.4 223 195.5 221.2z"/><path class="c32" d="M195.5 221.2L195.8 219.1 230.7 225.2M230.4 223L195.5 221.2M251.1 215.6L251.3 218.8 286.2 172.5"/><path class="c12" d="M195.8 219.1L196 218.3 230.9 221.8"/><path class="c32" d="M230.7 225.2L195.8 219.1M286.2 172.5L251.3 218.8"/><path class="c35" d="M196 218.3L196.3 214.1 231.2 217.9"/><path class="c12" d="M230.9 221.8L196 218.3M196.3 214.1L196.6 216 231.5 221.9"/><path class="c35" d="M231.2 217.9L196.3 214.1"/><path class="c12" d="M196.6 216L196.9 217.9 231.8 218M231.5 221.9L196.6 216"/><path class="c32" d="M197.1 217.9L197.4 220.1 232.3 225.3"/><path class="c4" d="M197.4 220.1L197.7 211.3 232.6 217.6"/><path class="c32" d="M232.3 225.3L197.4 220.1"/><path class="c49" d="M364 236.4L364.3 146.7 399.2 195.9"/><path class="f" d="M197.9 217.7L232.8 223.4 232.6 217.6 197.7 211.3z"/><path class="c12" d="M197.7 211.3L197.9 217.7 232.8 223.4"/><path class="c4" d="M232.6 217.6L197.7 211.3"/><path class="f" d="M364.6 221.1L399.5 196.2 399.2 195.9 364.3 146.7z"/><path class="c49" d="M399.2 195.9L364.3 146.7"/><path class="c12" d="M197.9 217.7L198.2 218.5 233.1 224.6M232.8 223.4L197.9 217.7"/><path class="c32" d="M198.2 218.5L198.5 221.2 233.4 221.3"/><path class="c12" d="M233.1 224.6L198.2 218.5M253.7 221.1L254 218.4 288.9 166.7"/><path class="c13" d="M288.9 166.7L288.6 227.2"/><path class="c12" d="M198.5 221.2L198.7 218.5 233.6 228.9"/><path class="f" d="M254.3 216.8L289.2 234.8 288.9 166.7 254 218.4z"/><path class="c28" d="M289.2 234.8L288.9 166.7"/><path class="c12" d="M288.9 166.7L254 218.4"/><path class="c32" d="M198.7 218.5L199 222 233.9 221"/><path class="c12" d="M233.6 228.9L198.7 218.5"/><path class="c32" d="M199 222L199.3 220.8 234.2 218.8M233.9 221L199 222"/><path class="f" d="M199.5 217.6L234.4 224.2 234.2 218.8 199.3 220.8z"/><path class="c12" d="M199.3 220.8L199.5 217.6 234.4 224.2"/><path class="c32" d="M234.2 218.8L199.3 220.8"/><path class="c26" d="M310.4 202.9L310.6 192.3 345.5 232.6"/><path class="c12" d="M199.5 217.6L199.8 218.5 234.7 218.1M234.4 224.2L199.5 217.6"/><path class="c26" d="M345.5 232.6L310.6 192.3"/><path class="c12" d="M199.8 218.5L200.1 219.2 235 223.4"/><path class="c15" d="M421.7 216.6L422 174.8 456.9 237.8"/><path class="c35" d="M200.1 219.2L200.3 216.2 235.2 216"/><path class="c12" d="M235 223.4L200.1 219.2"/><path class="c15" d="M456.9 237.8L422 174.8"/><path class="c4" d="M200.3 216.2L200.6 213.3 235.5 221"/><path class="f" d="M200.9 217.4L235.8 219.5 235.5 221 200.6 213.3z"/><path class="c35" d="M200.6 213.3L200.9 217.4 235.8 219.5"/><path class="c4" d="M235.5 221L200.6 213.3M291.1 212.1L256.2 211.1"/><path class="c29" d="M367.2 265.6L367.5 172.3 402.4 223.7"/><path class="c12" d="M200.9 217.4L201.1 220.5 236 221.1"/><path class="c35" d="M235.8 219.5L200.9 217.4"/><path class="f" d="M367.8 247.1L402.7 236.6 402.4 223.7 367.5 172.3z"/><path class="c29" d="M402.4 223.7L367.5 172.3"/><path class="c12" d="M201.1 220.5L201.4 219.8 236.3 220.6M236 221.1L201.1 220.5"/><path class="c38" d="M423.1 185.3L423.3 274 458.2 154.5"/><path class="c50" d="M458.2 154.5L458 216.8"/><path class="c35" d="M201.4 219.8L201.7 215.9 236.6 215.6"/><path class="f" d="M423.6 177.3L458.5 208.1 458.2 154.5 423.3 274z"/><path class="c35" d="M458.5 208.1L458.2 154.5"/><path class="c38" d="M458.2 154.5L423.3 274"/><path class="f" d="M201.9 223.3L236.8 219 236.6 215.6 201.7 215.9z"/><path class="c32" d="M201.7 215.9L201.9 223.3 236.8 219"/><path class="c35" d="M236.6 215.6L201.7 215.9"/><path class="f" d="M423.9 205.5L458.8 257 458.5 208.1 423.6 177.3z"/><path class="c15" d="M458.5 208.1L423.6 177.3"/><path class="c27" d="M201.9 223.3L202.2 225.1 237.1 223"/><path class="c12" d="M202.2 225.1L202.5 219.6 237.4 215.7"/><path class="c27" d="M237.1 223L202.2 225.1"/><path class="c28" d="M368.9 218.5L369.1 247.6 404 171"/><path class="c13" d="M404 171L403.8 212.5"/><path class="c12" d="M202.5 219.6L202.8 218.6 237.7 220M237.4 215.7L202.5 219.6"/><path class="f" d="M369.4 267.9L404.3 239.9 404 171 369.1 247.6z"/><path class="c10" d="M404.3 239.9L404 171"/><path class="c28" d="M404 171L369.1 247.6"/><path class="f" d="M203 221.9L237.9 218.7 237.7 220 202.8 218.6z"/><path class="c32" d="M202.8 218.6L203 221.9 237.9 218.7"/><path class="c12" d="M237.7 220L202.8 218.6"/><path class="c27" d="M203 221.9L203.3 227.7 238.2 216.7"/><path class="c32" d="M237.9 218.7L203 221.9"/><path class="f" d="M314.4 238.5L349.3 219.4 349 167.5 314.1 193.6z"/><path class="c26" d="M349 167.5L314.1 193.6"/><path class="c32" d="M203.3 227.7L203.6 224.2 238.5 224.9"/><path class="c27" d="M203.6 224.2L203.8 228.7 238.7 211.3"/><path class="c12" d="M238.7 211.3L238.5 224.9"/><path class="f" d="M204.1 224.7L239 217.6 238.7 211.3 203.8 228.7z"/><path class="c32" d="M203.8 228.7L204.1 224.7 239 217.6"/><path class="c27" d="M239 217.6L238.7 211.3M238.7 211.3L203.8 228.7"/><path class="f" d="M259.6 225.3L294.5 287.6 294.3 246.9 259.4 209.9z"/><path class="c32" d="M259.4 209.9L259.6 225.3 294.5 287.6"/><path class="c31" d="M294.3 246.9L259.4 209.9"/><path class="c32" d="M314.9 233L315.2 224.9 350.1 161.3"/><path class="c33" d="M350.1 161.3L349.8 257.9"/><path class="c12" d="M204.1 224.7L204.4 219.4 239.3 224.6"/><path class="f" d="M315.5 264.2L350.4 228.5 350.1 161.3 315.2 224.9z"/><path class="c14" d="M350.4 228.5L350.1 161.3"/><path class="c32" d="M350.1 161.3L315.2 224.9M204.4 219.4L204.6 224.8 239.5 218.7"/><path class="c12" d="M239.3 224.6L204.4 219.4"/><path class="c43" d="M426.3 190.1L426.5 315.9 461.4 199.2"/><path class="c12" d="M204.6 224.8L204.9 222.5 239.8 218.2"/><path class="c32" d="M239.5 218.7L204.6 224.8"/><path class="f" d="M426.8 229.2L461.7 258.3 461.4 199.2 426.5 315.9z"/><path class="c43" d="M461.4 199.2L426.5 315.9"/><path class="c32" d="M204.9 222.5L205.2 225 240.1 220.1"/><path class="c12" d="M239.8 218.2L204.9 222.5"/><path class="c4" d="M260.4 221.7L260.7 213.2 295.6 164"/><path class="c29" d="M295.6 164L295.3 227.7"/><path class="c32" d="M205.2 225L205.4 224.7 240.3 220.9"/><path class="f" d="M261 218.4L295.9 250.9 295.6 164 260.7 213.2z"/><path class="c16" d="M295.9 250.9L295.6 164"/><path class="c4" d="M295.6 164L260.7 213.2"/><path class="c32" d="M205.4 224.7L205.7 225.8 240.6 217.3M205.7 225.8L206 223.8 240.9 216"/><path class="c12" d="M206 223.8L206.2 220.3 241.1 213.6"/><path class="c32" d="M240.9 216L206 223.8"/><path class="c4" d="M261.5 212.4L261.8 215.2 296.7 216.4"/><path class="c31" d="M296.4 248.7L261.5 212.4"/><path class="f" d="M206.5 227.3L241.4 223.5 241.1 213.6 206.2 220.3z"/><path class="c27" d="M206.2 220.3L206.5 227.3 241.4 223.5"/><path class="c12" d="M241.1 213.6L206.2 220.3"/><path class="c4" d="M296.7 216.4L261.8 215.2"/><path class="f" d="M206.8 222.2L241.7 218.2 241.4 223.5 206.5 227.3z"/><path class="c12" d="M206.5 227.3L206.8 222.2 241.7 218.2"/><path class="c27" d="M241.4 223.5L206.5 227.3"/><path class="f" d="M207 225.5L241.9 219 241.7 218.2 206.8 222.2z"/><path class="c32" d="M206.8 222.2L207 225.5 241.9 219"/><path class="c12" d="M241.7 218.2L206.8 222.2"/><path class="c32" d="M207 225.5L207.3 225.3 242.2 219.5"/><path class="c8" d="M429 278.6L429.2 284.9 464.1 172.8"/><path class="c13" d="M464.1 172.8L463.9 263.5"/><path class="c32" d="M207.3 225.3L207.6 225 242.5 220.9M242.2 219.5L207.3 225.3"/><path class="c12" d="M464.4 213.3L464.1 172.8"/><path class="c8" d="M464.1 172.8L429.2 284.9"/><path class="c32" d="M207.6 225L207.8 224.4 242.7 220.8M242.5 220.9L207.6 225"/><path class="f" d="M263.4 219.6L298.3 234.9 298 202.4 263.1 216.8z"/><path class="c4" d="M298 202.4L263.1 216.8"/><path class="c46" d="M374.2 243L374.5 167.4 409.4 297.1"/><path class="c12" d="M207.8 224.4L208.1 224.2 243 221.5"/><path class="c46" d="M409.4 297.1L374.5 167.4"/><path class="c32" d="M208.1 224.2L208.4 224.7 243.3 217.8"/><path class="f" d="M430.3 185.9L465.2 256.1 464.9 285.2 430 248.4z"/><path class="c9" d="M465.2 256.1L464.9 285.2"/><path class="c28" d="M464.9 285.2L430 248.4"/><path class="c12" d="M208.4 224.7L208.7 223.3 243.6 220.4"/><path class="f" d="M208.9 226.9L243.8 215 243.6 220.4 208.7 223.3z"/><path class="c32" d="M208.7 223.3L208.9 226.9 243.8 215"/><path class="c12" d="M243.6 220.4L208.7 223.3"/><path class="c27" d="M208.9 226.9L209.2 229.2 244.1 216.3"/><path class="c32" d="M243.8 215L208.9 226.9M209.2 229.2L209.5 226.9 244.4 217.4"/><path class="c35" d="M299.6 202.4L264.7 218.5"/><path class="c27" d="M209.5 226.9L209.7 230.3 244.6 213.9"/><path class="c32" d="M244.4 217.4L209.5 226.9"/><path class="c27" d="M209.7 230.3L210 228.4 244.9 215.2M244.6 213.9L209.7 230.3"/><path class="c22" d="M376.4 210.5L376.6 260.5 411.5 182.5"/><path class="c2" d="M411.5 182.5L411.3 230.8"/><path class="c32" d="M210 228.4L210.3 228.5 245.2 222.1M431.9 253.9L432.2 228 467.1 279.4"/><path class="f" d="M376.9 229.1L411.8 235 411.5 182.5 376.6 260.5z"/><path class="c0" d="M411.8 235L411.5 182.5"/><path class="c22" d="M411.5 182.5L376.6 260.5"/><path class="c32" d="M210.3 228.5L210.5 225.4 245.4 211.1"/><path class="c35" d="M245.4 211.1L245.2 222.1"/><path class="c32" d="M245.2 222.1L210.3 228.5"/><path class="f" d="M432.4 241L467.3 267.8 467.1 279.4 432.2 228z"/><path class="c38" d="M467.3 267.8L467.1 279.4"/><path class="c32" d="M467.1 279.4L432.2 228"/><path class="f" d="M210.8 229.2L245.7 216.9 245.4 211.1 210.5 225.4z"/><path class="c27" d="M210.5 225.4L210.8 229.2 245.7 216.9"/><path class="c32" d="M245.7 216.9L245.4 211.1M245.4 211.1L210.5 225.4"/><path class="f" d="M266.3 218.9L301.2 227.4 301 204.3 266.1 215.6z"/><path class="c4" d="M301 204.3L266.1 215.6"/><path class="c32" d="M210.8 229.2L211.1 228.4 246 219.5"/><path class="c27" d="M211.1 228.4L211.3 229.5 246.2 214.7"/><path class="c32" d="M211.3 229.5L211.6 228.8 246.5 216.6"/><path class="c27" d="M246.2 214.7L211.3 229.5"/><path class="c24" d="M433.2 283.7L433.5 295.3 468.4 247.3"/><path class="c32" d="M211.6 228.8L211.9 227.8 246.8 213.9M246.5 216.6L211.6 228.8"/><path class="f" d="M433.8 232.1L468.7 224.6 468.4 247.3 433.5 295.3z"/><path class="c24" d="M468.4 247.3L433.5 295.3"/><path class="c50" d="M378.2 283L378.5 167.1 413.4 207.5"/><path class="c32" d="M211.9 227.8L212.1 226.3 247 217.6M246.8 213.9L211.9 227.8"/><path class="f" d="M267.7 214L302.6 238.6 302.3 212.8 267.4 211.4z"/><path class="c31" d="M267.4 211.4L267.7 214 302.6 238.6"/><path class="c20" d="M302.3 212.8L267.4 211.4"/><path class="f" d="M378.8 257.9L413.7 225.5 413.4 207.5 378.5 167.1z"/><path class="c50" d="M413.4 207.5L378.5 167.1"/><path class="c35" d="M212.1 226.3L212.4 221.6 247.3 214.4"/><path class="c32" d="M247 217.6L212.1 226.3"/><path class="f" d="M212.7 228L247.6 222.6 247.3 214.4 212.4 221.6z"/><path class="c32" d="M212.4 221.6L212.7 228 247.6 222.6"/><path class="c35" d="M247.3 214.4L212.4 221.6"/><path class="c11" d="M212.7 228L212.9 233.3 247.8 219.5"/><path class="f" d="M213.2 222.9L248.1 220.1 247.8 219.5 212.9 233.3z"/><path class="c35" d="M212.9 233.3L213.2 222.9 248.1 220.1"/><path class="c11" d="M247.8 219.5L212.9 233.3"/><path class="c12" d="M213.2 222.9L213.5 223.8 248.4 216.9"/><path class="c35" d="M248.1 220.1L213.2 222.9"/><path class="f" d="M213.7 231.7L248.6 220.2 248.4 216.9 213.5 223.8z"/><path class="c27" d="M213.5 223.8L213.7 231.7 248.6 220.2"/><path class="c12" d="M248.4 216.9L213.5 223.8"/><path class="c35" d="M303.9 197.8L269 220.5"/><path class="c32" d="M213.7 231.7L214 229.2 248.9 219.8"/><path class="c27" d="M248.6 220.2L213.7 231.7"/><path class="c12" d="M435.7 240.6L435.9 226.6 470.8 166"/><path class="c33" d="M470.8 166L470.6 214.7"/><path class="c31" d="M304.2 246.8L269.3 213.9"/><path class="c32" d="M214 229.2L214.3 228.3 249.2 221.3"/><path class="f" d="M436.2 155.3L471.1 225.2 470.8 166 435.9 226.6z"/><path class="c49" d="M435.9 226.6L436.2 155.3 471.1 225.2"/><path class="c11" d="M471.1 225.2L470.8 166"/><path class="c12" d="M470.8 166L435.9 226.6"/><path class="f" d="M214.5 232.6L249.4 221.1 249.2 221.3 214.3 228.3z"/><path class="c27" d="M214.3 228.3L214.5 232.6 249.4 221.1"/><path class="c32" d="M249.2 221.3L214.3 228.3"/><path class="f" d="M436.5 256.4L471.4 203.9 471.1 225.2 436.2 155.3z"/><path class="c10" d="M436.2 155.3L436.5 256.4 471.4 203.9"/><path class="c20" d="M471.4 203.9L471.1 225.2"/><path class="c49" d="M471.1 225.2L436.2 155.3"/><path class="c27" d="M214.5 232.6L214.8 233.5 249.7 221"/><path class="f" d="M436.7 287.9L471.6 274 471.4 203.9 436.5 256.4z"/><path class="c18" d="M436.5 256.4L436.7 287.9 471.6 274"/><path class="c17" d="M471.6 274L471.4 203.9"/><path class="c10" d="M471.4 203.9L436.5 256.4"/><path class="f" d="M381.5 267.8L416.4 229.8 416.1 190.5 381.2 203.3z"/><path class="c30" d="M416.1 190.5L381.2 203.3"/><path class="c32" d="M214.8 233.5L215.1 230.4 250 219.2"/><path class="c27" d="M249.7 221L214.8 233.5"/><path class="c32" d="M215.1 230.4L215.4 230.8 250.3 218.9M250 219.2L215.1 230.4"/><path class="c27" d="M215.4 230.8L215.6 233.4 250.5 216.5"/><path class="c32" d="M250.3 218.9L215.4 230.8"/><path class="c27" d="M215.6 233.4L215.9 231.9 250.8 211"/><path class="c4" d="M250.8 211L250.5 216.5"/><path class="f" d="M216.2 238.2L251.1 215.6 250.8 211 215.9 231.9z"/><path class="c25" d="M215.9 231.9L216.2 238.2 251.1 215.6"/><path class="c12" d="M251.1 215.6L250.8 211"/><path class="c27" d="M250.8 211L215.9 231.9"/><path class="f" d="M216.4 229.1L251.3 218.8 251.1 215.6 216.2 238.2z"/><path class="c32" d="M216.2 238.2L216.4 229.1 251.3 218.8"/><path class="c25" d="M251.1 215.6L216.2 238.2"/><path class="c15" d="M327.2 221.6L327.5 183 362.4 225.4"/><path class="f" d="M216.7 233.2L251.6 217.7 251.3 218.8 216.4 229.1z"/><path class="c27" d="M216.4 229.1L216.7 233.2 251.6 217.7"/><path class="c32" d="M251.3 218.8L216.4 229.1"/><path class="f" d="M327.8 252.8L362.7 230.8 362.4 225.4 327.5 183z"/><path class="c15" d="M362.4 225.4L327.5 183"/><path class="c27" d="M216.7 233.2L217 232.3 251.9 220.8"/><path class="f" d="M272.5 219.5L307.4 222.4 307.1 231.5 272.2 213.7z"/><path class="c4" d="M272.2 213.7L272.5 219.5 307.4 222.4"/><path class="c20" d="M307.1 231.5L272.2 213.7"/><path class="f" d="M217.2 232.9L252.1 219.8 251.9 220.8 217 232.3z"/><path class="c27" d="M217 232.3L217.2 232.9 252.1 219.8M251.9 220.8L217 232.3M217.2 232.9L217.5 234.1 252.4 216.4M252.1 219.8L217.2 232.9"/><path class="f" d="M217.8 234.7L252.7 215.8 252.4 216.4 217.5 234.1z"/><path class="c27" d="M217.5 234.1L217.8 234.7 252.7 215.8M252.4 216.4L217.5 234.1"/><path class="c11" d="M217.8 234.7L218 237.3 252.9 219.4"/><path class="c34" d="M328.9 190.5L329.1 317.6 364 236.4"/><path class="c25" d="M218 237.3L218.3 241.1 253.2 219.6"/><path class="f" d="M329.4 244L364.3 146.7 364 236.4 329.1 317.6z"/><path class="c14" d="M329.1 317.6L329.4 244 364.3 146.7"/><path class="c49" d="M364.3 146.7L364 236.4"/><path class="c34" d="M364 236.4L329.1 317.6"/><path class="c32" d="M218.3 241.1L218.6 230.3 253.5 219.2"/><path class="c25" d="M253.2 219.6L218.3 241.1"/><path class="f" d="M329.7 249.1L364.6 221.1 364.3 146.7 329.4 244z"/><path class="c32" d="M364.6 221.1L364.3 146.7"/><path class="c14" d="M364.3 146.7L329.4 244"/><path class="f" d="M218.8 239.2L253.7 221.1 253.5 219.2 218.6 230.3z"/><path class="c11" d="M218.6 230.3L218.8 239.2 253.7 221.1"/><path class="c32" d="M253.5 219.2L218.6 230.3"/><path class="c27" d="M218.8 239.2L219.1 235.3 254 218.4"/><path class="c11" d="M253.7 221.1L218.8 239.2M219.1 235.3L219.4 237.8 254.3 216.8M219.4 237.8L219.6 237.4 254.5 221M254.3 216.8L219.4 237.8"/><path class="c32" d="M219.6 237.4L219.9 232.8 254.8 214"/><path class="c11" d="M254.5 221L219.6 237.4"/><path class="c20" d="M310.1 194.4L275.2 215.7"/><path class="c13" d="M330.7 279.3L331 188.1 365.9 293.2"/><path class="f" d="M220.2 233.8L255.1 221.4 254.8 214 219.9 232.8z"/><path class="c27" d="M219.9 232.8L220.2 233.8 255.1 221.4"/><path class="c32" d="M254.8 214L219.9 232.8"/><path class="c26" d="M310.6 192.3L310.4 202.9"/><path class="c13" d="M365.9 293.2L331 188.1"/><path class="c11" d="M220.2 233.8L220.4 239.7 255.3 223.3"/><path class="f" d="M276 215.4L310.9 221.7 310.6 192.3 275.7 223z"/><path class="c32" d="M310.9 221.7L310.6 192.3"/><path class="c4" d="M310.6 192.3L275.7 223"/><path class="c12" d="M386.8 217.2L387.1 229.3 422 174.8"/><path class="c15" d="M422 174.8L421.7 216.6"/><path class="c32" d="M220.4 239.7L220.7 233.4 255.6 217.2"/><path class="c11" d="M255.3 223.3L220.4 239.7"/><path class="f" d="M387.4 233.1L422.3 205.5 422 174.8 387.1 229.3z"/><path class="c20" d="M422.3 205.5L422 174.8"/><path class="c12" d="M422 174.8L387.1 229.3"/><path class="c32" d="M220.7 233.4L221 231.7 255.9 220"/><path class="c23" d="M276.3 218.7L276.5 212.8 311.4 263.4"/><path class="f" d="M221.3 236.1L256.2 211.1 255.9 220 221 231.7z"/><path class="c27" d="M221 231.7L221.3 236.1 256.2 211.1"/><path class="c32" d="M255.9 220L221 231.7"/><path class="c12" d="M276.5 212.8L276.8 228 311.7 223.9"/><path class="c23" d="M311.4 263.4L276.5 212.8"/><path class="f" d="M221.5 239.7L256.4 217.4 256.2 211.1 221.3 236.1z"/><path class="c11" d="M221.3 236.1L221.5 239.7 256.4 217.4"/><path class="c35" d="M256.4 217.4L256.2 211.1"/><path class="c27" d="M256.2 211.1L221.3 236.1"/><path class="c31" d="M332.3 194.2L332.6 219.7 367.5 172.3"/><path class="c29" d="M367.5 172.3L367.2 265.6"/><path class="c1" d="M367.2 265.6L332.3 194.2"/><path class="c27" d="M221.5 239.7L221.8 237 256.7 213.4"/><path class="c11" d="M256.4 217.4L221.5 239.7"/><path class="f" d="M332.9 246.2L367.8 247.1 367.5 172.3 332.6 219.7z"/><path class="c28" d="M367.8 247.1L367.5 172.3"/><path class="c31" d="M367.5 172.3L332.6 219.7"/><path class="f" d="M222.1 245.5L257 216.3 256.7 213.4 221.8 237z"/><path class="c14" d="M221.8 237L222.1 245.5 257 216.3"/><path class="c27" d="M256.7 213.4L221.8 237"/><path class="c32" d="M388.4 266.4L388.7 231.6 423.6 177.3"/><path class="c15" d="M423.6 177.3L423.3 274"/><path class="c25" d="M222.1 245.5L222.3 241.3 257.2 215.7"/><path class="c14" d="M257 216.3L222.1 245.5"/><path class="f" d="M389 236.3L423.9 205.5 423.6 177.3 388.7 231.6z"/><path class="c20" d="M423.9 205.5L423.6 177.3"/><path class="c32" d="M423.6 177.3L388.7 231.6"/><path class="c25" d="M222.3 241.3L222.6 243.9 257.5 219M257.2 215.7L222.3 241.3M222.6 243.9L222.9 242.9 257.8 221.3M257.5 219L222.6 243.9"/><path class="c11" d="M222.9 242.9L223.1 241.2 258 216.8"/><path class="c25" d="M257.8 221.3L222.9 242.9"/><path class="c27" d="M223.1 241.2L223.4 237.8 258.3 217.8"/><path class="c11" d="M258 216.8L223.1 241.2"/><path class="c27" d="M223.4 237.8L223.7 238.2 258.6 216.7M258.3 217.8L223.4 237.8"/><path class="c26" d="M314.1 193.6L313.8 200.8"/><path class="c25" d="M223.7 238.2L223.9 242.8 258.8 220.1"/><path class="c27" d="M258.6 216.7L223.7 238.2"/><path class="f" d="M279.5 228.4L314.4 238.5 314.1 193.6 279.2 214.7z"/><path class="c14" d="M314.4 238.5L314.1 193.6"/><path class="c23" d="M314.1 193.6L279.2 214.7"/><path class="c25" d="M223.9 242.8L224.2 243.4 259.1 212.8"/><path class="c27" d="M224.2 243.4L224.5 238.4 259.4 209.9"/><path class="c31" d="M259.4 209.9L259.1 212.8"/><path class="c25" d="M259.1 212.8L224.2 243.4"/><path class="f" d="M280 220.4L314.9 233 314.6 204.7 279.7 217.9z"/><path class="c31" d="M279.7 217.9L280 220.4 314.9 233"/><path class="c20" d="M314.6 204.7L279.7 217.9"/><path class="f" d="M224.7 242.6L259.6 225.3 259.4 209.9 224.5 238.4z"/><path class="c25" d="M224.5 238.4L224.7 242.6 259.6 225.3"/><path class="c32" d="M259.6 225.3L259.4 209.9"/><path class="c27" d="M259.4 209.9L224.5 238.4"/><path class="c31" d="M314.9 233L280 220.4"/><path class="c25" d="M335.8 250.1L336.1 245.5 371 180.7"/><path class="c5" d="M391.4 218.8L391.6 253.3 426.5 315.9"/><path class="f" d="M336.4 290.3L371.3 238 371 180.7 336.1 245.5z"/><path class="c25" d="M371 180.7L336.1 245.5"/><path class="f" d="M391.9 180.5L426.8 229.2 426.5 315.9 391.6 253.3z"/><path class="c33" d="M391.6 253.3L391.9 180.5 426.8 229.2"/><path class="c27" d="M426.8 229.2L426.5 315.9"/><path class="c5" d="M426.5 315.9L391.6 253.3"/><path class="c11" d="M225.3 245.3L225.5 239.2 260.4 221.7"/><path class="c25" d="M260.2 213.1L225.3 245.3"/><path class="f" d="M392.2 202.2L427.1 237 426.8 229.2 391.9 180.5z"/><path class="c2" d="M391.9 180.5L392.2 202.2 427.1 237"/><path class="c33" d="M426.8 229.2L391.9 180.5"/><path class="c27" d="M225.5 239.2L225.8 235.9 260.7 213.2"/><path class="c31" d="M316 229.3L281.1 222"/><path class="f" d="M392.4 257.4L427.3 240.3 427.1 237 392.2 202.2z"/><path class="c28" d="M392.2 202.2L392.4 257.4 427.3 240.3"/><path class="c2" d="M427.1 237L392.2 202.2"/><path class="f" d="M226.1 242.8L261 218.4 260.7 213.2 225.8 235.9z"/><path class="c25" d="M225.8 235.9L226.1 242.8 261 218.4"/><path class="c27" d="M260.7 213.2L225.8 235.9"/><path class="c14" d="M226.1 242.8L226.3 247.3 261.2 215"/><path class="c25" d="M261 218.4L226.1 242.8M226.3 247.3L226.6 244.7 261.5 212.4"/><path class="c31" d="M261.5 212.4L261.2 215"/><path class="c14" d="M261.2 215L226.3 247.3"/><path class="f" d="M226.9 246.4L261.8 215.2 261.5 212.4 226.6 244.7z"/><path class="c14" d="M226.6 244.7L226.9 246.4 261.8 215.2"/><path class="c4" d="M261.8 215.2L261.5 212.4"/><path class="c25" d="M261.5 212.4L226.6 244.7"/><path class="c31" d="M317.1 235L282.2 222"/><path class="f" d="M338 260.5L372.9 249.9 372.6 201.6 337.7 188.9z"/><path class="c15" d="M372.6 201.6L337.7 188.9"/><path class="f" d="M227.2 245.6L262.1 219.9 261.8 215.2 226.9 246.4z"/><path class="c25" d="M226.9 246.4L227.2 245.6 262.1 219.9"/><path class="c35" d="M262.1 219.9L261.8 215.2"/><path class="c14" d="M261.8 215.2L226.9 246.4"/><path class="c11" d="M227.2 245.6L227.4 242.4 262.3 219.6"/><path class="c25" d="M262.1 219.9L227.2 245.6"/><path class="f" d="M283 222.7L317.9 266.5 317.6 194.4 282.7 222.4z"/><path class="c31" d="M317.6 194.4L282.7 222.4"/><path class="c25" d="M227.4 242.4L227.7 246.5 262.6 221.1"/><path class="c11" d="M262.3 219.6L227.4 242.4"/><path class="f" d="M228.2 241.6L263.1 216.8 262.9 215.7 228 251.8z"/><path class="c11" d="M228 251.8L228.2 241.6 263.1 216.8"/><path class="c0" d="M262.9 215.7L228 251.8"/><path class="f" d="M228.5 247.2L263.4 219.6 263.1 216.8 228.2 241.6z"/><path class="c14" d="M228.2 241.6L228.5 247.2 263.4 219.6"/><path class="c11" d="M263.1 216.8L228.2 241.6"/><path class="c18" d="M339.3 222L339.6 291 374.5 167.4"/><path class="c46" d="M374.5 167.4L374.2 243"/><path class="c25" d="M228.5 247.2L228.8 244.9 263.7 217.4"/><path class="c14" d="M263.4 219.6L228.5 247.2"/><path class="c4" d="M318.9 201.5L284 224"/><path class="f" d="M339.9 263.4L374.8 195.6 374.5 167.4 339.6 291z"/><path class="c26" d="M374.8 195.6L374.5 167.4"/><path class="c18" d="M374.5 167.4L339.6 291"/><path class="c14" d="M228.8 244.9L229 248.2 263.9 221.1"/><path class="c25" d="M263.7 217.4L228.8 244.9M229 248.2L229.3 246 264.2 218.5"/><path class="c14" d="M229.3 246L229.6 250.7 264.5 222.1"/><path class="c25" d="M264.2 218.5L229.3 246"/><path class="c20" d="M284.8 226.4L285.1 220.8 320 262.6"/><path class="c14" d="M229.6 250.7L229.8 247.8 264.7 218.5M264.5 222.1L229.6 250.7"/><path class="c20" d="M320 262.6L285.1 220.8"/><path class="c25" d="M229.8 247.8L230.1 247.8 265 219.1"/><path class="c14" d="M264.7 218.5L229.8 247.8"/><path class="c4" d="M320.3 197.1L285.4 226.7"/><path class="c11" d="M230.1 247.8L230.4 243.6 265.3 215.8"/><path class="c25" d="M265 219.1L230.1 247.8"/><path class="f" d="M230.6 247.2L265.5 216.8 265.3 215.8 230.4 243.6z"/><path class="c25" d="M230.4 243.6L230.6 247.2 265.5 216.8"/><path class="c11" d="M265.3 215.8L230.4 243.6"/><path class="f" d="M230.9 249.1L265.8 216.9 265.5 216.8 230.6 247.2z"/><path class="c14" d="M230.6 247.2L230.9 249.1 265.8 216.9"/><path class="c25" d="M265.5 216.8L230.6 247.2"/><path class="c14" d="M230.9 249.1L231.2 250 266.1 215.6M265.8 216.9L230.9 249.1"/><path class="c25" d="M231.2 250L231.4 248.5 266.3 218.9"/><path class="c14" d="M266.1 215.6L231.2 250"/><path class="f" d="M287 225.8L321.9 293.4 321.6 204.2 286.7 221.1z"/><path class="c4" d="M286.7 221.1L287 225.8 321.9 293.4"/><path class="c20" d="M321.6 204.2L286.7 221.1"/><path class="c25" d="M266.3 218.9L231.4 248.5"/><path class="f" d="M398.3 248.2L433.2 283.7 433 188.4 398.1 203.4z"/><path class="c2" d="M433 188.4L398.1 203.4"/><path class="c25" d="M231.7 253.8L232 248.2 266.9 220"/><path class="c0" d="M266.6 215.9L231.7 253.8"/><path class="c35" d="M287.3 226.6L287.5 231.9 322.4 226.2"/><path class="c4" d="M322.2 261.5L287.3 226.6"/><path class="c22" d="M398.3 248.2L398.6 269.4 433.5 295.3"/><path class="c0" d="M232 248.2L232.2 253.1 267.1 216.8"/><path class="c25" d="M266.9 220L232 248.2"/><path class="f" d="M398.9 251.7L433.8 232.1 433.5 295.3 398.6 269.4z"/><path class="c27" d="M433.8 232.1L433.5 295.3"/><path class="c22" d="M433.5 295.3L398.6 269.4"/><path class="c25" d="M232.2 253.1L232.5 246.3 267.4 211.4"/><path class="c20" d="M267.4 211.4L267.1 216.8"/><path class="c0" d="M267.1 216.8L232.2 253.1"/><path class="c10" d="M343.3 260.2L343.6 265.8 378.5 167.1"/><path class="c50" d="M378.5 167.1L378.2 283"/><path class="f" d="M232.8 253.7L267.7 214 267.4 211.4 232.5 246.3z"/><path class="c0" d="M232.5 246.3L232.8 253.7 267.7 214"/><path class="c31" d="M267.7 214L267.4 211.4"/><path class="c25" d="M267.4 211.4L232.5 246.3"/><path class="f" d="M343.9 252.6L378.8 257.9 378.5 167.1 343.6 265.8z"/><path class="c6" d="M378.8 257.9L378.5 167.1"/><path class="c10" d="M378.5 167.1L343.6 265.8"/><path class="c5" d="M232.8 253.7L233.1 256.9 267.9 221.7"/><path class="c0" d="M267.7 214L232.8 253.7"/><path class="c35" d="M323.2 237.4L288.3 229.3"/><path class="c42" d="M343.9 252.6L344.1 318.5 379 278.2"/><path class="c0" d="M233.1 256.9L233.3 254.5 268.2 221.5"/><path class="c5" d="M267.9 221.7L233.1 256.9"/><path class="f" d="M344.4 266.5L379.3 259.5 379 278.2 344.1 318.5z"/><path class="c42" d="M379 278.2L344.1 318.5M399.7 269.8L400 317.9 434.9 236.2"/><path class="c5" d="M233.3 254.5L233.6 256.8 268.5 220.9"/><path class="c0" d="M268.2 221.5L233.3 254.5"/><path class="c12" d="M400 317.9L400.2 234.6 435.1 173"/><path class="c5" d="M233.6 256.8L233.9 256.7 268.8 217.6M268.5 220.9L233.6 256.8"/><path class="f" d="M400.5 278.5L435.4 235.2 435.1 173 400.2 234.6z"/><path class="c12" d="M435.1 173L400.2 234.6"/><path class="c14" d="M233.9 256.7L234.1 252.1 269 220.5"/><path class="c5" d="M268.8 217.6L233.9 256.7"/><path class="c0" d="M234.1 252.1L234.4 253.6 269.3 213.9"/><path class="c31" d="M269.3 213.9L269 220.5"/><path class="c14" d="M269 220.5L234.1 252.1"/><path class="f" d="M234.7 255.7L269.6 218.1 269.3 213.9 234.4 253.6z"/><path class="c0" d="M234.4 253.6L234.7 255.7 269.6 218.1"/><path class="c4" d="M269.6 218.1L269.3 213.9"/><path class="c0" d="M269.3 213.9L234.4 253.6"/><path class="f" d="M401.3 255L436.2 155.3 435.9 226.6 401 190.5z"/><path class="c0" d="M401 190.5L401.3 255 436.2 155.3"/><path class="c49" d="M436.2 155.3L435.9 226.6"/><path class="c15" d="M435.9 226.6L401 190.5"/><path class="c0" d="M234.7 255.7L234.9 255.9 269.8 222.3"/><path class="f" d="M401.6 219.2L436.5 256.4 436.2 155.3 401.3 255z"/><path class="c10" d="M436.5 256.4L436.2 155.3"/><path class="c0" d="M436.2 155.3L401.3 255"/><path class="c14" d="M234.9 255.9L235.2 253.5 270.1 219.3"/><path class="c0" d="M269.8 222.3L234.9 255.9"/><path class="f" d="M401.8 317L436.7 287.9 436.5 256.4 401.6 219.2z"/><path class="c19" d="M401.6 219.2L401.8 317 436.7 287.9"/><path class="c18" d="M436.7 287.9L436.5 256.4"/><path class="c23" d="M436.5 256.4L401.6 219.2"/><path class="f" d="M235.5 261L270.4 222.1 270.1 219.3 235.2 253.5z"/><path class="c28" d="M235.2 253.5L235.5 261 270.4 222.1"/><path class="c14" d="M270.1 219.3L235.2 253.5"/><path class="c23" d="M381.2 203.3L346.3 218.5"/><path class="c0" d="M235.5 261L235.7 255.7 270.6 216.1"/><path class="c28" d="M270.4 222.1L235.5 261"/><path class="c5" d="M235.7 255.7L236 260.6 270.9 219.7"/><path class="c0" d="M270.6 216.1L235.7 255.7"/><path class="f" d="M236.3 256.9L271.2 221 270.9 219.7 236 260.6z"/><path class="c0" d="M236 260.6L236.3 256.9 271.2 221"/><path class="c5" d="M270.9 219.7L236 260.6"/><path class="c0" d="M236.3 256.9L236.5 256.4 271.4 215.4M271.2 221L236.3 256.9M236.5 256.4L236.8 256.5 271.7 219.1M236.8 256.5L237.1 255.6 272 215.4M271.7 219.1L236.8 256.5"/><path class="c31" d="M292.3 229.3L292.6 227.4 327.5 183"/><path class="c15" d="M327.5 183L327.2 221.6"/><path class="c5" d="M237.1 255.6L237.3 258.1 272.2 213.7"/><path class="c20" d="M272.2 213.7L272 215.4"/><path class="c0" d="M272 215.4L237.1 255.6"/><path class="f" d="M292.9 229.1L327.8 252.8 327.5 183 292.6 227.4z"/><path class="c28" d="M327.8 252.8L327.5 183"/><path class="c31" d="M327.5 183L292.6 227.4"/><path class="f" d="M237.6 259.8L272.5 219.5 272.2 213.7 237.3 258.1z"/><path class="c5" d="M237.3 258.1L237.6 259.8 272.5 219.5"/><path class="c4" d="M272.5 219.5L272.2 213.7"/><path class="c5" d="M272.2 213.7L237.3 258.1"/><path class="c20" d="M292.9 229.1L293.2 223.6 328.1 277.7"/><path class="c0" d="M237.6 259.8L237.9 255.4 272.8 219.8"/><path class="c5" d="M272.5 219.5L237.6 259.8"/><path class="c4" d="M293.2 223.6L293.4 229 328.3 222.8"/><path class="c20" d="M328.1 277.7L293.2 223.6"/><path class="c14" d="M237.9 255.4L238.1 253.3 273 222.2"/><path class="c0" d="M272.8 219.8L237.9 255.4M238.1 253.3L238.4 258 273.3 219.2"/><path class="c14" d="M273 222.2L238.1 253.3"/><path class="c35" d="M293.7 236.4L294 232.9 328.9 190.5"/><path class="c14" d="M238.4 258L238.7 253.6 273.6 224.4"/><path class="c0" d="M273.3 219.2L238.4 258"/><path class="f" d="M294.2 232.3L329.1 317.6 328.9 190.5 294 232.9z"/><path class="c35" d="M294 232.9L294.2 232.3 329.1 317.6M328.9 190.5L294 232.9"/><path class="f" d="M238.9 260.6L273.8 225.9 273.6 224.4 238.7 253.6z"/><path class="c5" d="M238.7 253.6L238.9 260.6 273.8 225.9"/><path class="c14" d="M273.6 224.4L238.7 253.6"/><path class="f" d="M294.5 227.4L329.4 244 329.1 317.6 294.2 232.3z"/><path class="c14" d="M329.4 244L329.1 317.6"/><path class="c35" d="M329.1 317.6L294.2 232.3"/><path class="c0" d="M238.9 260.6L239.2 258.5 274.1 220.3"/><path class="c5" d="M273.8 225.9L238.9 260.6"/><path class="c31" d="M329.4 244L294.5 227.4"/><path class="f" d="M350.3 190.4L385.2 210.1 384.9 262.9 350 301.8z"/><path class="c8" d="M384.9 262.9L350 301.8"/><path class="c0" d="M239.2 258.5L239.5 258.8 274.4 223.3M274.1 220.3L239.2 258.5"/><path class="c31" d="M329.7 249.1L294.8 228.7"/><path class="c29" d="M385.2 210.1L350.3 190.4"/><path class="c28" d="M239.5 258.8L239.8 262.7 274.7 220.1"/><path class="c0" d="M274.4 223.3L239.5 258.8"/><path class="c5" d="M239.8 262.7L240 259.6 274.9 215.7"/><path class="c28" d="M274.7 220.1L239.8 262.7"/><path class="c5" d="M274.9 215.7L240 259.6"/><path class="c4" d="M295.6 232.4L295.8 229.3 330.7 279.3"/><path class="c49" d="M351.1 280.6L351.4 167.7 386.3 221.8"/><path class="c5" d="M240.3 262.6L240.6 259.7 275.5 216.2M275.2 215.7L240.3 262.6"/><path class="c35" d="M295.8 229.3L296.1 233.3 331 188.1"/><path class="c13" d="M331 188.1L330.7 279.3"/><path class="c4" d="M330.7 279.3L295.8 229.3"/><path class="f" d="M351.6 284.1L386.5 264.9 386.3 221.8 351.4 167.7z"/><path class="c49" d="M386.3 221.8L351.4 167.7"/><path class="f" d="M240.8 265.3L275.7 223 275.5 216.2 240.6 259.7z"/><path class="c28" d="M240.6 259.7L240.8 265.3 275.7 223"/><path class="c5" d="M275.5 216.2L240.6 259.7"/><path class="f" d="M296.4 236.2L331.3 243.3 331 188.1 296.1 233.3z"/><path class="c25" d="M331.3 243.3L331 188.1"/><path class="c35" d="M331 188.1L296.1 233.3"/><path class="c28" d="M240.8 265.3L241.1 263.1 276 215.4M275.7 223L240.8 265.3"/><path class="f" d="M241.4 264L276.3 218.7 276 215.4 241.1 263.1z"/><path class="c28" d="M241.1 263.1L241.4 264 276.3 218.7M276 215.4L241.1 263.1M241.4 264L241.6 264.6 276.5 212.8"/><path class="c23" d="M276.5 212.8L276.3 218.7"/><path class="f" d="M241.9 265.1L276.8 228 276.5 212.8 241.6 264.6z"/><path class="c28" d="M241.6 264.6L241.9 265.1 276.8 228"/><path class="c12" d="M276.8 228L276.5 212.8"/><path class="c28" d="M276.5 212.8L241.6 264.6"/><path class="c35" d="M297.2 232.9L297.4 236.6 332.3 194.2"/><path class="c5" d="M241.9 265.1L242.2 261.4 277.1 223.1"/><path class="c28" d="M276.8 228L241.9 265.1"/><path class="f" d="M297.7 232.1L332.6 219.7 332.3 194.2 297.4 236.6z"/><path class="c31" d="M332.6 219.7L332.3 194.2"/><path class="c35" d="M332.3 194.2L297.4 236.6"/><path class="c5" d="M242.2 261.4L242.4 263.2 277.3 219.4M277.1 223.1L242.2 261.4"/><path class="f" d="M298 240.2L332.9 246.2 332.6 219.7 297.7 232.1z"/><path class="c4" d="M332.6 219.7L297.7 232.1"/><path class="c28" d="M242.4 263.2L242.7 265.3 277.6 224.6"/><path class="c5" d="M277.3 219.4L242.4 263.2"/><path class="c35" d="M298 240.2L298.2 234.5 333.1 281.4"/><path class="c5" d="M243 265.1L243.2 262.4 278.1 218.8"/><path class="c28" d="M277.9 221L243 265.1M243.2 262.4L243.5 265.9 278.4 218.2"/><path class="c5" d="M278.1 218.8L243.2 262.4M243.5 265.9L243.8 263 278.7 219.2"/><path class="c28" d="M278.4 218.2L243.5 265.9M243.8 263L244 264.6 278.9 225.2"/><path class="c5" d="M278.7 219.2L243.8 263"/><path class="c28" d="M244 264.6L244.3 266.2 279.2 214.7"/><path class="c23" d="M279.2 214.7L278.9 225.2"/><path class="c28" d="M278.9 225.2L244 264.6"/><path class="f" d="M244.6 270.8L279.5 228.4 279.2 214.7 244.3 266.2z"/><path class="c10" d="M244.3 266.2L244.6 270.8 279.5 228.4"/><path class="c12" d="M279.5 228.4L279.2 214.7"/><path class="c28" d="M279.2 214.7L244.3 266.2"/><path class="c4" d="M299.9 242.9L300.1 233.7 335 294"/><path class="c17" d="M355.4 237.7L355.7 296.4 390.6 274.5"/><path class="c10" d="M244.6 270.8L244.8 269.3 279.7 217.9"/><path class="c20" d="M279.7 217.9L279.5 228.4"/><path class="c10" d="M279.5 228.4L244.6 270.8"/><path class="c12" d="M300.1 233.7L300.4 238.5 335.3 195.7"/><path class="c4" d="M335 294L300.1 233.7"/><path class="c17" d="M390.6 274.5L355.7 296.4"/><path class="c10" d="M244.8 269.3L245.1 269.5 280 220.4"/><path class="c31" d="M280 220.4L279.7 217.9"/><path class="c10" d="M279.7 217.9L244.8 269.3"/><path class="c12" d="M335.3 195.7L300.4 238.5"/><path class="c28" d="M245.1 269.5L245.4 266.2 280.3 223.4"/><path class="c4" d="M280.3 223.4L280 220.4"/><path class="c10" d="M280 220.4L245.1 269.5M245.4 266.2L245.7 270.6 280.6 228.9"/><path class="c28" d="M280.3 223.4L245.4 266.2"/><path class="c10" d="M245.7 270.6L245.9 268.9 280.8 224.6M280.6 228.9L245.7 270.6"/><path class="c27" d="M356.7 265.8L357 247 391.9 180.5"/><path class="c33" d="M391.9 180.5L391.6 253.3"/><path class="c28" d="M245.9 268.9L246.2 265.9 281.1 222"/><path class="c10" d="M280.8 224.6L245.9 268.9"/><path class="f" d="M357.3 261.9L392.2 202.2 391.9 180.5 357 247z"/><path class="c0" d="M357 247L357.3 261.9 392.2 202.2"/><path class="c2" d="M392.2 202.2L391.9 180.5"/><path class="c27" d="M391.9 180.5L357 247"/><path class="c10" d="M246.2 265.9L246.5 271.7 281.4 224.1"/><path class="c28" d="M281.1 222L246.2 265.9"/><path class="f" d="M357.5 275.3L392.4 257.4 392.2 202.2 357.3 261.9z"/><path class="c28" d="M392.4 257.4L392.2 202.2"/><path class="c0" d="M392.2 202.2L357.3 261.9"/><path class="c28" d="M246.5 271.7L246.7 267.2 281.6 228.4"/><path class="c6" d="M246.7 267.2L247 275.6 281.9 221.9"/><path class="f" d="M302.5 239.4L337.4 246.4 337.2 208.9 302.3 236z"/><path class="c35" d="M337.2 208.9L302.3 236"/><path class="f" d="M247.3 266.9L282.2 222 281.9 221.9 247 275.6z"/><path class="c28" d="M247 275.6L247.3 266.9 282.2 222"/><path class="c31" d="M282.2 222L281.9 221.9"/><path class="c6" d="M281.9 221.9L247 275.6"/><path class="c35" d="M302.5 239.4L302.8 237.8 337.7 188.9"/><path class="c15" d="M337.7 188.9L337.4 246.4"/><path class="c10" d="M247.3 266.9L247.5 270.2 282.4 225.7"/><path class="c4" d="M282.4 225.7L282.2 222"/><path class="c28" d="M282.2 222L247.3 266.9"/><path class="f" d="M303.1 243.9L338 260.5 337.7 188.9 302.8 237.8z"/><path class="c10" d="M338 260.5L337.7 188.9"/><path class="c35" d="M337.7 188.9L302.8 237.8"/><path class="c28" d="M247.5 270.2L247.8 268.6 282.7 222.4"/><path class="c10" d="M282.4 225.7L247.5 270.2"/><path class="c28" d="M247.8 268.6L248.1 269.3 283 222.7M282.7 222.4L247.8 268.6"/><path class="f" d="M303.6 246L338.5 247.4 338.2 220.2 303.3 237.1z"/><path class="c35" d="M338.2 220.2L303.3 237.1"/><path class="c10" d="M248.1 269.3L248.3 271.8 283.2 227.3"/><path class="c28" d="M283 222.7L248.1 269.3M248.3 271.8L248.6 269.9 283.5 228.5"/><path class="c10" d="M283.2 227.3L248.3 271.8"/><path class="c28" d="M248.6 269.9L248.9 270.1 283.8 224M283.5 228.5L248.6 269.9"/><path class="c2" d="M359.7 244.4L360 211.3 394.9 297.9"/><path class="c10" d="M248.9 270.1L249.1 270.5 284 224"/><path class="c28" d="M283.8 224L248.9 270.1"/><path class="c35" d="M304.4 242.1L304.7 238.4 339.6 291"/><path class="f" d="M360.2 254.6L395.1 256.1 394.9 297.9 360 211.3z"/><path class="c2" d="M394.9 297.9L360 211.3"/><path class="c6" d="M249.1 270.5L249.4 275.5 284.3 228.9"/><path class="c10" d="M284 224L249.1 270.5"/><path class="c35" d="M339.6 291L304.7 238.4"/><path class="c22" d="M249.4 275.5L249.7 278.5 284.6 228.6"/><path class="c28" d="M249.7 278.5L249.9 268.4 284.8 226.4"/><path class="c22" d="M284.6 228.6L249.7 278.5"/><path class="c28" d="M249.9 268.4L250.2 268.1 285.1 220.8"/><path class="c20" d="M285.1 220.8L284.8 226.4"/><path class="c28" d="M284.8 226.4L249.9 268.4"/><path class="c12" d="M305.5 239.3L305.8 241.8 340.7 199.6"/><path class="c35" d="M340.4 242.9L305.5 239.3"/><path class="f" d="M250.5 274.7L285.4 226.7 285.1 220.8 250.2 268.1z"/><path class="c6" d="M250.2 268.1L250.5 274.7 285.4 226.7"/><path class="c4" d="M285.4 226.7L285.1 220.8"/><path class="c28" d="M285.1 220.8L250.2 268.1"/><path class="f" d="M306 242.2L340.9 269.6 340.7 199.6 305.8 241.8z"/><path class="c12" d="M340.7 199.6L305.8 241.8"/><path class="c10" d="M250.5 274.7L250.7 271.7 285.6 226.6"/><path class="c6" d="M285.4 226.7L250.5 274.7M250.7 271.7L251 277.2 285.9 223.7"/><path class="c28" d="M251 277.2L251.3 268.6 286.2 228.3"/><path class="c6" d="M285.9 223.7L251 277.2"/><path class="f" d="M306.8 243.8L341.7 239 341.5 207.9 306.6 245.8z"/><path class="c32" d="M341.5 207.9L306.6 245.8"/><path class="f" d="M251.6 273.5L286.5 230.8 286.2 228.3 251.3 268.6z"/><path class="c10" d="M251.3 268.6L251.6 273.5 286.5 230.8"/><path class="c28" d="M286.2 228.3L251.3 268.6"/><path class="c10" d="M251.6 273.5L251.8 272.2 286.7 221.1"/><path class="c20" d="M286.7 221.1L286.5 230.8"/><path class="c10" d="M286.5 230.8L251.6 273.5"/><path class="f" d="M307.4 242.5L342.3 242.4 342 221.7 307.1 241.3z"/><path class="c12" d="M342 221.7L307.1 241.3"/><path class="f" d="M252.1 273.4L287 225.8 286.7 221.1 251.8 272.2z"/><path class="c10" d="M251.8 272.2L252.1 273.4 287 225.8"/><path class="c4" d="M287 225.8L286.7 221.1"/><path class="c10" d="M286.7 221.1L251.8 272.2"/><path class="c25" d="M362.9 245.8L363.2 255.1 398.1 203.4"/><path class="c4" d="M287.3 226.6L287 225.8"/><path class="c10" d="M287 225.8L252.1 273.4"/><path class="f" d="M363.4 256L398.3 248.2 398.1 203.4 363.2 255.1z"/><path class="c25" d="M398.1 203.4L363.2 255.1"/><path class="f" d="M252.6 273.2L287.5 231.9 287.3 226.6 252.4 275.5z"/><path class="c10" d="M252.4 275.5L252.6 273.2 287.5 231.9"/><path class="c35" d="M287.5 231.9L287.3 226.6"/><path class="c6" d="M287.3 226.6L252.4 275.5"/><path class="f" d="M252.9 278L287.8 231.3 287.5 231.9 252.6 273.2z"/><path class="c6" d="M252.6 273.2L252.9 278 287.8 231.3"/><path class="c10" d="M287.5 231.9L252.6 273.2"/><path class="c6" d="M252.9 278L253.2 278.6 288.1 232.9M287.8 231.3L252.9 278M253.2 278.6L253.4 277.4 288.3 229.3M288.1 232.9L253.2 278.6M288.3 229.3L253.4 277.4"/><path class="f" d="M309.2 247.7L344.1 318.5 343.9 252.6 309 239.2z"/><path class="c32" d="M309 239.2L309.2 247.7 344.1 318.5"/><path class="c35" d="M343.9 252.6L309 239.2"/><path class="c22" d="M253.7 277.5L254 279.3 288.9 232"/><path class="c6" d="M288.6 231.7L253.7 277.5"/><path class="f" d="M309.5 246.8L344.4 266.5 344.1 318.5 309.2 247.7z"/><path class="c6" d="M344.4 266.5L344.1 318.5"/><path class="c32" d="M344.1 318.5L309.2 247.7M364.8 265.3L365.1 248.5 400 317.9"/><path class="c22" d="M254 279.3L254.2 280.1 289.1 230.6M288.9 232L254 279.3"/><path class="c12" d="M400.2 234.6L400 317.9"/><path class="c32" d="M400 317.9L365.1 248.5"/><path class="c6" d="M254.2 280.1L254.5 279 289.4 228.7"/><path class="c22" d="M289.1 230.6L254.2 280.1"/><path class="c6" d="M254.5 279L254.8 278.3 289.7 232.7M289.4 228.7L254.5 279"/><path class="c32" d="M310 245.9L310.3 247.9 345.2 202"/><path class="c12" d="M344.9 268.4L310 245.9"/><path class="c22" d="M254.8 278.3L255 281.3 289.9 231.4"/><path class="f" d="M310.6 251.5L345.5 230.6 345.2 202 310.3 247.9z"/><path class="c32" d="M345.2 202L310.3 247.9"/><path class="c22" d="M365.9 250.8L366.1 280.6 401 190.5"/><path class="c15" d="M401 190.5L400.8 269.6"/><path class="c6" d="M255 281.3L255.3 277.7 290.2 228.3"/><path class="c22" d="M289.9 231.4L255 281.3"/><path class="f" d="M366.4 217.4L401.3 255 401 190.5 366.1 280.6z"/><path class="c0" d="M401.3 255L401 190.5"/><path class="c22" d="M401 190.5L366.1 280.6"/><path class="c6" d="M255.3 277.7L255.6 278.7 290.5 228.4M290.2 228.3L255.3 277.7"/><path class="f" d="M366.7 251.3L401.6 219.2 401.3 255 366.4 217.4z"/><path class="c27" d="M366.4 217.4L366.7 251.3 401.6 219.2"/><path class="c23" d="M401.6 219.2L401.3 255"/><path class="c26" d="M401.3 255L366.4 217.4"/><path class="c22" d="M255.6 278.7L255.8 281.2 290.7 227.2"/><path class="c6" d="M290.5 228.4L255.6 278.7"/><path class="c32" d="M346 246.6L311.1 247.2"/><path class="f" d="M366.9 301.6L401.8 317 401.6 219.2 366.7 251.3z"/><path class="c17" d="M366.7 251.3L366.9 301.6 401.8 317"/><path class="c19" d="M401.8 317L401.6 219.2"/><path class="c27" d="M401.6 219.2L366.7 251.3"/><path class="c6" d="M255.8 281.2L256.1 276.8 291 229"/><path class="c22" d="M290.7 227.2L255.8 281.2"/><path class="f" d="M311.7 248.6L346.6 255.8 346.3 218.5 311.4 251.6z"/><path class="c27" d="M346.3 218.5L311.4 251.6"/><path class="c6" d="M256.1 276.8L256.4 277.7 291.3 230.5M291 229L256.1 276.8"/><path class="c22" d="M256.4 277.7L256.6 281.7 291.5 233.6"/><path class="c6" d="M291.3 230.5L256.4 277.7"/><path class="c16" d="M256.6 281.7L256.9 284.7 291.8 226.6"/><path class="c22" d="M291.5 233.6L256.6 281.7M256.9 284.7L257.2 281.6 292.1 233.4"/><path class="c16" d="M291.8 226.6L256.9 284.7"/><path class="c12" d="M312.5 252.1L312.7 245.3 347.6 292.1"/><path class="c6" d="M257.2 281.6L257.4 278 292.3 229.3"/><path class="c22" d="M292.1 233.4L257.2 281.6"/><path class="c12" d="M347.6 292.1L312.7 245.3"/><path class="c16" d="M257.4 278L257.7 284.8 292.6 227.4"/><path class="c6" d="M292.3 229.3L257.4 278"/><path class="c22" d="M257.7 284.8L258 283.8 292.9 229.1"/><path class="c16" d="M292.6 227.4L257.7 284.8"/><path class="c6" d="M258 283.8L258.3 278.7 293.2 223.6"/><path class="c20" d="M293.2 223.6L292.9 229.1"/><path class="c22" d="M292.9 229.1L258 283.8"/><path class="f" d="M313.8 251.3L348.7 240.8 348.4 262.2 313.5 248.4z"/><path class="c27" d="M313.5 248.4L313.8 251.3 348.7 240.8"/><path class="c32" d="M348.4 262.2L313.5 248.4"/><path class="f" d="M258.5 286.3L293.4 229 293.2 223.6 258.3 278.7z"/><path class="c16" d="M258.3 278.7L258.5 286.3 293.4 229"/><path class="c4" d="M293.4 229L293.2 223.6"/><path class="c6" d="M293.2 223.6L258.3 278.7"/><path class="c27" d="M348.7 240.8L313.8 251.3"/><path class="c6" d="M258.5 286.3L258.8 279.7 293.7 236.4"/><path class="c16" d="M293.4 229L258.5 286.3"/><path class="c22" d="M258.8 279.7L259.1 284.1 294 232.9"/><path class="c6" d="M293.7 236.4L258.8 279.7"/><path class="c16" d="M259.1 284.1L259.3 285.7 294.2 232.3M259.3 285.7L259.6 285.2 294.5 227.4"/><path class="c31" d="M294.5 227.4L294.2 232.3"/><path class="c16" d="M294.2 232.3L259.3 285.7"/><path class="c27" d="M314.9 260.3L315.1 252.6 350 301.8"/><path class="c6" d="M259.6 285.2L259.9 281.2 294.8 228.7"/><path class="c31" d="M294.8 228.7L294.5 227.4"/><path class="c16" d="M294.5 227.4L259.6 285.2"/><path class="f" d="M315.4 250.9L350.3 190.4 350 301.8 315.1 252.6z"/><path class="c32" d="M315.1 252.6L315.4 250.9 350.3 190.4"/><path class="c29" d="M350.3 190.4L350 301.8"/><path class="c27" d="M350 301.8L315.1 252.6"/><path class="c22" d="M259.9 281.2L260.1 284.2 295 236.9"/><path class="c6" d="M294.8 228.7L259.9 281.2"/><path class="c32" d="M350.3 190.4L315.4 250.9"/><path class="c22" d="M260.1 284.2L260.4 284.2 295.3 232.4M260.4 284.2L260.7 282.7 295.6 232.4M295.3 232.4L260.4 284.2M260.7 282.7L260.9 282.8 295.8 229.3"/><path class="c4" d="M295.8 229.3L295.6 232.4"/><path class="c32" d="M316.2 253.4L316.5 251.5 351.4 167.7"/><path class="c49" d="M351.4 167.7L351.1 280.6"/><path class="f" d="M261.2 291.6L296.1 233.3 295.8 229.3 260.9 282.8z"/><path class="c9" d="M260.9 282.8L261.2 291.6 296.1 233.3"/><path class="c35" d="M296.1 233.3L295.8 229.3"/><path class="c22" d="M295.8 229.3L260.9 282.8"/><path class="f" d="M316.7 258.7L351.6 284.1 351.4 167.7 316.5 251.5z"/><path class="c11" d="M316.5 251.5L316.7 258.7 351.6 284.1"/><path class="c3" d="M351.6 284.1L351.4 167.7"/><path class="c32" d="M351.4 167.7L316.5 251.5"/><path class="f" d="M261.5 287.4L296.4 236.2 296.1 233.3 261.2 291.6z"/><path class="c16" d="M261.2 291.6L261.5 287.4 296.4 236.2"/><path class="c9" d="M296.1 233.3L261.2 291.6"/><path class="c22" d="M261.5 287.4L261.7 284.8 296.6 241.6"/><path class="c16" d="M296.4 236.2L261.5 287.4"/><path class="f" d="M317.3 254.2L352.2 284 351.9 228.5 317 257.5z"/><path class="c11" d="M351.9 228.5L317 257.5"/><path class="c27" d="M352.2 284L317.3 254.2"/><path class="c22" d="M262 286.2L262.3 284.5 297.2 232.9M262.3 284.5L262.5 286.1 297.4 236.6M297.2 232.9L262.3 284.5"/><path class="c16" d="M262.5 286.1L262.8 289.1 297.7 232.1"/><path class="c4" d="M297.7 232.1L297.4 236.6"/><path class="c22" d="M297.4 236.6L262.5 286.1"/><path class="c16" d="M262.8 289.1L263.1 287.3 298 240.2"/><path class="c12" d="M298 240.2L297.7 232.1"/><path class="c16" d="M297.7 232.1L262.8 289.1"/><path class="c22" d="M263.1 287.3L263.3 285 298.2 234.5"/><path class="c16" d="M298 240.2L263.1 287.3"/><path class="f" d="M318.9 254.1L353.8 246.9 353.5 231.6 318.6 255.9z"/><path class="c27" d="M353.5 231.6L318.6 255.9"/><path class="c16" d="M263.3 285L263.6 289.5 298.5 237.1"/><path class="c22" d="M298.2 234.5L263.3 285"/><path class="c27" d="M353.8 246.9L318.9 254.1"/><path class="c22" d="M263.6 289.5L263.9 286.6 298.8 234.8"/><path class="c16" d="M298.5 237.1L263.6 289.5"/><path class="f" d="M319.4 255L354.3 252.6 354.1 241.9 319.2 254.9z"/><path class="c27" d="M354.1 241.9L319.2 254.9"/><path class="c9" d="M263.9 286.6L264.2 293.7 299.1 237"/><path class="c22" d="M298.8 234.8L263.9 286.6"/><path class="f" d="M319.7 255.3L354.6 287.2 354.3 252.6 319.4 255z"/><path class="c27" d="M354.3 252.6L319.4 255"/><path class="c22" d="M264.2 293.7L264.4 285.9 299.3 240.3"/><path class="c9" d="M299.1 237L264.2 293.7"/><path class="c27" d="M354.6 287.2L319.7 255.3"/><path class="c16" d="M264.4 285.9L264.7 290.2 299.6 237.2"/><path class="c22" d="M299.3 240.3L264.4 285.9"/><path class="c27" d="M354.9 243.9L320 257.1"/><path class="c11" d="M355.1 232.5L320.2 258.2"/><path class="c16" d="M265 290.3L265.2 288.7 300.1 233.7"/><path class="c4" d="M300.1 233.7L299.9 242.9"/><path class="c16" d="M299.9 242.9L265 290.3"/><path class="f" d="M265.5 291.5L300.4 238.5 300.1 233.7 265.2 288.7z"/><path class="c9" d="M265.2 288.7L265.5 291.5 300.4 238.5"/><path class="c12" d="M300.4 238.5L300.1 233.7"/><path class="c16" d="M300.1 233.7L265.2 288.7"/><path class="c32" d="M355.9 244.6L355.7 296.4"/><path class="c25" d="M355.7 296.4L320.8 261.9"/><path class="c22" d="M265.5 291.5L265.8 285.6 300.7 240.2"/><path class="c9" d="M300.4 238.5L265.5 291.5"/><path class="c22" d="M265.8 285.6L266 284.9 300.9 238.5M300.7 240.2L265.8 285.6"/><path class="c27" d="M356.2 274.4L321.3 257"/><path class="f" d="M266.3 288.6L301.2 239 300.9 238.5 266 284.9z"/><path class="c16" d="M266 284.9L266.3 288.6 301.2 239"/><path class="c22" d="M300.9 238.5L266 284.9"/><path class="f" d="M321.8 265.7L356.7 265.8 356.5 233.1 321.6 258.9z"/><path class="c11" d="M356.5 233.1L321.6 258.9"/><path class="f" d="M266.6 295.2L301.5 240.3 301.2 239 266.3 288.6z"/><path class="c3" d="M266.3 288.6L266.6 295.2 301.5 240.3"/><path class="c16" d="M301.2 239L266.3 288.6"/><path class="c9" d="M266.6 295.2L266.8 292.2 301.7 240.5"/><path class="c3" d="M301.5 240.3L266.6 295.2"/><path class="c11" d="M357 247L322.1 261.1"/><path class="c3" d="M266.8 292.2L267.1 295.9 302 237.5"/><path class="c9" d="M301.7 240.5L266.8 292.2"/><path class="c27" d="M357.3 261.9L322.4 258.4"/><path class="c16" d="M267.1 295.9L267.4 291.5 302.3 236"/><path class="c35" d="M302.3 236L302 237.5"/><path class="c3" d="M302 237.5L267.1 295.9"/><path class="f" d="M267.6 294.2L302.5 239.4 302.3 236 267.4 291.5z"/><path class="c9" d="M267.4 291.5L267.6 294.2 302.5 239.4"/><path class="c12" d="M302.5 239.4L302.3 236"/><path class="c16" d="M302.3 236L267.4 291.5"/><path class="c3" d="M267.6 294.2L267.9 296.5 302.8 237.8"/><path class="c9" d="M302.5 239.4L267.6 294.2"/><path class="c16" d="M267.9 296.5L268.2 291.5 303.1 243.9"/><path class="c3" d="M302.8 237.8L267.9 296.5"/><path class="c9" d="M268.2 291.5L268.4 294.1 303.3 237.1"/><path class="c35" d="M303.3 237.1L303.1 243.9"/><path class="c16" d="M303.1 243.9L268.2 291.5"/><path class="f" d="M268.7 297.6L303.6 246 303.3 237.1 268.4 294.1z"/><path class="c3" d="M268.4 294.1L268.7 297.6 303.6 246"/><path class="c32" d="M303.6 246L303.3 237.1"/><path class="c9" d="M303.3 237.1L268.4 294.1"/><path class="f" d="M324.3 261.9L359.2 272.2 358.9 269.7 324 258.5z"/><path class="c11" d="M324 258.5L324.3 261.9 359.2 272.2"/><path class="c27" d="M358.9 269.7L324 258.5"/><path class="c9" d="M268.7 297.6L269 295 303.9 245.5"/><path class="c3" d="M303.6 246L268.7 297.6"/><path class="c11" d="M359.2 272.2L324.3 261.9"/><path class="c9" d="M269 295L269.2 294.4 304.1 246.5M303.9 245.5L269 295M269.2 294.4L269.5 295.7 304.4 242.1M304.1 246.5L269.2 294.4"/><path class="c14" d="M324.8 263L325.1 266.6 360 211.3"/><path class="c2" d="M360 211.3L359.7 244.4"/><path class="c11" d="M359.7 244.4L324.8 263"/><path class="c9" d="M269.5 295.7L269.8 294.3 304.7 238.4"/><path class="c35" d="M304.7 238.4L304.4 242.1"/><path class="c9" d="M304.4 242.1L269.5 295.7"/><path class="f" d="M325.3 265.1L360.2 254.6 360 211.3 325.1 266.6z"/><path class="c25" d="M360.2 254.6L360 211.3"/><path class="c14" d="M360 211.3L325.1 266.6"/><path class="c35" d="M305 239.9L304.7 238.4"/><path class="c9" d="M304.7 238.4L269.8 294.3"/><path class="c16" d="M270.1 296.5L270.3 293.3 305.2 241.8"/><path class="c9" d="M305 239.9L270.1 296.5"/><path class="c25" d="M360.5 241.8L325.6 265.4"/><path class="c9" d="M270.3 293.3L270.6 294.4 305.5 239.3"/><path class="c35" d="M305.5 239.3L305.2 241.8"/><path class="c16" d="M305.2 241.8L270.3 293.3"/><path class="c11" d="M360.8 261.9L325.9 263"/><path class="c9" d="M270.6 294.4L270.9 296.1 305.8 241.8"/><path class="c12" d="M305.8 241.8L305.5 239.3"/><path class="c9" d="M305.5 239.3L270.6 294.4"/><path class="f" d="M326.4 266.6L361.3 231.5 361 257.4 326.1 263.8z"/><path class="c25" d="M326.1 263.8L326.4 266.6 361.3 231.5M361 257.4L326.1 263.8"/><path class="c3" d="M270.9 296.1L271.1 298.6 306 242.2"/><path class="c9" d="M305.8 241.8L270.9 296.1"/><path class="f" d="M326.7 269.4L361.6 244.6 361.3 231.5 326.4 266.6z"/><path class="c25" d="M361.3 231.5L326.4 266.6"/><path class="c16" d="M271.1 298.6L271.4 291.2 306.3 245.4"/><path class="c3" d="M306 242.2L271.1 298.6"/><path class="c9" d="M271.4 291.2L271.7 296 306.6 245.8"/><path class="c16" d="M306.3 245.4L271.4 291.2"/><path class="c9" d="M271.7 296L271.9 296.2 306.8 243.8M306.6 245.8L271.7 296M271.9 296.2L272.2 294.9 307.1 241.3M306.8 243.8L271.9 296.2"/><path class="c16" d="M272.2 294.9L272.5 291.4 307.4 242.5"/><path class="c9" d="M307.1 241.3L272.2 294.9"/><path class="f" d="M272.7 295.6L307.6 244.1 307.4 242.5 272.5 291.4z"/><path class="c9" d="M272.5 291.4L272.7 295.6 307.6 244.1"/><path class="c16" d="M307.4 242.5L272.5 291.4"/><path class="c3" d="M272.7 295.6L273 301.4 307.9 246.7"/><path class="c9" d="M307.6 244.1L272.7 295.6M273 301.4L273.3 296.2 308.2 246.6"/><path class="c3" d="M307.9 246.7L273 301.4"/><path class="c9" d="M273.3 296.2L273.5 297.9 308.4 243M308.2 246.6L273.3 296.2M273.5 297.9L273.8 295.2 308.7 249M308.4 243L273.5 297.9"/><path class="f" d="M329.4 267.3L364.3 239.3 364 229 329.1 266.3z"/><path class="c25" d="M364 229L329.1 266.3"/><path class="f" d="M274.1 298.7L309 239.2 308.7 249 273.8 295.2z"/><path class="c3" d="M273.8 295.2L274.1 298.7 309 239.2"/><path class="c35" d="M309 239.2L308.7 249"/><path class="c9" d="M308.7 249L273.8 295.2"/><path class="f" d="M329.6 267.5L364.5 259.8 364.3 239.3 329.4 267.3z"/><path class="c25" d="M364.3 239.3L329.4 267.3"/><path class="f" d="M274.3 299.2L309.2 247.7 309 239.2 274.1 298.7z"/><path class="c3" d="M274.1 298.7L274.3 299.2 309.2 247.7"/><path class="c32" d="M309.2 247.7L309 239.2"/><path class="c3" d="M309 239.2L274.1 298.7"/><path class="f" d="M329.9 268.9L364.8 265.3 364.5 259.8 329.6 267.5z"/><path class="c25" d="M364.5 259.8L329.6 267.5"/><path class="c3" d="M274.3 299.2L274.6 300.3 309.5 246.8M309.2 247.7L274.3 299.2"/><path class="f" d="M330.2 273.1L365.1 248.5 364.8 265.3 329.9 268.9z"/><path class="c14" d="M364.8 265.3L329.9 268.9"/><path class="c48" d="M274.6 300.3L274.9 304.5 309.8 249.7"/><path class="c3" d="M309.5 246.8L274.6 300.3M274.9 304.5L275.1 301.2 310 245.9"/><path class="c12" d="M310 245.9L309.8 249.7"/><path class="c48" d="M309.8 249.7L274.9 304.5"/><path class="c14" d="M365.3 279.4L330.4 269.4"/><path class="c9" d="M275.1 301.2L275.4 296.7 310.3 247.9"/><path class="c32" d="M310.3 247.9L310 245.9"/><path class="c3" d="M310 245.9L275.1 301.2"/><path class="c14" d="M365.6 271.1L330.7 270.9"/><path class="c3" d="M275.4 296.7L275.7 299.5 310.6 251.5"/><path class="c9" d="M310.3 247.9L275.4 296.7"/><path class="f" d="M331.2 274.9L366.1 280.6 365.9 250.8 331 272.3z"/><path class="c0" d="M331 272.3L331.2 274.9 366.1 280.6"/><path class="c14" d="M365.9 250.8L331 272.3"/><path class="c3" d="M275.7 299.5L275.9 300.8 310.9 250.4M310.6 251.5L275.7 299.5"/><path class="c0" d="M331.2 274.9L331.5 276.1 366.4 217.4"/><path class="c26" d="M366.4 217.4L366.1 280.6"/><path class="c3" d="M275.9 300.8L276.2 302.3 311.1 247.2M310.9 250.4L275.9 300.8"/><path class="f" d="M331.8 274.3L366.7 251.3 366.4 217.4 331.5 276.1z"/><path class="c27" d="M366.7 251.3L366.4 217.4"/><path class="c0" d="M366.4 217.4L331.5 276.1"/><path class="c9" d="M276.2 302.3L276.5 298.8 311.4 251.6"/><path class="c3" d="M311.1 247.2L276.2 302.3"/><path class="f" d="M332 279.4L366.9 301.6 366.7 251.3 331.8 274.3z"/><path class="c5" d="M331.8 274.3L332 279.4 366.9 301.6"/><path class="c17" d="M366.9 301.6L366.7 251.3"/><path class="c0" d="M366.7 251.3L331.8 274.3"/><path class="c16" d="M276.5 298.8L276.8 294.1 311.7 248.6"/><path class="c9" d="M311.4 251.6L276.5 298.8"/><path class="f" d="M277 301.9L311.9 249.6 311.7 248.6 276.8 294.1z"/><path class="c3" d="M276.8 294.1L277 301.9 311.9 249.6"/><path class="c16" d="M311.7 248.6L276.8 294.1"/><path class="c3" d="M277 301.9L277.3 303.4 312.2 254.1"/><path class="c9" d="M277.3 303.4L277.6 299.3 312.5 252.1"/><path class="c3" d="M312.2 254.1L277.3 303.4M277.6 299.3L277.8 303.4 312.7 245.3"/><path class="c12" d="M312.7 245.3L312.5 252.1"/><path class="c9" d="M312.5 252.1L277.6 299.3"/><path class="f" d="M278.1 299L313 254.5 312.7 245.3 277.8 303.4z"/><path class="c9" d="M277.8 303.4L278.1 299 313 254.5"/><path class="c11" d="M313 254.5L312.7 245.3"/><path class="c3" d="M312.7 245.3L277.8 303.4"/><path class="c9" d="M278.4 301.9L278.6 298.5 313.5 248.4"/><path class="c32" d="M313.5 248.4L313.3 252.9"/><path class="f" d="M278.9 305L313.8 251.3 313.5 248.4 278.6 298.5z"/><path class="c48" d="M278.6 298.5L278.9 305 313.8 251.3"/><path class="c27" d="M313.8 251.3L313.5 248.4"/><path class="c9" d="M313.5 248.4L278.6 298.5"/><path class="c48" d="M278.9 305L279.2 306.3 314.1 254.9"/><path class="c11" d="M314.1 254.9L313.8 251.3"/><path class="c48" d="M313.8 251.3L278.9 305M279.2 306.3L279.4 305 314.3 254.1M314.1 254.9L279.2 306.3"/><path class="c3" d="M279.4 305L279.7 301.8 314.6 255.1"/><path class="c48" d="M314.3 254.1L279.4 305M279.7 301.8L280 306.3 314.9 260.3"/><path class="c3" d="M314.6 255.1L279.7 301.8M280 306.3L280.2 304.2 315.1 252.6"/><path class="c48" d="M314.9 260.3L280 306.3"/><path class="c3" d="M280.2 304.2L280.5 302.6 315.4 250.9"/><path class="c32" d="M315.4 250.9L315.1 252.6"/><path class="c3" d="M315.1 252.6L280.2 304.2M280.5 302.6L280.8 302.1 315.7 251.6"/><path class="c32" d="M315.7 251.6L315.4 250.9"/><path class="c3" d="M315.4 250.9L280.5 302.6"/><path class="f" d="M281 306L315.9 254 315.7 251.6 280.8 302.1z"/><path class="c48" d="M280.8 302.1L281 306 315.9 254"/><path class="c3" d="M315.7 251.6L280.8 302.1"/><path class="c38" d="M281 306L281.3 310 316.2 253.4"/><path class="c48" d="M281.3 310L281.6 305.7 316.5 251.5"/><path class="c32" d="M316.5 251.5L316.2 253.4"/><path class="c38" d="M316.2 253.4L281.3 310"/><path class="f" d="M281.8 305.1L316.7 258.7 316.5 251.5 281.6 305.7z"/><path class="c3" d="M281.6 305.7L281.8 305.1 316.7 258.7"/><path class="c11" d="M316.7 258.7L316.5 251.5"/><path class="c48" d="M316.5 251.5L281.6 305.7M281.8 305.1L282.1 306.9 317 257.5"/><path class="c3" d="M316.7 258.7L281.8 305.1"/><path class="c38" d="M282.1 306.9L282.4 310 317.3 254.2"/><path class="c48" d="M317 257.5L282.1 306.9"/><path class="c38" d="M282.4 310L282.7 312 317.6 258"/><path class="c11" d="M317.6 258L317.3 254.2"/><path class="c38" d="M317.3 254.2L282.4 310"/><path class="c48" d="M282.7 312L282.9 307.5 317.8 256.2"/><path class="c38" d="M317.6 258L282.7 312"/><path class="c48" d="M282.9 307.5L283.2 309 318.1 257.6M317.8 256.2L282.9 307.5M283.2 309L283.5 309.3 318.4 261.8M283.5 309.3L283.7 306.8 318.6 255.9M318.4 261.8L283.5 309.3M283.7 306.8L284 308.2 318.9 254.1M318.6 255.9L283.7 306.8"/><path class="c38" d="M284 308.2L284.3 310.2 319.2 254.9"/><path class="c27" d="M319.2 254.9L318.9 254.1"/><path class="c48" d="M318.9 254.1L284 308.2"/><path class="c3" d="M284.3 310.2L284.5 304.9 319.4 255"/><path class="c27" d="M319.4 255L319.2 254.9"/><path class="c38" d="M319.2 254.9L284.3 310.2"/><path class="c48" d="M284.5 304.9L284.8 309.7 319.7 255.3"/><path class="c27" d="M319.7 255.3L319.4 255"/><path class="c3" d="M319.4 255L284.5 304.9"/><path class="c48" d="M284.8 309.7L285.1 308.8 320 257.1"/><path class="c27" d="M320 257.1L319.7 255.3"/><path class="c48" d="M319.7 255.3L284.8 309.7M285.1 308.8L285.3 310.5 320.2 258.2"/><path class="c11" d="M320.2 258.2L320 257.1"/><path class="c48" d="M320 257.1L285.1 308.8"/><path class="c16" d="M285.3 310.5L285.6 300.6 320.5 260.5"/><path class="c48" d="M320.2 258.2L285.3 310.5"/><path class="f" d="M285.9 305.4L320.8 261.9 320.5 260.5 285.6 300.6z"/><path class="c3" d="M285.6 300.6L285.9 305.4 320.8 261.9"/><path class="c16" d="M320.5 260.5L285.6 300.6"/><path class="c48" d="M285.9 305.4L286.1 308.4 321 261.4"/><path class="c3" d="M320.8 261.9L285.9 305.4"/><path class="c48" d="M286.1 308.4L286.4 310.5 321.3 257"/><path class="c27" d="M321.3 257L321 261.4"/><path class="c48" d="M321 261.4L286.1 308.4"/><path class="c3" d="M286.4 310.5L286.7 307 321.6 258.9"/><path class="c11" d="M321.6 258.9L321.3 257"/><path class="c48" d="M321.3 257L286.4 310.5M286.7 307L286.9 310.7 321.8 265.7"/><path class="c3" d="M321.6 258.9L286.7 307"/><path class="c48" d="M286.9 310.7L287.2 308.8 322.1 261.1M321.8 265.7L286.9 310.7M287.2 308.8L287.5 311.3 322.4 258.4M322.1 261.1L287.2 308.8M287.5 311.3L287.7 309.7 322.6 265.9M322.4 258.4L287.5 311.3M287.7 309.7L288 310.4 322.9 266.9M322.6 265.9L287.7 309.7"/><path class="c38" d="M288 310.4L288.3 314.6 323.2 265.4"/><path class="c48" d="M322.9 266.9L288 310.4"/><path class="c38" d="M288.3 314.6L288.6 313.3 323.5 267.3M323.2 265.4L288.3 314.6"/><path class="c48" d="M288.6 313.3L288.8 309.7 323.7 263.4"/><path class="c38" d="M323.5 267.3L288.6 313.3"/><path class="c9" d="M288.8 309.7L289.1 305.6 324 258.5"/><path class="c27" d="M324 258.5L323.7 263.4"/><path class="c48" d="M323.7 263.4L288.8 309.7"/><path class="f" d="M289.4 314.1L324.3 261.9 324 258.5 289.1 305.6z"/><path class="c38" d="M289.1 305.6L289.4 314.1 324.3 261.9"/><path class="c11" d="M324.3 261.9L324 258.5"/><path class="c9" d="M324 258.5L289.1 305.6"/><path class="c48" d="M289.4 314.1L289.6 309.9 324.5 264.7"/><path class="c25" d="M324.5 264.7L324.3 261.9"/><path class="c38" d="M324.3 261.9L289.4 314.1"/><path class="c48" d="M289.6 309.9L289.9 311.3 324.8 263M324.5 264.7L289.6 309.9M289.9 311.3L290.2 311.2 325.1 266.6M324.8 263L289.9 311.3"/><path class="c38" d="M290.2 311.2L290.4 315 325.3 265.1"/><path class="c48" d="M325.1 266.6L290.2 311.2"/><path class="f" d="M290.7 310L325.6 265.4 325.3 265.1 290.4 315z"/><path class="c48" d="M290.4 315L290.7 310 325.6 265.4"/><path class="c38" d="M325.3 265.1L290.4 315"/><path class="c48" d="M290.7 310L291 310.3 325.9 263"/><path class="c11" d="M325.9 263L325.6 265.4"/><path class="c48" d="M291 310.3L291.2 310.4 326.1 263.8"/><path class="c25" d="M326.1 263.8L325.9 263"/><path class="c48" d="M325.9 263L291 310.3"/><path class="f" d="M291.5 308.2L326.4 266.6 326.1 263.8 291.2 310.4z"/><path class="c3" d="M291.2 310.4L291.5 308.2 326.4 266.6"/><path class="c25" d="M326.4 266.6L326.1 263.8"/><path class="c48" d="M326.1 263.8L291.2 310.4"/><path class="f" d="M291.8 311.8L326.7 269.4 326.4 266.6 291.5 308.2z"/><path class="c48" d="M291.5 308.2L291.8 311.8 326.7 269.4"/><path class="c14" d="M326.7 269.4L326.4 266.6"/><path class="c3" d="M326.4 266.6L291.5 308.2M291.8 311.8L292 310.3 326.9 272.1"/><path class="c48" d="M292 310.3L292.3 311.9 327.2 268.4"/><path class="c3" d="M326.9 272.1L292 310.3"/><path class="c48" d="M292.3 311.9L292.6 311.3 327.5 269.3M327.2 268.4L292.3 311.9M292.6 311.3L292.8 312.8 327.7 267.6M327.5 269.3L292.6 311.3"/><path class="c3" d="M292.8 312.8L293.1 310.7 328 272.2"/><path class="c48" d="M327.7 267.6L292.8 312.8"/><path class="c17" d="M293.1 310.7L293.4 318.4 328.3 266.9"/><path class="c3" d="M328 272.2L293.1 310.7"/><path class="c38" d="M293.4 318.4L293.6 314.8 328.5 269.9"/><path class="c17" d="M328.3 266.9L293.4 318.4"/><path class="c48" d="M293.6 314.8L293.9 311.9 328.8 270.5"/><path class="c38" d="M328.5 269.9L293.6 314.8M293.9 311.9L294.2 316.7 329.1 266.3"/><path class="c25" d="M329.1 266.3L328.8 270.5"/><path class="c48" d="M328.8 270.5L293.9 311.9"/><path class="c38" d="M294.2 316.7L294.5 316 329.4 267.3"/><path class="c25" d="M329.4 267.3L329.1 266.3"/><path class="c38" d="M329.1 266.3L294.2 316.7M294.5 316L294.7 315.7 329.6 267.5"/><path class="c25" d="M329.6 267.5L329.4 267.3"/><path class="c38" d="M329.4 267.3L294.5 316M294.7 315.7L295 318.1 329.9 268.9"/><path class="c14" d="M329.9 268.9L329.6 267.5"/><path class="c38" d="M329.6 267.5L294.7 315.7"/><path class="c48" d="M295 318.1L295.3 314.4 330.2 273.1"/><path class="c0" d="M330.2 273.1L329.9 268.9"/><path class="c38" d="M329.9 268.9L295 318.1"/><path class="c3" d="M295.3 314.4L295.5 309.5 330.4 269.4"/><path class="c14" d="M330.4 269.4L330.2 273.1"/><path class="c48" d="M330.2 273.1L295.3 314.4"/><path class="f" d="M295.8 313.3L330.7 270.9 330.4 269.4 295.5 309.5z"/><path class="c48" d="M295.5 309.5L295.8 313.3 330.7 270.9"/><path class="c14" d="M330.7 270.9L330.4 269.4"/><path class="c3" d="M330.4 269.4L295.5 309.5"/><path class="c14" d="M331 272.3L330.7 270.9"/><path class="c48" d="M330.7 270.9L295.8 313.3"/><path class="f" d="M296.3 316.3L331.2 274.9 331 272.3 296.1 313.2z"/><path class="c38" d="M296.1 313.2L296.3 316.3 331.2 274.9"/><path class="c0" d="M331.2 274.9L331 272.3"/><path class="c48" d="M331 272.3L296.1 313.2"/><path class="c38" d="M296.3 316.3L296.6 318.8 331.5 276.1M331.2 274.9L296.3 316.3"/><path class="c48" d="M296.6 318.8L296.9 315.7 331.8 274.3"/><path class="c0" d="M331.8 274.3L331.5 276.1"/><path class="c38" d="M331.5 276.1L296.6 318.8"/><path class="f" d="M297.1 320.7L332 279.4 331.8 274.3 296.9 315.7z"/><path class="c17" d="M296.9 315.7L297.1 320.7 332 279.4"/><path class="c5" d="M332 279.4L331.8 274.3"/><path class="c48" d="M331.8 274.3L296.9 315.7"/></g>
<g stroke-linecap="butt"><line x1="48" y1="295.3" x2="48" y2="80.6" stroke="#2b2b2b" stroke-width="1.8"/><line x1="48" y1="295.3" x2="262.5" y2="395.6" stroke="#2b2b2b" stroke-width="1.8"/><line x1="262.5" y1="395.6" x2="541.7" y2="319.2" stroke="#2b2b2b" stroke-width="1.8"/><line x1="48" y1="295.3" x2="41.2" y2="292.1" stroke="#2b2b2b" stroke-width="1.8"/><line x1="48" y1="241.6" x2="41.2" y2="238.4" stroke="#2b2b2b" stroke-width="1.8"/><line x1="48" y1="188" x2="41.2" y2="184.8" stroke="#2b2b2b" stroke-width="1.8"/><line x1="48" y1="134.3" x2="41.2" y2="131.1" stroke="#2b2b2b" stroke-width="1.8"/><line x1="48" y1="80.6" x2="41.2" y2="77.4" stroke="#2b2b2b" stroke-width="1.8"/><line x1="262.5" y1="395.6" x2="255.3" y2="397.6" stroke="#2b2b2b" stroke-width="1.8"/><line x1="208.9" y1="370.5" x2="201.6" y2="372.5" stroke="#2b2b2b" stroke-width="1.8"/><line x1="155.2" y1="345.4" x2="148" y2="347.4" stroke="#2b2b2b" stroke-width="1.8"/><line x1="101.6" y1="320.4" x2="94.4" y2="322.4" stroke="#2b2b2b" stroke-width="1.8"/><line x1="48" y1="295.3" x2="40.8" y2="297.3" stroke="#2b2b2b" stroke-width="1.8"/><line x1="262.5" y1="395.6" x2="269.3" y2="398.8" stroke="#2b2b2b" stroke-width="1.8"/><line x1="332.3" y1="376.5" x2="339.1" y2="379.7" stroke="#2b2b2b" stroke-width="1.8"/><line x1="402.1" y1="357.4" x2="408.9" y2="360.6" stroke="#2b2b2b" stroke-width="1.8"/><line x1="471.9" y1="338.3" x2="478.7" y2="341.5" stroke="#2b2b2b" stroke-width="1.8"/><line x1="541.7" y1="319.2" x2="548.5" y2="322.4" stroke="#2b2b2b" stroke-width="1.8"/></g>
<g font-family='"Liberation Sans", sans-serif'><text x="35.5" y="295.9" font-size="14.9" text-anchor="end" fill="#2b2b2b">-4</text><text x="35.5" y="242.2" font-size="14.9" text-anchor="end" fill="#2b2b2b">-2</text><text x="35.5" y="188.6" font-size="14.9" text-anchor="end" fill="#2b2b2b">0</text><text x="35.5" y="134.9" font-size="14.9" text-anchor="end" fill="#2b2b2b">2</text><text x="35.5" y="81.2" font-size="14.9" text-anchor="end" fill="#2b2b2b">4</text><text x="249" y="415.3" font-size="14.9" text-anchor="end" fill="#2b2b2b">0</text><text x="195.4" y="390.2" font-size="14.9" text-anchor="end" fill="#2b2b2b">200</text><text x="141.8" y="365.1" font-size="14.9" text-anchor="end" fill="#2b2b2b">400</text><text x="88.1" y="340.1" font-size="14.9" text-anchor="end" fill="#2b2b2b">600</text><text x="34.5" y="315" font-size="14.9" text-anchor="end" fill="#2b2b2b">800</text><text x="278.5" y="415.8" font-size="14.9" text-anchor="middle" fill="#2b2b2b">0</text><text x="348.3" y="396.7" font-size="14.9" text-anchor="middle" fill="#2b2b2b">2</text><text x="418.1" y="377.6" font-size="14.9" text-anchor="middle" fill="#2b2b2b">4</text><text x="487.9" y="358.5" font-size="14.9" text-anchor="middle" fill="#2b2b2b">6</text><text x="557.7" y="339.4" font-size="14.9" text-anchor="middle" fill="#2b2b2b">8</text><text x="129" y="415" font-size="16.4" text-anchor="middle" fill="#2b2b2b">Sample</text><text x="395.8" y="419.7" font-size="16.4" text-anchor="middle" fill="#2b2b2b">Feature</text><text transform="translate(15,188.5) rotate(-90)" font-size="16.4" text-anchor="middle" fill="#2b2b2b">Amplitude</text></g>
<path d="M835.5 56.6h0M933.4 72.7h0M941.7 86.9h0M874.7 97.5h0M901.7 98.7h0M804.2 124.8h0M818.8 127.5h0M888 124.1h0M876.7 138.3h0M780.8 144.9h0M830.7 152.1h0M827.1 171.6h0M845.9 172.7h0M854.2 169.6h0M852.1 171.6h0M860.9 184.5h0M803.6 193.1h0M807.7 197h0M820.4 193.1h0M830.3 188.7h0M829.6 194.1h0M826.1 201.8h0M850.1 194.6h0M855.2 193.5h0M845.9 152.9h0M962.8 47.7h0M977.4 56h0M977.4 71.6h0M1061.3 59.8h0M1002.4 85.2h0M1020.5 88.7h0M1046.8 92.9h0M1064.5 94.6h0M954.4 91.4h0M985.7 103.5h0M996.1 103.5h0M1032.6 110.8h0M1018.6 116.4h0M1043 117.5h0M1092.6 118.9h0M1050.3 132.1h0M1087.8 136.6h0M1112.8 151.9h0M1119.7 163.7h0M1052.4 164.9h0M1059.7 165.4h0M1051.3 182.4h0M1088.5 203.9h0M1036.3 156.6h0M1030.5 148.7h0M775.8 243.7h0M745.9 267.9h0M826.1 202.9h0M843.8 233.1h0M853.6 226.2h0M851.1 240.4h0M863.6 277.3h0M863.6 285.6h0M864.7 280.4h0M873.4 267.9h0M879.2 281.4h0M886.1 292h0M893 279.3h0M899.6 296h0M928.8 338.7h0M944.2 338.7h0M910.5 275.2h0M912.2 269.9h0M939.7 280.4h0M939.3 286.6h0M936.5 273.1h0M937.6 263.7h0M897.6 252.3h0M1087.8 204.7h0M1116 219.3h0M1103.5 225.1h0M1091.6 223.7h0M1064.9 239.1h0M1045.5 266.8h0M1033 286h0M1023.6 305.8h0M1070.1 305.8h0M1004 309.9h0M974.7 306.8h0M953.4 312.6h0M961.8 292.9h0M975.3 286.6h0M1002.4 267.2h0M1036.8 260.6h0M971.1 273.1h0M974.2 273.1h0M988.8 266.8h0M924.7 225.5h0M1010.4 186.3h0M1021.3 193h0M916.7 143.1h0M1035.5 198.5h0M939 124.6h0M993.1 237.4h0M880.7 149.6h0M1024.9 206.6h0M933.7 249.2h0M988.4 161h0M1006.2 243h0M1016 148.2h0M1014.7 131.5h0M929.4 116.7h0M910.8 183.1h0M988 254.4h0M1013.2 190.3h0M1002.7 225h0M936.5 129.1h0M1000 189.4h0M897.4 123.1h0M880.5 156.9h0M952.5 198.6h0M881.6 149.4h0M984.5 189.3h0M927.4 210.7h0M956.3 105.2h0M912.7 154.4h0M1011.4 136.5h0M900.1 189.3h0M979 209.8h0M1011.2 235.1h0M992.1 143.5h0M1009.4 136.6h0M974.1 167.1h0M880.3 171.1h0M908 130.2h0M1035 156h0M985.3 173.9h0M909.9 195.3h0M905.2 149.4h0M955.5 133.3h0M934.6 228.4h0M982.9 229.3h0M1000.3 159.9h0M987.3 192.2h0M903.2 123.6h0M909.3 191.9h0M968.9 144.6h0M911.8 156.5h0M933.3 210.9h0M913 123.5h0M990.5 228.4h0M1003.8 183h0M1013.5 217.5h0M980.1 128.8h0M970.5 177.9h0M1000.5 199.2h0M983.1 136.7h0M926.2 153.2h0M906.6 158.5h0M888.4 158.7h0M932 212.5h0M923.5 165.6h0M999.5 184.8h0M950.7 185.3h0M1037.4 170.8h0M879.4 164h0M972.5 185h0M1006.9 210.8h0M946.5 247.4h0M898.3 234.5h0M1010 199.4h0M931.1 137.4h0M956.8 101.6h0M941.7 163.4h0M910.2 152.5h0M999.5 191.4h0M985.4 182.7h0M1029.1 139.9h0M900.1 230.5h0M898.4 243.9h0M966 160.3h0M895.4 189.5h0M997.5 226.5h0M996.7 222.5h0M989.1 145.6h0M990.9 244h0M1007.7 198.9h0M874 184.8h0M931.7 119h0M949.9 225.6h0M943.3 216.5h0M926.5 102.9h0M886.2 222.7h0M880 204.6h0M911.1 169.4h0M909 243.1h0M998.6 211.8h0M935.1 134.1h0M1025.2 169.9h0M976.7 186.9h0M943.7 262.4h0M989.3 231h0M975.4 214.5h0M1026.4 208.8h0M989 157h0M1031.6 167.2h0M943 142.3h0M950.8 115.6h0M877 195.3h0M876.9 220.1h0M972.3 183.7h0M1003.2 153.2h0M958.4 199.2h0M917.8 232.4h0M953.2 131.9h0M1001.7 168.7h0M869.3 168.1h0M1036.1 172.4h0M922.2 130.5h0M1009.8 152.9h0M976.6 154.8h0M933.5 137.6h0M1000.7 220.2h0M977.8 212.8h0M1000.3 190.1h0M889.4 183.9h0M905.6 156.1h0M1033.8 173.8h0M926.9 214.5h0M866.2 180.3h0M886 207.6h0M968.5 152.9h0M948.4 111.7h0M995.7 197.1h0M986.3 192.2h0M883 229.2h0M998.8 125.7h0M971.3 228.6h0M962.4 193.2h0M936.8 224.3h0M894.7 242.1h0M1027.5 149.7h0M966.5 162.2h0M921.7 203.1h0M976.1 178.1h0M1004.1 181.6h0M874.3 184h0M919.6 133.9h0M1023.3 159.8h0M1000.4 197.8h0M999.7 224.3h0M961.6 164.9h0M967.8 101.1h0M1018 140.6h0M989.9 174.1h0M962.9 185.8h0M1006.5 188.6h0M978.8 202.6h0M980.2 157.8h0M1015.2 143.2h0M1012.4 155.9h0M908.7 168.9h0M944.7 153h0M992.2 248.6h0M959.8 234.5h0M962.4 128.5h0M869.5 197.9h0M963.2 196.4h0M964.3 220.6h0M879.7 177.3h0M937.1 104.4h0M1007.6 193.9h0M930.2 131.2h0M940.4 160.9h0M974.5 215.2h0M1004.5 165.8h0M996.9 147.4h0M893.3 208.7h0M895.2 151.6h0M867.8 169.3h0M961.8 187.4h0M919 137.8h0M1010.3 194.5h0M993.3 176.9h0M1039.8 169.7h0M1028.6 192.5h0M1011.6 139.3h0M955.9 174.1h0M951.8 198.4h0M1012.7 171.1h0M976.4 239h0M993.2 191.7h0M928 104.6h0M938.1 189.6h0M975 182.6h0M920.4 127.3h0M991.6 134.5h0M918.5 226.9h0M1025.6 136.4h0M976.8 209h0M975.4 196.2h0M936.8 200.9h0M926.2 161.3h0M920 197.3h0M889.2 166.6h0M1022.5 179.2h0M966.4 141.5h0M1036.7 193.7h0M983.5 147.9h0M922.6 160.2h0M902.2 132.9h0M995.4 220.3h0M941.9 203.5h0M976.9 216.9h0M906.5 138.7h0M956.3 190.8h0M970.3 252.4h0M974.4 121.1h0M935.7 247.9h0M998.9 114.7h0M915.9 118.4h0M991.5 172h0M919.6 234.8h0M926.1 149.3h0M891.5 212.3h0M888.8 227.8h0M928.2 156.4h0M988.9 141.9h0M996.3 240.8h0M987.9 123.7h0M1036.4 195.9h0M897.2 176h0M979.6 182.7h0M1004.8 116.4h0M1006.5 192.1h0M949.7 185.6h0M986.5 123.4h0M871.3 194.8h0M940.6 221.7h0M985.6 187.8h0M913.9 147.2h0M873 181.1h0M919.6 255.9h0M942.7 201.7h0M876.5 193.4h0M934.9 256.7h0M960.3 99.9h0M924.1 195.5h0M939.4 170.3h0M962.2 145.3h0M941.6 218h0M925.1 194.4h0M919.6 208.5h0M944.2 158.6h0M925.8 127.2h0M986.5 192h0M893.2 126.2h0M925 193.7h0M986.6 171.7h0M971.4 220.4h0M1016 221.5h0M999.4 221.6h0M973.6 204h0M907.7 160.5h0M1017.9 164.5h0M994.6 181.9h0M1025.2 224.9h0M991.8 151.4h0M977.3 150.8h0M1021.3 151.4h0M971.5 154.5h0M1013 126.1h0M907.2 223.4h0M967.9 226.3h0M996.9 156.1h0M988.7 117.7h0M957.7 169.3h0M1033.1 177h0M909 219.6h0M873.1 180.7h0M894.4 216.9h0M976.8 110.6h0M996 113.9h0M913.1 197.7h0M917.8 197.8h0M908.6 189.7h0M1002.8 153.1h0M906.1 153.3h0M970.3 170.4h0M992.8 148.9h0M1019.3 162.4h0M955.8 182.5h0M952.8 258.9h0M915.2 125.8h0M924.1 225.3h0M1000.2 208h0M909.1 218.4h0M961.1 205.6h0M914.8 131.5h0M920.4 149.5h0M884.2 155.6h0M1023.5 197.1h0M936.6 192.7h0M911.5 131.9h0M1004 186.8h0" stroke="#ff0000" stroke-width="8.2" stroke-linecap="round" fill="none"/><path d="M840.9 52.9h0M859.9 65.8h0M929.3 74.3h0M881.9 84.8h0M898.4 90h0M907.4 85.6h0M913 85.2h0M863.6 98.3h0M878.2 105.8h0M846.5 105.6h0M874.7 118.1h0M897.4 116h0M865.3 125.8h0M850.5 133.7h0M870.8 134.6h0M794 143.9h0M835.9 143.1h0M841.3 146.2h0M855.9 143.5h0M858.4 148.7h0M848.4 150.2h0M837.5 161.2h0M849.4 164.5h0M851.7 183.1h0M794.8 188.3h0M813.6 195.6h0M818.8 193.5h0M839 202.9h0M858.4 202.9h0M966.9 49.8h0M978.4 64.4h0M963.4 75.4h0M1023.8 59.8h0M1033.2 59.8h0M988.4 80.6h0M1010.3 81.7h0M965.3 96.6h0M975.9 101.2h0M988.2 111.2h0M1009.6 104.6h0M1015.9 110.8h0M1025.3 109.2h0M1038.4 118.1h0M1056.6 140.4h0M1074.3 163.3h0M1077 166.4h0M1072.2 170.6h0M1076.8 173.7h0M1047.8 171h0M1064.9 199.1h0M771.3 237.3h0M813.6 248.3h0M822.4 215h0M839.2 203.3h0M840.2 253.3h0M849.2 243.5h0M866.3 243.3h0M864.2 253.7h0M864.6 272.1h0M883 263.7h0M883.4 267.9h0M906.7 290.8h0M804.8 300.2h0M842.3 305.8h0M850.5 302.2h0M866.7 311h0M894.4 312.7h0M907.8 308.5h0M896.9 325.1h0M917.2 329.3h0M880.5 352.4h0M916.7 278.3h0M942.2 289.1h0M925.1 273.7h0M930.3 272.5h0M922 261.6h0M929.3 261.2h0M911.6 256.4h0M1086.7 232.1h0M1076.4 214.1h0M1080.5 222.4h0M1068.1 230.8h0M1093.5 262h0M1039.9 255h0M1030.5 303.3h0M958 328.7h0M969 330.8h0M974.8 342.2h0M998.2 286h0M1006.6 279.7h0M999.3 280h0M964.9 293.5h0M971.8 287.6h0M952.4 274.1h0M953.4 280.4h0M954.4 284.5h0M998.2 271.6h0M1028.5 250.8h0M1023.8 258.5h0M1027.4 261.6h0M1034.3 262.7h0M995.1 257.5h0M983.6 268.9h0M933.3 175.1h0M1006.6 227.1h0M911.4 136.4h0M961.6 165h0M961.3 262.1h0M934.5 163.2h0M910.9 205.5h0M940.4 239.6h0M890.9 188.3h0M979.4 199h0M963.4 241.8h0M914.6 172h0M871.6 153.1h0M892.7 181.1h0M938.8 215.3h0M976.7 202.2h0M971.5 150.4h0M981.8 216.6h0M1010.5 207h0M912.6 119.5h0M933.4 156.4h0M967.4 260.1h0M985.4 172.9h0M1016.4 237.8h0M986.1 239.7h0M1004.6 176.3h0M949.3 177.7h0M887.6 189.4h0M1031 219.6h0M931.1 160.7h0M977.3 209.9h0M1009.5 156.7h0M919.2 224.2h0M933.5 214.4h0M1013.8 188.1h0M873.4 185h0M977.9 152h0M992.4 132.1h0M926.4 103.7h0M1001.5 113.2h0M1016.2 208.3h0M897.1 186h0M944.3 152h0M887.4 153.7h0M999.3 176.3h0M944.8 122.5h0M938.3 104.4h0M925.2 167h0M914.2 199.3h0M905.2 190.9h0M883.7 170.4h0M913.7 175.3h0M940.8 134.8h0M899.2 119.6h0M1000.4 142.5h0M1013.8 168.1h0M1031 195h0M923.4 161.8h0M963.5 154.3h0M891.8 193.4h0M1005.9 197.5h0M941.9 150h0M875.4 168.2h0M933.9 230.1h0M1017.6 124.8h0M986.5 134.1h0M992.8 206.1h0M900.4 119.5h0M881.9 167.6h0M884.6 181.9h0M969.9 168.7h0M959.5 140.3h0M1023.2 154.8h0M989 199.5h0M909.7 215.8h0M978.2 160.5h0M987.4 168.7h0M963.7 213.6h0M960.8 226.4h0M1028.4 177.9h0M882.1 172.7h0M910.8 140.1h0M935.2 156.9h0M951.9 198.2h0M883.3 198.1h0M1029.5 148.6h0M980.9 169.6h0M987.3 138h0M959.6 250.1h0M903.1 138.4h0M976.4 203.9h0M919 218.4h0M920.4 167.2h0M905 199.2h0M926.2 163.6h0M1022.4 140.8h0M927.3 152.9h0M993.6 184.8h0M951.4 147.3h0M929 151.6h0M983.3 224.1h0M942.7 144.1h0M1005.7 121.7h0M1018.4 202.2h0M1032 208.5h0M961 155h0M1000.4 132.5h0M939.1 221.4h0M921.9 179.9h0M888.2 142.2h0M994.7 124.1h0M1016.2 146.1h0M976.6 147.9h0M873.5 186.8h0M909.3 140.2h0M1000.7 176.5h0M930.3 202.4h0M888.3 156.9h0M993.5 229h0M947.8 199h0M922.2 145.2h0M946.6 129h0M953.5 128.8h0M900.4 188.9h0M1016 208.5h0M973.8 226.7h0M971.3 143.1h0M985.4 198.2h0M903.8 149.7h0M962.9 158.1h0M887.4 234.4h0M930.5 150.5h0M932 154.6h0M993.4 234.7h0M910 184.6h0M913.4 234.5h0M1010.4 217.4h0M940.9 114.2h0M936.4 116h0M898.7 151.4h0M1026 141.1h0M897 183.8h0M1013 203.3h0M1006.9 208.8h0M899.2 130.3h0M979.6 165.7h0M993.8 256h0M941.4 237.5h0M1027 219.3h0M963.2 225.6h0M885.5 171.3h0M964.2 156.7h0M1028.9 213.5h0M957.2 110.2h0M964.1 157.2h0M931.9 204.8h0M977.6 209.5h0M931.4 136h0M914.4 155.3h0M938.2 122h0M909.6 113.7h0M987.6 131.9h0M948 156h0M991.4 166.9h0M902.9 243.7h0M963.6 199.6h0M947.2 178.4h0M891.9 219.3h0M950.2 188.8h0M963 160.2h0M990 207.1h0M940.3 256.2h0M1029.1 142.3h0M888.7 154.2h0M951.7 157.9h0M1009.7 214.1h0M891.6 230.8h0M923.8 154.7h0M958.5 259.3h0M974.9 241.6h0M871.1 209.9h0M962.6 115.8h0M979.6 178.5h0M984.5 164.8h0M900.5 164.8h0M930.8 201.7h0M966.9 178.9h0M936 115h0M1008.7 220.7h0M939.4 184.2h0M984.9 108.2h0M993.7 191.4h0M985.5 167.6h0M966.2 177.5h0M947.7 228.6h0M923.4 255h0M1012.4 214h0M946.4 219.5h0M892.7 166.2h0M1025.5 217.3h0M1015.1 217.9h0M948 253.6h0M976.1 249.6h0M1008.8 174h0M932.7 112.8h0M987.6 190.8h0M896.2 122.7h0M953.6 183.6h0M946 132.6h0M985.5 164.8h0M876.4 179.8h0M964.8 119.1h0M924.5 169.3h0M992.4 212.4h0M967.8 114.5h0M877.2 163.3h0M921.9 144.7h0M875.5 187.1h0M939.9 242.3h0M884.8 168.3h0M935.6 101.2h0M879 164.6h0M944.8 222.4h0M908.4 219h0M939.8 250.8h0M991.1 178.6h0M883 147.5h0M958.7 111.4h0M918.5 178.5h0M985.3 166.2h0M914.6 181.8h0M897.9 163.9h0M987.8 209.2h0M953.4 234.5h0M928.9 261.2h0M965.2 260.9h0M1008 168.7h0M1023.3 204.6h0M1016.1 148.8h0M972.1 165.9h0M988.4 110.9h0M1017.9 183.1h0M920.1 191.8h0M988.7 175.3h0M1013 229.8h0M887.6 217.7h0M878.9 224.1h0M960.7 114.5h0M968.6 166.4h0M877.4 197.2h0M915.5 196.8h0M951.6 116.8h0M929.4 119.3h0M1024.7 168.8h0M977 182.8h0M921.6 126.5h0M926.1 126.4h0M876.2 174.9h0M989.3 146.6h0M917.2 157h0M981.5 206.4h0M940.2 144.4h0M924.4 177.7h0M917.1 173.1h0M926.4 164.6h0M932.8 247.5h0M914 192.7h0M987.4 193.6h0M949.9 119.7h0M905.9 167h0M871.7 193.6h0M1022.6 229.4h0M900.6 211.7h0M932.7 196.1h0M971.2 176.6h0M895.8 244.3h0M921 209.1h0M905.4 177.3h0M998 204.9h0M943.3 182.4h0M1016.6 202.3h0M988.6 114.5h0M966.9 212.6h0M960.2 214.5h0M904 160.7h0M930.4 241.1h0M999.6 162.6h0M1027.2 218.3h0M979.4 219.3h0M977.9 168.8h0M961.4 160.5h0M905.3 138h0M1019.8 235.8h0M990.3 113.6h0M1019.4 218.6h0M936.9 189.4h0M868 172.9h0" stroke="#0000ff" stroke-width="8.2" stroke-linecap="round" fill="none"/><rect x="701.2" y="5" width="493.5" height="389.6" fill="none" stroke="#2b2b2b" stroke-width="1.8"/><path d="M701.2 394.6v-6.0M701.2 5v6.0M762.9 394.6v-6.0M762.9 5v6.0M824.6 394.6v-6.0M824.6 5v6.0M886.3 394.6v-6.0M886.3 5v6.0M948 394.6v-6.0M948 5v6.0M1009.6 394.6v-6.0M1009.6 5v6.0M1071.3 394.6v-6.0M1071.3 5v6.0M1133 394.6v-6.0M1133 5v6.0M1194.7 394.6v-6.0M1194.7 5v6.0M701.2 394.6h6.0M1194.7 394.6h-6.0M701.2 342.7h6.0M1194.7 342.7h-6.0M701.2 290.7h6.0M1194.7 290.7h-6.0M701.2 238.8h6.0M1194.7 238.8h-6.0M701.2 186.8h6.0M1194.7 186.8h-6.0M701.2 134.9h6.0M1194.7 134.9h-6.0M701.2 82.9h6.0M1194.7 82.9h-6.0M701.2 31h6.0M1194.7 31h-6.0" stroke="#2b2b2b" stroke-width="1.8" fill="none"/><g font-family='"Liberation Sans", sans-serif'><text x="701.2" y="417.1" font-size="14.9" text-anchor="middle" fill="#2b2b2b">-4</text><text x="762.9" y="417.1" font-size="14.9" text-anchor="middle" fill="#2b2b2b">-3</text><text x="824.6" y="417.1" font-size="14.9" text-anchor="middle" fill="#2b2b2b">-2</text><text x="886.3" y="417.1" font-size="14.9" text-anchor="middle" fill="#2b2b2b">-1</text><text x="948" y="417.1" font-size="14.9" text-anchor="middle" fill="#2b2b2b">0</text><text x="1009.6" y="417.1" font-size="14.9" text-anchor="middle" fill="#2b2b2b">1</text><text x="1071.3" y="417.1" font-size="14.9" text-anchor="middle" fill="#2b2b2b">2</text><text x="1133" y="417.1" font-size="14.9" text-anchor="middle" fill="#2b2b2b">3</text><text x="1194.7" y="417.1" font-size="14.9" text-anchor="middle" fill="#2b2b2b">4</text><text x="694.7" y="399.8" font-size="14.9" text-anchor="end" fill="#2b2b2b">-4</text><text x="694.7" y="347.9" font-size="14.9" text-anchor="end" fill="#2b2b2b">-3</text><text x="694.7" y="295.9" font-size="14.9" text-anchor="end" fill="#2b2b2b">-2</text><text x="694.7" y="244" font-size="14.9" text-anchor="end" fill="#2b2b2b">-1</text><text x="694.7" y="192" font-size="14.9" text-anchor="end" fill="#2b2b2b">0</text><text x="694.7" y="140.1" font-size="14.9" text-anchor="end" fill="#2b2b2b">1</text><text x="694.7" y="88.1" font-size="14.9" text-anchor="end" fill="#2b2b2b">2</text><text x="694.7" y="36.2" font-size="14.9" text-anchor="end" fill="#2b2b2b">3</text><text x="948" y="439.6" font-size="16.4" text-anchor="middle" fill="#2b2b2b">Feature 6</text><text transform="translate(673.5,199.8) rotate(-90)" font-size="16.4" text-anchor="middle" fill="#2b2b2b">Feature 7</text></g>
<path d="M296.7 674.4h0M303.6 679h0M274.7 705.6h0M282.4 713.5h0M309.1 710.7h0M251 718.5h0M271.1 728.2h0M275.7 731.8h0M281.6 856.9h0M288 865.2h0M283.4 872.5h0M301.7 860.6h0M269.7 886.6h0M299.5 890.5h0M305.4 950.5h0M309.9 918.3h0M245.9 831.3h0M249.5 799.2h0M245.9 801.4h0M304 679h0M333.9 679.9h0M396.6 664.6h0M400.9 664.9h0M468.6 662.5h0M320.7 692.4h0M329.3 692.1h0M315.5 703.4h0M329.3 703.4h0M310 711.1h0M327 716.8h0M320.1 722.7h0M344.9 710.4h0M361 700.7h0M357.4 708h0M363.2 713.5h0M358.6 718.1h0M372.7 719.9h0M398.1 695.6h0M420.1 694.2h0M423.7 692.1h0M458.6 695.6h0M391.6 708.4h0M393.5 715.3h0M389.8 717.2h0M409.6 705.3h0M406.3 709.8h0M405.5 715h0M402.7 720.9h0M421.9 712.6h0M429.1 702.5h0M432.9 706.2h0M444 719h0M339.3 723.6h0M386.2 728.2h0M414.5 726h0M465.8 746.5h0M465.8 774.9h0M465.8 784.1h0M466.8 793.3h0M457.6 752h0M466.8 795.5h0M456.8 795.9h0M455.8 810.2h0M457.6 813.8h0M444.8 818.4h0M450.4 819.4h0M448.9 831.3h0M460.4 843.2h0M459.4 848.3h0M444.3 850.5h0M451.8 864.8h0M431.6 843.2h0M429.8 850.2h0M427.8 860.1h0M406 864.3h0M409.1 859.7h0M415.8 864.8h0M415.2 872.9h0M392.1 871.2h0M388.8 852h0M407.6 885.9h0M419.1 899.5h0M381.9 878.4h0M371.6 882.6h0M372.9 879.5h0M360.1 882.6h0M349.2 885h0M344.6 888.7h0M345.3 899.7h0M363.2 858.2h0M369.6 859.3h0M367.8 846h0M371.6 847.4h0M361 830.9h0M316.1 869.4h0M334.9 863.7h0M333.9 857.5h0M332.6 854.2h0M324.7 853.3h0M312.5 918.9h0M420.6 931.8h0M406.6 943.1h0M340.3 842.6h0M420 806h0M407.8 805.2h0M279.5 796.2h0M304.6 749.6h0M423.9 756.3h0M399.5 732.5h0M333.9 757h0M407.4 733.9h0M398.1 832.4h0M420.7 736.9h0M412.2 743.3h0M401.7 813.3h0M394.9 797.2h0M430.1 783.8h0M334 743.9h0M384.9 834.9h0M456.1 803.7h0M396.9 762.3h0M413.3 811.1h0M291.1 803.7h0M309.4 829h0M427.6 742.2h0M266 797.1h0M372.3 745.9h0M271.1 816.8h0M385.8 776.4h0M434.3 794.6h0M399 759.6h0M400.6 783.5h0M390.7 772.5h0M444.4 732.2h0M370.3 789.4h0M377.2 792h0M423.8 781.1h0M412.1 778.7h0M295.9 840h0M294.1 780.5h0M418.8 765.2h0M316.1 831.2h0M440 841.4h0M404.5 759.4h0M413.9 783.1h0M431.5 791.4h0M371.5 778.9h0M399.4 776.7h0M418.5 750.6h0M423.8 808.4h0M391.4 742.8h0M389.7 832.9h0M390.3 820.4h0M397.2 767.7h0M419.5 777.9h0M362.5 829.9h0M285 807.9h0M447.6 777.8h0M448.2 832.2h0M416.1 744.5h0M373.4 807.2h0M414.6 806.8h0M434.6 778h0M440.6 818.9h0M443.4 814.1h0M427 784.7h0M415 746.8h0M288.9 807.7h0M436.4 779.8h0M355.1 817.8h0M318.9 774.8h0M322.8 847.2h0M428.5 756.1h0M406.1 742.8h0M351.5 745.2h0M452.5 812.9h0M393.1 799h0M416.3 745.8h0M436.8 775.9h0M406.2 767h0M424.1 772.7h0M387.4 796h0M280.2 810.2h0M416.2 832.2h0M366 793.9h0M341.6 738.8h0M359.3 806.4h0M323 843.8h0M369.3 757h0M418.4 818.7h0M418.6 822.7h0M359.1 793.1h0M407.6 835.2h0M329.5 819.2h0M410.6 815.6h0M436.5 836.2h0M403.7 775.1h0M356.2 736.4h0M428 789.1h0M386.5 785.9h0M437.7 765.4h0M424 766.2h0M387.5 826h0M417.1 838.5h0M453.5 808.3h0M427.4 824.3h0M434.8 814.6h0M408.4 815.3h0M407 822.6h0M429.2 807.1h0M413.3 752.6h0M292.2 811.2h0M385.6 735.8h0M437.4 757.8h0M425.4 834.6h0M430.9 834.3h0M423.8 808h0M411.7 794.8h0M448.4 783.5h0M328.5 754.7h0M435 810.3h0M417.3 838.5h0M418.3 749.2h0M412.5 782.8h0M441.6 820.1h0M383.8 830.8h0M451.6 822.2h0M359.7 763.8h0M447.4 753.1h0M446.8 777.7h0M420.7 753.4h0M333.5 838.2h0M389.2 731.2h0M431.2 814.7h0M365.3 764.2h0M336.8 837.5h0M298.7 831.2h0M378.9 794.3h0M400.2 743.4h0M416.5 800.9h0M454.6 770.7h0M293 822.3h0M285.5 788.3h0M413.9 779.2h0M287 748h0M354.5 797.9h0M425.2 764.1h0M366.5 795h0M415 801.6h0M441.6 758.1h0M417.5 740.6h0M422.8 844.4h0M373 809.1h0M319.4 730.6h0M461.2 793h0M316.3 842.2h0M275.8 730.2h0M450.9 751.6h0M368.6 844.5h0M430 775.4h0M264.6 831h0M334.6 733.4h0M421.7 788.9h0M418.6 774.5h0M415.7 758h0M396.5 766.5h0M292.5 794.8h0M412.3 841.7h0M417 797.3h0M380.5 791.8h0M377.6 825h0M395.5 832.9h0M411.2 742h0M420.7 796.9h0M398.7 786h0M269.3 832.3h0M351.1 770.8h0M416 804.6h0M360.6 786.7h0M450.7 737.8h0M322.7 791.3h0M395.1 768.1h0M313 785.8h0M377.9 814.7h0M430.3 823.3h0M380.3 793.4h0M405.9 794.3h0M362.3 774h0M284.7 790.4h0M270.5 781.8h0M461.8 811h0M416.8 779.1h0M399.5 769.7h0M422.3 783.9h0M420.8 813.4h0M439.5 768.6h0M331.5 773.8h0M400.6 805.3h0M428.5 756.5h0M381.2 817.6h0M395.6 775.9h0M433.2 783.1h0M416.1 824.4h0M416.6 815.5h0M398.1 746.6h0M410.9 831.6h0M446.7 821.5h0M356.9 830.4h0M449.9 778.4h0M271.5 745.7h0M422 770.3h0M386 817h0M432.3 769.6h0M402.5 777h0M406.9 770.6h0M298.7 806.5h0M389.8 785.7h0M411.9 796.1h0M448.8 765.1h0M445.3 833.5h0M418.5 842.4h0M412.9 789.7h0M453.9 755.4h0M315.3 781.2h0M358.6 831.9h0M358 746.7h0M434.9 762.9h0M292.8 835.9h0M395 809h0M392.7 734.9h0M303.3 781.1h0M423.3 790h0M390.7 833.6h0M444.1 821.1h0M418.7 783.7h0M338 777.1h0M459 753.2h0M441.1 827.9h0M437.8 792.4h0M355.3 780.2h0M429.2 743.1h0M447.5 827h0M444.4 843.3h0M373.5 840.9h0M288.2 757.8h0M299 730.8h0M433.5 777h0M338.8 839.8h0M270.2 803.7h0M382.3 739.9h0M429 751.2h0M348.6 765.3h0M362.6 792.6h0M409.3 758.8h0M396.2 798.9h0M406.2 829.7h0M370.7 840h0M427.7 759.2h0M395.7 795.2h0M404.3 749.2h0M423.1 772.7h0M377.1 770.1h0M315 788.4h0M409.2 800.6h0M429.6 799.9h0M345.6 830.4h0M409.2 832.1h0M411.1 828.8h0M418.8 844h0M393.9 808.6h0M321.3 780h0M311.8 805.8h0M415.1 758h0M453.7 760.4h0M410.5 730.2h0M359.9 791.3h0M366.2 838.9h0M441.9 736.5h0M426.4 794.7h0M413 751.4h0M311 787h0M389.4 793.2h0M432.6 793.9h0M373.6 813.8h0M330.2 775.6h0M408.9 739.4h0M409.4 778.3h0M442.8 793.3h0M359.9 789.9h0M407.1 747h0M304.2 782.9h0M439.6 773.5h0M435 805.4h0M368.9 826.4h0M363.9 808.9h0M434.5 791.2h0M299.3 841.7h0M400.3 777.1h0M444.3 787.8h0M354.1 769.9h0" stroke="#ff0000" stroke-width="8.2" stroke-linecap="round" fill="none"/><path d="M203.6 656.1h0M188.6 663.3h0M204.9 668.4h0M286.2 668.6h0M310 675h0M147.7 691.2h0M162.8 693.3h0M168.7 698.8h0M184.9 694.8h0M200 693.7h0M225.2 696.6h0M292.6 690.1h0M305.9 697.9h0M197.7 704.4h0M201.8 711.7h0M196 715.9h0M236 706.5h0M227 711.1h0M228.8 715.3h0M289.8 704.4h0M254.1 710.2h0M259.5 709.9h0M265.5 713.1h0M158.2 718.1h0M110.2 728.8h0M214.6 721.2h0M190.8 726.4h0M135.8 724.5h0M139.5 728.2h0M133 732.2h0M155.1 730h0M159.4 728.2h0M284.4 719.9h0M288 722.7h0M279.5 724.5h0M299 730h0M306.3 730h0M126.6 752h0M133 755.3h0M126.6 771.8h0M127.6 765.8h0M109.9 807.1h0M126.3 807.1h0M113.8 815.7h0M119.4 820.3h0M117.6 823.9h0M115.3 837.1h0M118.4 850.2h0M136.8 836.8h0M140.9 838.6h0M145.1 850.5h0M149.7 848.3h0M153.3 865.2h0M152.6 867.6h0M138.6 879.3h0M133.5 886.6h0M170.1 882.6h0M174.3 865.2h0M166.9 855.7h0M188.2 854.2h0M197.9 883h0M206.4 877.6h0M214.1 885.3h0M208.6 888.1h0M207.4 900.4h0M176.6 906.8h0M188.5 908.3h0M208.2 859.1h0M210.7 853.8h0M201 849.6h0M218.3 846.8h0M232.6 843.8h0M249.5 859.1h0M258.7 869.2h0M265.6 867h0M265.6 860.6h0M257.7 855.7h0M260.5 850.5h0M250.3 836.4h0M257.7 841.4h0M262.3 833.7h0M279.5 866.1h0M281.1 875.3h0M284.4 901h0M292.6 904h0M310.5 675.4h0M305.8 697.9h0M340 728.2h0M358.6 729.6h0M315.1 726.7h0M348 752.4h0M321.1 845h0M333.9 844.6h0M311.9 841.4h0M134.9 800.9h0M211.8 783.4h0M151.8 752.2h0M226.3 778.8h0M173.7 845.5h0M161.1 823.6h0M174.3 817.5h0M145.7 797.2h0M177 790.6h0M143.6 808.1h0M134 777.8h0M212.9 753.8h0M184.8 842.5h0M324.1 741.8h0M199.4 842.4h0M252.3 757.4h0M202.6 818.4h0M218.5 808.1h0M175.6 759h0M268.8 776.9h0M149.3 745h0M165 836.1h0M189.5 840.2h0M195.5 847.2h0M176.1 810.5h0M218.2 814h0M118.9 798.7h0M184.6 811.4h0M316.5 814.1h0M282.7 783.8h0M187.2 834.7h0M229.2 818.8h0M145.3 786.4h0M166.2 768.2h0M138.3 776.2h0M143.2 838.8h0M189.9 814.7h0M232.9 774.3h0M249.7 764.9h0M290.2 782.4h0M147.6 805.2h0M119.6 809.3h0M226 827.4h0M283 807.2h0M183.2 736.2h0M147.3 844.9h0M154.2 819.5h0M237.3 744h0M159.2 807.7h0M172.5 800h0M298.1 787h0M208.5 769.7h0M192.1 776.6h0M221.6 815.1h0M158.2 788.7h0M250.8 756.2h0M154.5 797.9h0M230.1 747h0M316.1 795.6h0M149.4 788.5h0M263 798.2h0M217.6 797.9h0M257.2 842.4h0M284.2 753.4h0M244.9 821.2h0M267 835.4h0M270.7 757.6h0M235.9 823.4h0M179.5 832.9h0M179.8 805.3h0M282.4 774.9h0M206.4 743.4h0M262.8 805.1h0M191.8 803.9h0M212.4 827.9h0M213.6 787.9h0M172.4 805.9h0M171.1 802.4h0M215.8 790.7h0M166 802.9h0M330.9 841.2h0M202.7 822.7h0M267 781h0M143 730.4h0M234.9 820h0M204.1 798.4h0M241.5 798.9h0M208.7 763.2h0M231.7 762.6h0M137.9 792.3h0M288.9 823.6h0M166 746.2h0M197 730.2h0M217.5 752.7h0M168 807.3h0M182.9 790.9h0M260.8 815.2h0M258.4 791.3h0M309.7 763.2h0M155.6 818.8h0M170.2 790.9h0M219.9 753.5h0M157.4 764.2h0M248.2 745.2h0M164.2 830.5h0M228.4 806.5h0M202.1 753.2h0M265 749.6h0M174.8 822.4h0M192.5 762.8h0M169.3 753.4h0M205.5 778.4h0M170.3 734.6h0M232.8 812h0M326.5 754.7h0M164.6 813.9h0M257.6 846.6h0M198.2 822.5h0M217.2 846.8h0M202.5 744.5h0M249.3 840.4h0M140.5 772.1h0M283.6 786h0M278 818.1h0M179.1 771.3h0M196.8 763.5h0M127.5 832h0M202 764h0M159.3 772.3h0M188.5 823.6h0M270.1 804.7h0M190.6 771.2h0M314.1 831.9h0M197.4 840.3h0M268 774.7h0M178.5 777.5h0M323.5 766.5h0M189.3 801h0M319.6 791.7h0M153.1 790h0M218.2 845.7h0M212.1 774.7h0M187 803.2h0M122.4 770.6h0M227.6 786.4h0M157.1 774.6h0M242.3 802h0M173.8 803.9h0M241.9 782.6h0M131 776h0M145.4 825.8h0M142.1 788h0M201.1 739.9h0M204.7 794h0M169.4 751.4h0M184.1 731.8h0M239.4 825.2h0M160.9 819.4h0M159.1 791.8h0M202.1 780.1h0M252.9 730.5h0M152.9 780.2h0M216.1 800.2h0M253.5 823.1h0M273.6 783.3h0M141.4 791.5h0M193.2 785.8h0M199.2 743.8h0M152.4 821.9h0M176.5 830.5h0M306.1 794h0M311.6 757.7h0M158.6 815.2h0M130.6 817.6h0M181.6 802.2h0M186 846.7h0M240.1 752.2h0M190.3 756h0M170.9 815.5h0M162.1 767.4h0M133.2 834h0M229.8 769h0M153.5 814.5h0M211.2 782.3h0M297.2 774.7h0M230.4 748.7h0M204 793.9h0M250.8 800.8h0M184 735.2h0M186.1 805.2h0M179.8 804.8h0M179.3 841.5h0M168 832.1h0M181.6 821.2h0M205.5 818.2h0M189.3 785.2h0M152 833.1h0M297.9 764h0M308.8 763.5h0M291.7 835.2h0M160.5 843.8h0M192.2 780.3h0M328.9 807.2h0M218.5 838.8h0M275.9 767.8h0M199.2 739.9h0M177.1 838.1h0M186.9 805.7h0M289.9 839.5h0M209.5 730.8h0M217.6 750.6h0M169.7 770.2h0M234.3 802.3h0M296.7 810.3h0M157.1 769.4h0M205.4 839.6h0M234.7 788.2h0M204.2 773.4h0M118.7 801.7h0M173 771h0M172.7 804.7h0M188.4 800.2h0M193.6 758.8h0M143.4 804.1h0M290.7 819.7h0M195.2 818.2h0M269 781.6h0M258.2 807.9h0M165.8 739h0M320.5 770.9h0M210.1 803.7h0M183.7 758.3h0M246.6 809.8h0M180.3 840.4h0M198.8 809.4h0M208.7 828.5h0M202.5 753.3h0M155.1 755.3h0M172.1 814.4h0M222.5 749.2h0M184.5 758.4h0M215.2 804.3h0M246.5 744.4h0M245.5 805.7h0M180.8 820.1h0M151.6 781.4h0M208.6 777.7h0M182.8 801.9h0M178.7 768.3h0M220.1 738.6h0M153.7 745.6h0M182.7 763.7h0M198.5 818.9h0M319 832.1h0M207.5 769h0M245 803h0M151.9 757h0M194.8 818.9h0M195.7 784h0M169.1 796.1h0M171.8 737.2h0M227.3 839h0M198.4 760.2h0M300 785.3h0M208.2 784.2h0M275.3 776.1h0M170.4 746.9h0M215.5 782.8h0M295.1 789.1h0M168.5 800.6h0M187.5 845.3h0M162.4 773.1h0M243.3 748.2h0M134.9 804.6h0M210.1 810.1h0M178.2 791.5h0M253.9 810.7h0M171.8 753.4h0M202.8 749.1h0M169.9 825h0M168.8 788.7h0M161 770.3h0M268.4 745.7h0M141.2 823.2h0M312.8 798.4h0M175.2 759h0M181 833.5h0M268.7 743.1h0M210.5 739.9h0M241.2 759.6h0M172.6 780.2h0M168.9 790h0M156.3 781.7h0M160.2 747.3h0M173.6 765.8h0M161.4 837.7h0M182.5 749.7h0M200.2 800.8h0M292 779.4h0M223.8 827.8h0M160.7 795.4h0M127 812.8h0M219.4 738h0M185.3 785.4h0M182.7 799.7h0M135.4 836.2h0" stroke="#0000ff" stroke-width="8.2" stroke-linecap="round" fill="none"/><rect x="48" y="593.5" width="493.5" height="390.5" fill="none" stroke="#2b2b2b" stroke-width="1.8"/><path d="M48 984v-6.0M48 593.5v6.0M130.2 984v-6.0M130.2 593.5v6.0M212.5 984v-6.0M212.5 593.5v6.0M294.8 984v-6.0M294.8 593.5v6.0M377 984v-6.0M377 593.5v6.0M459.2 984v-6.0M459.2 593.5v6.0M541.5 984v-6.0M541.5 593.5v6.0M48 984h6.0M541.5 984h-6.0M48 935.2h6.0M541.5 935.2h-6.0M48 886.4h6.0M541.5 886.4h-6.0M48 837.6h6.0M541.5 837.6h-6.0M48 788.8h6.0M541.5 788.8h-6.0M48 739.9h6.0M541.5 739.9h-6.0M48 691.1h6.0M541.5 691.1h-6.0M48 642.3h6.0M541.5 642.3h-6.0M48 593.5h6.0M541.5 593.5h-6.0" stroke="#2b2b2b" stroke-width="1.8" fill="none"/><g font-family='"Liberation Sans", sans-serif'><text x="48" y="1006.5" font-size="14.9" text-anchor="middle" fill="#2b2b2b">-1.5</text><text x="130.2" y="1006.5" font-size="14.9" text-anchor="middle" fill="#2b2b2b">-1</text><text x="212.5" y="1006.5" font-size="14.9" text-anchor="middle" fill="#2b2b2b">-0.5</text><text x="294.8" y="1006.5" font-size="14.9" text-anchor="middle" fill="#2b2b2b">0</text><text x="377" y="1006.5" font-size="14.9" text-anchor="middle" fill="#2b2b2b">0.5</text><text x="459.2" y="1006.5" font-size="14.9" text-anchor="middle" fill="#2b2b2b">1</text><text x="541.5" y="1006.5" font-size="14.9" text-anchor="middle" fill="#2b2b2b">1.5</text><text x="41.5" y="989.2" font-size="14.9" text-anchor="end" fill="#2b2b2b">-4</text><text x="41.5" y="940.4" font-size="14.9" text-anchor="end" fill="#2b2b2b">-3</text><text x="41.5" y="891.6" font-size="14.9" text-anchor="end" fill="#2b2b2b">-2</text><text x="41.5" y="842.8" font-size="14.9" text-anchor="end" fill="#2b2b2b">-1</text><text x="41.5" y="794" font-size="14.9" text-anchor="end" fill="#2b2b2b">0</text><text x="41.5" y="745.1" font-size="14.9" text-anchor="end" fill="#2b2b2b">1</text><text x="41.5" y="696.3" font-size="14.9" text-anchor="end" fill="#2b2b2b">2</text><text x="41.5" y="647.5" font-size="14.9" text-anchor="end" fill="#2b2b2b">3</text><text x="41.5" y="598.7" font-size="14.9" text-anchor="end" fill="#2b2b2b">4</text><text x="294.8" y="1029" font-size="16.4" text-anchor="middle" fill="#2b2b2b">Feature 2</text><text transform="translate(21,788.8) rotate(-90)" font-size="16.4" text-anchor="middle" fill="#2b2b2b">Feature 3</text></g>
<path d="M885.8 761.9h0M878.3 744.5h0M870 753.6h0M898.1 780.7h0M878.6 774.7h0M865.1 792.4h0M879.8 774.4h0M875.5 776h0M858.8 743.6h0M871.2 779.5h0M868.1 809.8h0M844.1 790.6h0M868.1 780.2h0M866.8 800.7h0M864.8 796.2h0M848.9 790.4h0M866.4 782.9h0M870.7 791h0M872.9 802.7h0M856.9 782.1h0M880.4 800.5h0M856 800.9h0M869.3 813.4h0M889.7 805.5h0M863.1 786h0M865.8 818.1h0M887.1 798.2h0M867.7 787.5h0M869 802.8h0M876 794.7h0M887.2 814h0M843.9 781.1h0M862.6 785.7h0M860.5 798.5h0M859.5 825.9h0M863.3 818.9h0M863.6 791.7h0M879.8 785h0M864.2 805.1h0M878.1 793.7h0M882.8 821.9h0M868.1 816.9h0M879.7 814.8h0M900.7 811.9h0M883.9 840.1h0M871.2 806.6h0M878.9 801.6h0M867.9 836h0M883.7 839h0M892 816.7h0M869.8 830.7h0M878.1 854.6h0M895.8 811.6h0M874.6 820.9h0M883.8 829.7h0M868 794.9h0M870.8 822.1h0M875 834.6h0M910.5 824.2h0M878.4 842.6h0M877.1 839.4h0M877.7 825.8h0M883.2 839.2h0M893.9 838h0M888.3 809.8h0M912.5 821h0M888.8 822h0M905.8 827.6h0M891 828.8h0M895.4 815.8h0M868.8 836h0M887.9 813.8h0M888.7 852.2h0M886.5 842.8h0M861.8 858.3h0M902.9 847h0M887.1 836.2h0M886.5 823.5h0M889.4 853.1h0M889.8 844.1h0M898 849.1h0M877 855.3h0M881.8 862.1h0M898 845.5h0M897.2 871.5h0M891.2 847.4h0M889 849.1h0M885.7 858.5h0M896.3 864.1h0M913.1 870.1h0M884.8 826.5h0M924.2 877.6h0M915.6 838.1h0M899.7 852.2h0M916.7 866.5h0M888.4 878.1h0M885.1 848.1h0M891 839h0M902.7 875.7h0M905.7 868.9h0M903.8 851h0M912 861h0M883.3 838.5h0M917.7 873.9h0M893 858.8h0M903.2 883.7h0M906.9 838.4h0M897.7 877.4h0M896.1 898.7h0M900.9 870.3h0M914.4 871.1h0M922.6 843.3h0M922.6 874.5h0M902.8 870.3h0M906.5 862.9h0M905.2 849.6h0M924 873.1h0M891.9 858.1h0M934.3 865.2h0M915.4 879h0M912 874.3h0M926.8 875.1h0M937.2 889.1h0M928.4 860h0M938.2 896h0M926.3 861.1h0M941.2 864.6h0M941.9 879.2h0M925.5 889.1h0M946 882.1h0M930.2 873h0M931.1 870.6h0M918.6 877.2h0M927 867.6h0M941.1 889h0M914.9 878.7h0M940.5 903.5h0M936.9 871.8h0M936.5 880.4h0M906.3 889.4h0M936.5 869.5h0M946.6 876.1h0M929.3 924.6h0M944.8 887.7h0M913.8 908.6h0M953.5 874.2h0M936.6 854.9h0M957.6 896.6h0M922.7 888.5h0M955.9 893.2h0M944.7 885.3h0M958.4 881.3h0M938.3 873.5h0M943.1 904.9h0M981 870.3h0M942.7 905h0M946.8 889.4h0M952.5 877.4h0M943.3 883.6h0M972.5 906.4h0M979.5 903.2h0M948.2 900h0M935.9 894.6h0M975.6 878.9h0M975.8 912.5h0M973 888.8h0M977.5 886.8h0M951.5 887.6h0M961.2 889h0M948.4 875.4h0M949 889.7h0M981.7 885h0M960.3 889h0M998.6 872.2h0M971.3 923h0M963.5 879.8h0M983 901h0M996 901.3h0M979 910.7h0M957.2 923.1h0M979.6 903h0M992.7 907.2h0M968.9 891.2h0M965.5 918.1h0M989.1 878.4h0M978.6 894.4h0M962.5 901.5h0M972.1 907.9h0M969.6 909.2h0M983.6 914h0M981.2 906h0M995 898.5h0M990.1 901.1h0M960.8 918h0M986.5 902.3h0M992.8 910.9h0M988.7 896.6h0M996.3 873.3h0M975.9 890.3h0M971.2 903.2h0M995.9 921.1h0M974.2 918.5h0M960.4 922.2h0M1002.1 889.3h0M980.1 909.7h0M986.6 898.4h0M972.8 907.8h0M977.2 898h0M980.6 880.1h0M991.4 908.6h0M1002.8 903.8h0M968.8 910.2h0M1008.9 887.1h0M986.1 913h0M988.2 914.4h0M1011.1 917.9h0M1001.6 918.1h0M989.2 891.7h0M1034.2 862.8h0M999.6 911.5h0M1015.5 884.6h0M1015.1 894.2h0M1030.9 912.7h0M1007 901.3h0M1026.7 900.6h0M1005.7 906.5h0M1029.9 870.7h0M1005.6 923.1h0M1011.1 891.8h0M1041.7 892.2h0M1021.7 904.5h0M1020.5 894.2h0M1048.4 884.2h0M1024.6 894h0M1009.7 890.3h0M1030.3 886.4h0M1006.6 923.4h0M1038.1 875h0M1039.1 864h0M1016.8 881.6h0M1016.6 881h0M1027.3 914h0M1026.4 896h0M1014.5 905.2h0M1036 901.7h0M1002.7 880.2h0M1025.6 903.7h0M1026.8 894.3h0M1030.5 917.8h0M1038.1 893.9h0M1019.5 890h0M1043.1 900.8h0M1035 900.3h0M1029.7 864.3h0M1020.8 906.5h0M1023.4 904.2h0M1046.3 899.6h0M1029.9 871.8h0M1043.2 859.5h0M1057.7 882.9h0M1057.9 897h0M1065.7 892.6h0M1042.3 871.8h0M1032.6 898.5h0M1060 866.2h0M1052 866h0M1065.7 882.7h0M1053.2 873.7h0M1069 872h0M1065 860.7h0M1063.7 896.1h0M1061.7 865.1h0M1060.8 886.1h0M1061.3 889.7h0M1061.4 877.7h0M1071.4 882h0M1052 892.5h0M1081.7 900.4h0M1058.7 890.9h0M1073.7 857.6h0M1060 850.4h0M1058.1 868.3h0M1089.3 859.7h0M1059.6 882.6h0M1047.6 876.1h0M1055.8 870.5h0M1062.1 888.2h0M1094.3 886.9h0M1070.2 871.1h0M1079.9 876.6h0M1055.5 886.2h0M1073.9 865.6h0M1078.2 874.4h0M1093 856.7h0M1062.7 868.9h0M1080.7 871.9h0M1077 865.9h0M1060.7 869.2h0M1074.6 875.2h0M1071.4 871.5h0M1045.3 855.2h0M1083.4 856.4h0M1083.3 847h0M1071 887.4h0M1059.7 869.2h0M1096.7 869h0M1082.1 859.9h0M1092.2 868.1h0M1098.6 867.5h0M1073.6 849.8h0M1090.9 857.9h0M1077.7 875.8h0M1080.8 840.8h0M1080.5 845.4h0M1081.7 866.8h0M1096.2 847.6h0M1083.9 868.3h0M1080.9 842.2h0M1080.6 859.1h0M1089.4 866.2h0M1073.4 860.3h0M1078.6 865.5h0M1084.6 852.1h0M1078.3 852h0M1084.5 853.4h0M1078.2 861.4h0M1114.3 901h0M1106.5 848.4h0M1095.6 875h0M1090.3 844h0M1121.1 829.5h0M1097.4 840.4h0M1092.3 849.2h0M1097.5 846h0M1097.8 845.1h0M1112.6 849.9h0M1094.4 850h0M1122.8 853.1h0M1084.7 823.4h0M1105.5 839.2h0M1083.5 825.9h0M1120.2 842.2h0M1092.4 837.7h0M1096.2 840.6h0M1110.5 829.2h0M1115 824h0M1084.4 831.8h0M1094.9 843.3h0M1082.1 843.2h0M1103.7 806.4h0M1101 832.2h0M1098.2 831.4h0M1094.3 806.5h0M1098.5 810.9h0M1094.9 816.1h0M1111.5 828.7h0M1124.6 790.3h0M1080.5 816h0M1104.2 813.4h0M1100.3 823.1h0M1112.8 838.5h0M1095.2 834.5h0M1106.4 808.5h0M1094.9 808.6h0M1117.6 816.6h0M1110 829h0M1106.8 832h0M1114.3 815h0M1107 828.4h0M1090.9 793.4h0M1119.2 788.1h0M1115.7 763.3h0M1110.3 788.8h0M1125.1 808.8h0M1128.4 811.3h0M1098.6 846.2h0M1102.7 806.8h0M1132.9 800.9h0M1131.2 785.2h0M1103.6 788.4h0M1098.3 787h0M1105.6 790.8h0M1107.5 784.2h0M1093.5 772.9h0M1114.5 806.8h0M1098.1 794.9h0M1099.2 806.5h0M1126.8 764.7h0M1106.2 768.7h0M1114.1 776h0M1123.5 800.7h0M1126 780.6h0M1111.1 786h0M1116.1 781.4h0M1104.9 784h0M1138.4 773h0M1124.3 783.9h0M1101.9 762.9h0M1116.3 768h0M1125.6 771.5h0M830.7 800.3h0M834.4 819.8h0M890 891.5h0M1145.4 788.6h0M1135.5 844.6h0M941.8 935.7h0M966.5 934.4h0M1020.7 931.8h0" stroke="#ff0000" stroke-width="8.2" stroke-linecap="round" fill="none"/><path d="M754.5 838.9h0M776.6 814.8h0M762 824.4h0M773 819.2h0M786.3 806.9h0M785.5 800.8h0M802.2 794.1h0M779 812.8h0M761.8 793.1h0M772.1 786.6h0M770 786.4h0M766.2 782.1h0M787.7 802.8h0M773.9 800.8h0M756.7 786.6h0M791.7 813.2h0M781.3 791.2h0M787.6 800.1h0M784.5 796.6h0M791.3 815.3h0M783.9 802.3h0M799.5 789.5h0M789.1 776.7h0M789 773.3h0M789.7 785.6h0M766 785h0M782.9 792.9h0M781.8 775.6h0M787.8 784.5h0M767.7 771.9h0M806.6 755.8h0M786.8 780h0M769.8 799.9h0M763.4 791h0M782 799h0M784.5 795h0M776.8 759h0M787.6 772.7h0M778.4 795.6h0M794.6 763.1h0M778.1 754.6h0M787 776.7h0M800.6 779.6h0M821.8 773.3h0M776 763h0M783.1 758.1h0M778.4 750.1h0M799.7 749h0M774.7 749.2h0M783.6 745.9h0M789.6 755.3h0M777.5 784.7h0M778 764.8h0M784.4 758.5h0M763.3 767.9h0M771.9 750h0M785.5 766.8h0M793.4 773h0M789.7 738.9h0M769.5 748.6h0M787.5 752.3h0M804.6 741h0M801.8 738.2h0M794 747.3h0M783.6 785.2h0M803.5 760.4h0M788.4 756.3h0M782 760.8h0M787.2 743.9h0M816.4 730.3h0M800.6 753h0M812.9 761.5h0M792.3 717.1h0M810.8 750.9h0M791.1 761h0M797.4 740h0M832.6 735.7h0M810.5 750.7h0M794.1 730.3h0M800.2 746.5h0M805.8 752.1h0M818.2 735.4h0M796.7 726.5h0M780.8 745.2h0M799.8 731.9h0M804.1 736.9h0M805.8 696.3h0M821.5 744.5h0M808.5 715.9h0M815.8 734.2h0M791.1 735.1h0M817 722.9h0M836.1 716h0M819.1 710.7h0M812.6 723.3h0M812.9 733.9h0M834.6 732.3h0M799.8 717.5h0M810.7 716.1h0M818.3 704.7h0M822.5 717.4h0M807.3 708.6h0M817 702.2h0M809.7 720.4h0M815.3 742.4h0M812.1 738.2h0M799.3 741.4h0M814.7 698.9h0M826.4 732.2h0M802.9 703.4h0M812.5 711.9h0M824.8 695.9h0M803.8 704h0M820.3 718.8h0M805.8 718.4h0M835.8 712.9h0M851.8 710.9h0M848.4 720.2h0M820.5 712.3h0M833 689.8h0M825.1 734.9h0M824.9 708h0M844 723.6h0M807.6 708h0M839.7 697.9h0M825.9 709.7h0M845.7 697.5h0M834.5 725.9h0M825.9 687.1h0M838.9 710h0M846 692.4h0M837.4 698.1h0M843.2 736h0M830.9 710.5h0M810.7 696.6h0M850.6 677.9h0M850.4 693.7h0M843.3 694.1h0M842.6 716.7h0M855.8 677.4h0M836.9 672h0M833.7 696.3h0M840.6 699.6h0M860.5 717.4h0M829.2 682h0M863.6 656.6h0M840 683.7h0M834.5 676h0M865.4 685.7h0M848.1 706.4h0M833.4 674.2h0M846.7 708.8h0M864.2 694.4h0M867.8 687.6h0M847 679.2h0M857.8 685.6h0M861.9 686h0M844.8 701.4h0M858.3 708.4h0M854.3 689.5h0M848.5 699.6h0M851.6 706.7h0M859.5 705.9h0M859.5 695.1h0M853.3 713.1h0M855.5 706h0M876.8 709.4h0M865.8 684.4h0M875 681.1h0M879.8 659h0M873.4 706.4h0M895.2 695.2h0M855.2 673.4h0M879.7 687.8h0M865.7 689.1h0M895.3 660.9h0M893.5 688.8h0M846.4 699.9h0M859.3 702.1h0M881.7 679.1h0M883.4 679.6h0M883.6 702.3h0M874.4 696.7h0M884.9 675.1h0M887.9 674.5h0M880 690.9h0M894.4 673.5h0M853.8 673.9h0M891.7 706h0M870.7 685.8h0M896.9 675.8h0M882.3 689.2h0M873.8 710.6h0M893.5 684.9h0M878.1 670.6h0M878.2 659.3h0M870.5 710.8h0M891.1 645.1h0M898 696.2h0M904.9 667.7h0M890.8 663.8h0M906.5 667.3h0M893.4 678.6h0M892.2 696.5h0M901.2 672.1h0M908.7 690.4h0M891.3 715.1h0M893.1 641.9h0M894.8 670.9h0M898.4 655.7h0M887.9 693h0M913.1 660.5h0M899.2 659h0M912.2 659.6h0M897.7 681.3h0M915 697.7h0M915.5 683.6h0M905.6 711.4h0M937.3 704.6h0M916.2 680.1h0M937.2 695.3h0M927 684h0M906.5 683.4h0M913.3 656h0M924.4 664.8h0M919.6 683.2h0M919.6 666h0M916.7 693.5h0M899 687.9h0M921.2 671.3h0M896.1 700.9h0M930.2 687.9h0M918.4 702.8h0M918.9 683.3h0M927.9 663.3h0M934.3 696h0M912.4 682.7h0M911.3 699h0M921.6 703h0M909.9 704.6h0M924 667.9h0M957.5 655.6h0M925.4 682.2h0M947.6 698.6h0M921.4 679.2h0M945.1 694.3h0M937.4 678.9h0M941.2 686.1h0M949.3 686.2h0M965.1 681.9h0M945.3 698.4h0M944.6 696.1h0M930.7 714.2h0M952 697.2h0M941.4 710.7h0M955.7 693.4h0M944.7 704.7h0M970 691.4h0M922.4 686.9h0M946.2 713.5h0M964.5 707h0M949.2 709.2h0M944.8 686.9h0M952.1 674.1h0M939.5 687h0M959.9 704h0M990.8 679.8h0M975.3 721.4h0M946.4 680.4h0M950.7 710.8h0M957.6 740.5h0M976.3 666.6h0M952.7 681.3h0M954.9 717.3h0M975.8 701.3h0M976.7 707.5h0M960.7 703.2h0M952.1 725.7h0M946.9 715.1h0M958.3 699.6h0M938.5 703.1h0M977.3 689.8h0M964.3 709.4h0M980 679.6h0M999.9 723.4h0M991.5 710.7h0M961.9 740.9h0M988.4 732.2h0M992.2 697h0M970.5 731.3h0M968.4 711.7h0M979.3 719.8h0M960.5 733.8h0M1000.9 725h0M951 727.6h0M967.8 727.3h0M978.9 710.5h0M981.2 714.1h0M986.3 730.9h0M988.4 736.3h0M983.6 721.9h0M1001.9 728.2h0M959.7 713h0M987.7 691.2h0M980.3 718.5h0M991.7 731.2h0M992.9 733.1h0M978.3 742.5h0M981.8 743.3h0M1000.8 745.2h0M996.2 738.6h0M984 740.7h0M1019.7 725.4h0M1023.7 741.8h0M975.1 739.4h0M998.9 755.1h0M1027.5 715.9h0M1005.4 731.9h0M998.2 714.5h0M992.7 728.2h0M989 719.8h0M993.4 743.7h0M989.5 731.4h0M1006.4 704.3h0M991.6 758.1h0M991.1 725.4h0M981.9 719.4h0M997 737.2h0M986.1 732.5h0M995.8 726.4h0M1011.8 753.3h0M1004.7 741.5h0M1006.8 760h0M1004.9 757.3h0M1001.8 758.1h0M999.6 752h0M998.3 750h0M1012.7 747h0M988.9 773.3h0M1020.4 726h0M1003.8 738.3h0M994.1 745.3h0M998.7 763.4h0M996.4 760h0M1007.3 751.3h0M996.3 754.2h0M1020.5 783.7h0M995.8 750.4h0M976.6 720.1h0M996.6 787h0M980.3 747.8h0M1006.3 757.9h0M1020.6 764.9h0M1015.5 744.7h0M989.8 780.6h0M997.3 761.9h0M1031.1 746h0M1012.6 770.7h0M1008.5 773.8h0M1022.2 766.5h0M1040.3 774.5h0M1026.7 751h0M1012.2 787.2h0M1015 762.3h0M1018.5 792.3h0M1003 767.1h0M997.3 778.1h0M1012.7 817h0M999.7 780.9h0M1011.5 797.3h0M1014.3 792.2h0M1043.5 764.8h0M1002.2 802.6h0M1011.9 802.7h0M1011.5 768.5h0M1019.4 788.2h0M1027.5 769.2h0M1008 788.8h0M1003.7 805.8h0M993.3 796h0M1002.7 778.9h0M1021.8 784.4h0M1015.5 798h0M1001.8 797.6h0M1010.1 800.2h0M1015.5 807.8h0M1021.7 773.5h0M1007.5 800.7h0M1011.9 816.8h0M991.7 808.6h0M1000.4 791.7h0M1036.4 794.4h0M987.1 806h0M1011.2 815.2h0M1018.4 805.8h0M1010.8 832.2h0M1005.3 828h0M1015 801.2h0M1015.7 819.2h0M1014.7 807.8h0M738.2 832.9h0M750.6 827.7h0M762.9 818.5h0M772.8 823.8h0M1052.8 799h0M923.3 726.1h0M987.4 787.3h0M1024.4 843.3h0" stroke="#0000ff" stroke-width="8.2" stroke-linecap="round" fill="none"/><rect x="701.2" y="593.3" width="493.5" height="390.6" fill="none" stroke="#2b2b2b" stroke-width="1.8"/><path d="M701.2 983.9v-6.0M701.2 593.3v6.0M762.9 983.9v-6.0M762.9 593.3v6.0M824.6 983.9v-6.0M824.6 593.3v6.0M886.3 983.9v-6.0M886.3 593.3v6.0M948 983.9v-6.0M948 593.3v6.0M1009.6 983.9v-6.0M1009.6 593.3v6.0M1071.3 983.9v-6.0M1071.3 593.3v6.0M1133 983.9v-6.0M1133 593.3v6.0M1194.7 983.9v-6.0M1194.7 593.3v6.0M701.2 983.9h6.0M1194.7 983.9h-6.0M701.2 918.8h6.0M1194.7 918.8h-6.0M701.2 853.7h6.0M1194.7 853.7h-6.0M701.2 788.6h6.0M1194.7 788.6h-6.0M701.2 723.5h6.0M1194.7 723.5h-6.0M701.2 658.4h6.0M1194.7 658.4h-6.0M701.2 593.3h6.0M1194.7 593.3h-6.0" stroke="#2b2b2b" stroke-width="1.8" fill="none"/><g font-family='"Liberation Sans", sans-serif'><text x="701.2" y="1006.4" font-size="14.9" text-anchor="middle" fill="#2b2b2b">-2</text><text x="762.9" y="1006.4" font-size="14.9" text-anchor="middle" fill="#2b2b2b">-1.5</text><text x="824.6" y="1006.4" font-size="14.9" text-anchor="middle" fill="#2b2b2b">-1</text><text x="886.3" y="1006.4" font-size="14.9" text-anchor="middle" fill="#2b2b2b">-0.5</text><text x="948" y="1006.4" font-size="14.9" text-anchor="middle" fill="#2b2b2b">0</text><text x="1009.6" y="1006.4" font-size="14.9" text-anchor="middle" fill="#2b2b2b">0.5</text><text x="1071.3" y="1006.4" font-size="14.9" text-anchor="middle" fill="#2b2b2b">1</text><text x="1133" y="1006.4" font-size="14.9" text-anchor="middle" fill="#2b2b2b">1.5</text><text x="1194.7" y="1006.4" font-size="14.9" text-anchor="middle" fill="#2b2b2b">2</text><text x="694.7" y="989.1" font-size="14.9" text-anchor="end" fill="#2b2b2b">-1.5</text><text x="694.7" y="924" font-size="14.9" text-anchor="end" fill="#2b2b2b">-1</text><text x="694.7" y="858.9" font-size="14.9" text-anchor="end" fill="#2b2b2b">-0.5</text><text x="694.7" y="793.8" font-size="14.9" text-anchor="end" fill="#2b2b2b">0</text><text x="694.7" y="728.7" font-size="14.9" text-anchor="end" fill="#2b2b2b">0.5</text><text x="694.7" y="663.6" font-size="14.9" text-anchor="end" fill="#2b2b2b">1</text><text x="694.7" y="598.5" font-size="14.9" text-anchor="end" fill="#2b2b2b">1.5</text><text x="948" y="1029" font-size="16.4" text-anchor="middle" fill="#2b2b2b">Feature 1</text><text transform="translate(661,788.6) rotate(-90)" font-size="16.4" text-anchor="middle" fill="#2b2b2b">Feature 2</text></g>
<g font-family='"Liberation Serif", serif'><text x="142" y="501.3" font-size="32" textLength="284" lengthAdjust="spacingAndGlyphs" fill="#111">(a) Two-Moon Data</text><text x="854.5" y="500.8" font-size="32" textLength="165.5" lengthAdjust="spacingAndGlyphs" fill="#111">(b) MaxVar</text><text x="200" y="1090" font-size="32" textLength="170" lengthAdjust="spacingAndGlyphs" fill="#111">(c) DSRMR</text><text x="855.5" y="1090" font-size="32" textLength="164" lengthAdjust="spacingAndGlyphs" fill="#111">(d) BDGFS</text></g>
</svg>
</body></html>
